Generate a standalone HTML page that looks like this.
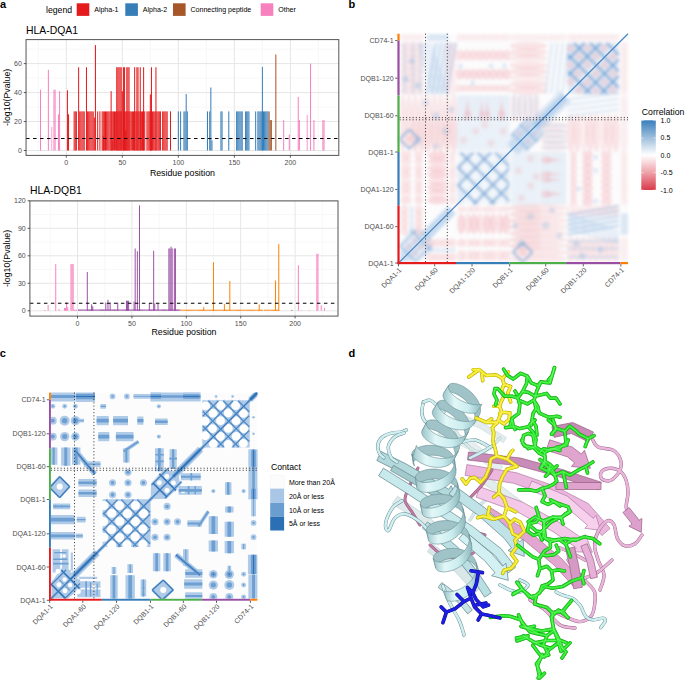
<!DOCTYPE html>
<html><head><meta charset="utf-8"><style>
html,body{margin:0;padding:0;background:#fff;width:685px;height:682px;overflow:hidden}
svg{display:block}
text{font-family:"Liberation Sans",sans-serif}
</style></head><body>
<svg width="685" height="682" viewBox="0 0 685 682">
<g>
<line x1="26.05" x2="338.8" y1="136.02" y2="136.02" stroke="#F2F2F2" stroke-width="0.6"/>
<line x1="26.05" x2="338.8" y1="107.06" y2="107.06" stroke="#F2F2F2" stroke-width="0.6"/>
<line x1="26.05" x2="338.8" y1="78.10" y2="78.10" stroke="#F2F2F2" stroke-width="0.6"/>
<line x1="26.05" x2="338.8" y1="49.14" y2="49.14" stroke="#F2F2F2" stroke-width="0.6"/>
<line y1="39.6" y2="155.4" x1="38.29" x2="38.29" stroke="#F2F2F2" stroke-width="0.6"/>
<line y1="39.6" y2="155.4" x1="94.31" x2="94.31" stroke="#F2F2F2" stroke-width="0.6"/>
<line y1="39.6" y2="155.4" x1="150.34" x2="150.34" stroke="#F2F2F2" stroke-width="0.6"/>
<line y1="39.6" y2="155.4" x1="206.36" x2="206.36" stroke="#F2F2F2" stroke-width="0.6"/>
<line y1="39.6" y2="155.4" x1="262.39" x2="262.39" stroke="#F2F2F2" stroke-width="0.6"/>
<line y1="39.6" y2="155.4" x1="318.41" x2="318.41" stroke="#F2F2F2" stroke-width="0.6"/>
<line x1="26.05" x2="338.8" y1="150.50" y2="150.50" stroke="#E6E6E6" stroke-width="1"/>
<line x1="26.05" x2="338.8" y1="121.54" y2="121.54" stroke="#E6E6E6" stroke-width="1"/>
<line x1="26.05" x2="338.8" y1="92.58" y2="92.58" stroke="#E6E6E6" stroke-width="1"/>
<line x1="26.05" x2="338.8" y1="63.62" y2="63.62" stroke="#E6E6E6" stroke-width="1"/>
<line y1="39.6" y2="155.4" x1="66.30" x2="66.30" stroke="#E6E6E6" stroke-width="1"/>
<line y1="39.6" y2="155.4" x1="122.33" x2="122.33" stroke="#E6E6E6" stroke-width="1"/>
<line y1="39.6" y2="155.4" x1="178.35" x2="178.35" stroke="#E6E6E6" stroke-width="1"/>
<line y1="39.6" y2="155.4" x1="234.38" x2="234.38" stroke="#E6E6E6" stroke-width="1"/>
<line y1="39.6" y2="155.4" x1="290.40" x2="290.40" stroke="#E6E6E6" stroke-width="1"/>
<rect x="94.93" y="45.09" width="1.01" height="105.41" fill="#E41A1C" opacity="1"/>
<rect x="275.33" y="54.50" width="1.01" height="96.00" fill="#A65628" opacity="1"/>
<rect x="310.06" y="63.62" width="1.01" height="86.88" fill="#F781BF" opacity="1"/>
<rect x="261.88" y="66.95" width="1.01" height="83.55" fill="#377EB8" opacity="1"/>
<rect x="78.12" y="67.24" width="1.01" height="83.26" fill="#E41A1C" opacity="1"/>
<rect x="85.96" y="67.24" width="1.01" height="83.26" fill="#E41A1C" opacity="1"/>
<rect x="116.22" y="67.24" width="1.01" height="83.26" fill="#E41A1C" opacity="1"/>
<rect x="117.34" y="67.24" width="1.01" height="83.26" fill="#E41A1C" opacity="1"/>
<rect x="118.46" y="67.24" width="1.01" height="83.26" fill="#E41A1C" opacity="1"/>
<rect x="119.58" y="67.24" width="1.01" height="83.26" fill="#E41A1C" opacity="1"/>
<rect x="120.70" y="67.24" width="1.01" height="83.26" fill="#E41A1C" opacity="1"/>
<rect x="122.94" y="67.24" width="1.01" height="83.26" fill="#E41A1C" opacity="1"/>
<rect x="124.06" y="67.24" width="1.01" height="83.26" fill="#E41A1C" opacity="1"/>
<rect x="126.30" y="67.24" width="1.01" height="83.26" fill="#E41A1C" opacity="1"/>
<rect x="127.42" y="67.24" width="1.01" height="83.26" fill="#E41A1C" opacity="1"/>
<rect x="128.54" y="67.24" width="1.01" height="83.26" fill="#E41A1C" opacity="1"/>
<rect x="134.15" y="67.24" width="1.01" height="83.26" fill="#E41A1C" opacity="1"/>
<rect x="136.39" y="67.24" width="1.01" height="83.26" fill="#E41A1C" opacity="1"/>
<rect x="137.51" y="67.24" width="1.01" height="83.26" fill="#E41A1C" opacity="1"/>
<rect x="139.75" y="67.24" width="1.01" height="83.26" fill="#E41A1C" opacity="1"/>
<rect x="143.11" y="67.24" width="1.01" height="83.26" fill="#E41A1C" opacity="1"/>
<rect x="150.95" y="67.24" width="1.01" height="83.26" fill="#E41A1C" opacity="1"/>
<rect x="155.44" y="67.24" width="1.01" height="83.26" fill="#E41A1C" opacity="1"/>
<rect x="47.87" y="69.85" width="1.01" height="80.65" fill="#F781BF" opacity="1"/>
<rect x="210.34" y="87.51" width="1.01" height="62.99" fill="#377EB8" opacity="1"/>
<rect x="40.02" y="89.68" width="1.01" height="60.82" fill="#F781BF" opacity="1"/>
<rect x="53.47" y="89.68" width="1.01" height="60.82" fill="#F781BF" opacity="1"/>
<rect x="54.59" y="89.68" width="1.01" height="60.82" fill="#F781BF" opacity="1"/>
<rect x="66.92" y="90.26" width="1.01" height="60.24" fill="#E41A1C" opacity="1"/>
<rect x="59.07" y="91.13" width="1.01" height="59.37" fill="#F781BF" opacity="1"/>
<rect x="110.62" y="91.13" width="1.01" height="59.37" fill="#E41A1C" opacity="1"/>
<rect x="121.82" y="91.13" width="1.01" height="59.37" fill="#E41A1C" opacity="1"/>
<rect x="185.69" y="94.03" width="1.01" height="56.47" fill="#377EB8" opacity="1"/>
<rect x="149.83" y="94.46" width="1.01" height="56.04" fill="#E41A1C" opacity="1"/>
<rect x="297.74" y="96.92" width="1.01" height="53.58" fill="#F781BF" opacity="1"/>
<rect x="73.64" y="111.40" width="1.01" height="39.10" fill="#E41A1C" opacity="1"/>
<rect x="74.76" y="111.40" width="1.01" height="39.10" fill="#E41A1C" opacity="1"/>
<rect x="75.88" y="111.40" width="1.01" height="39.10" fill="#E41A1C" opacity="1"/>
<rect x="79.24" y="111.40" width="1.01" height="39.10" fill="#E41A1C" opacity="1"/>
<rect x="80.36" y="111.40" width="1.01" height="39.10" fill="#E41A1C" opacity="1"/>
<rect x="81.48" y="111.40" width="1.01" height="39.10" fill="#E41A1C" opacity="1"/>
<rect x="82.60" y="111.40" width="1.01" height="39.10" fill="#E41A1C" opacity="1"/>
<rect x="83.72" y="111.40" width="1.01" height="39.10" fill="#E41A1C" opacity="1"/>
<rect x="87.09" y="111.40" width="1.01" height="39.10" fill="#E41A1C" opacity="1"/>
<rect x="88.21" y="111.40" width="1.01" height="39.10" fill="#E41A1C" opacity="1"/>
<rect x="89.33" y="111.40" width="1.01" height="39.10" fill="#E41A1C" opacity="1"/>
<rect x="90.45" y="111.40" width="1.01" height="39.10" fill="#E41A1C" opacity="1"/>
<rect x="91.57" y="111.40" width="1.01" height="39.10" fill="#E41A1C" opacity="1"/>
<rect x="92.69" y="111.40" width="1.01" height="39.10" fill="#E41A1C" opacity="1"/>
<rect x="97.17" y="111.40" width="1.01" height="39.10" fill="#E41A1C" opacity="1"/>
<rect x="99.41" y="111.40" width="1.01" height="39.10" fill="#E41A1C" opacity="1"/>
<rect x="101.65" y="111.40" width="1.01" height="39.10" fill="#E41A1C" opacity="1"/>
<rect x="102.77" y="111.40" width="1.01" height="39.10" fill="#E41A1C" opacity="1"/>
<rect x="103.89" y="111.40" width="1.01" height="39.10" fill="#E41A1C" opacity="1"/>
<rect x="105.01" y="111.40" width="1.01" height="39.10" fill="#E41A1C" opacity="1"/>
<rect x="106.13" y="111.40" width="1.01" height="39.10" fill="#E41A1C" opacity="1"/>
<rect x="107.25" y="111.40" width="1.01" height="39.10" fill="#E41A1C" opacity="1"/>
<rect x="108.37" y="111.40" width="1.01" height="39.10" fill="#E41A1C" opacity="1"/>
<rect x="109.50" y="111.40" width="1.01" height="39.10" fill="#E41A1C" opacity="1"/>
<rect x="110.62" y="111.40" width="1.01" height="39.10" fill="#E41A1C" opacity="1"/>
<rect x="111.74" y="111.40" width="1.01" height="39.10" fill="#E41A1C" opacity="1"/>
<rect x="112.86" y="111.40" width="1.01" height="39.10" fill="#E41A1C" opacity="1"/>
<rect x="113.98" y="111.40" width="1.01" height="39.10" fill="#E41A1C" opacity="1"/>
<rect x="115.10" y="111.40" width="1.01" height="39.10" fill="#E41A1C" opacity="1"/>
<rect x="116.22" y="111.40" width="1.01" height="39.10" fill="#E41A1C" opacity="1"/>
<rect x="117.34" y="111.40" width="1.01" height="39.10" fill="#E41A1C" opacity="1"/>
<rect x="118.46" y="111.40" width="1.01" height="39.10" fill="#E41A1C" opacity="1"/>
<rect x="119.58" y="111.40" width="1.01" height="39.10" fill="#E41A1C" opacity="1"/>
<rect x="120.70" y="111.40" width="1.01" height="39.10" fill="#E41A1C" opacity="1"/>
<rect x="122.94" y="111.40" width="1.01" height="39.10" fill="#E41A1C" opacity="1"/>
<rect x="124.06" y="111.40" width="1.01" height="39.10" fill="#E41A1C" opacity="1"/>
<rect x="125.18" y="111.40" width="1.01" height="39.10" fill="#E41A1C" opacity="1"/>
<rect x="126.30" y="111.40" width="1.01" height="39.10" fill="#E41A1C" opacity="1"/>
<rect x="127.42" y="111.40" width="1.01" height="39.10" fill="#E41A1C" opacity="1"/>
<rect x="128.54" y="111.40" width="1.01" height="39.10" fill="#E41A1C" opacity="1"/>
<rect x="129.66" y="111.40" width="1.01" height="39.10" fill="#E41A1C" opacity="1"/>
<rect x="130.78" y="111.40" width="1.01" height="39.10" fill="#E41A1C" opacity="1"/>
<rect x="131.91" y="111.40" width="1.01" height="39.10" fill="#E41A1C" opacity="1"/>
<rect x="133.03" y="111.40" width="1.01" height="39.10" fill="#E41A1C" opacity="1"/>
<rect x="134.15" y="111.40" width="1.01" height="39.10" fill="#E41A1C" opacity="1"/>
<rect x="135.27" y="111.40" width="1.01" height="39.10" fill="#E41A1C" opacity="1"/>
<rect x="136.39" y="111.40" width="1.01" height="39.10" fill="#E41A1C" opacity="1"/>
<rect x="137.51" y="111.40" width="1.01" height="39.10" fill="#E41A1C" opacity="1"/>
<rect x="138.63" y="111.40" width="1.01" height="39.10" fill="#E41A1C" opacity="1"/>
<rect x="139.75" y="111.40" width="1.01" height="39.10" fill="#E41A1C" opacity="1"/>
<rect x="140.87" y="111.40" width="1.01" height="39.10" fill="#E41A1C" opacity="1"/>
<rect x="141.99" y="111.40" width="1.01" height="39.10" fill="#E41A1C" opacity="1"/>
<rect x="143.11" y="111.40" width="1.01" height="39.10" fill="#E41A1C" opacity="1"/>
<rect x="144.23" y="111.40" width="1.01" height="39.10" fill="#E41A1C" opacity="1"/>
<rect x="146.47" y="111.40" width="1.01" height="39.10" fill="#E41A1C" opacity="1"/>
<rect x="147.59" y="111.40" width="1.01" height="39.10" fill="#E41A1C" opacity="1"/>
<rect x="148.71" y="111.40" width="1.01" height="39.10" fill="#E41A1C" opacity="1"/>
<rect x="149.83" y="111.40" width="1.01" height="39.10" fill="#E41A1C" opacity="1"/>
<rect x="150.95" y="111.40" width="1.01" height="39.10" fill="#E41A1C" opacity="1"/>
<rect x="152.07" y="111.40" width="1.01" height="39.10" fill="#E41A1C" opacity="1"/>
<rect x="153.19" y="111.40" width="1.01" height="39.10" fill="#E41A1C" opacity="1"/>
<rect x="154.32" y="111.40" width="1.01" height="39.10" fill="#E41A1C" opacity="1"/>
<rect x="155.44" y="111.40" width="1.01" height="39.10" fill="#E41A1C" opacity="1"/>
<rect x="156.56" y="111.40" width="1.01" height="39.10" fill="#E41A1C" opacity="1"/>
<rect x="157.68" y="111.40" width="1.01" height="39.10" fill="#E41A1C" opacity="1"/>
<rect x="158.80" y="111.40" width="1.01" height="39.10" fill="#E41A1C" opacity="1"/>
<rect x="159.92" y="111.40" width="1.01" height="39.10" fill="#E41A1C" opacity="1"/>
<rect x="162.16" y="111.40" width="1.01" height="39.10" fill="#E41A1C" opacity="1"/>
<rect x="163.28" y="111.40" width="1.01" height="39.10" fill="#E41A1C" opacity="1"/>
<rect x="164.40" y="111.40" width="1.01" height="39.10" fill="#E41A1C" opacity="1"/>
<rect x="165.52" y="111.40" width="1.01" height="39.10" fill="#E41A1C" opacity="1"/>
<rect x="166.64" y="111.40" width="1.01" height="39.10" fill="#E41A1C" opacity="1"/>
<rect x="170.00" y="111.40" width="1.01" height="39.10" fill="#E41A1C" opacity="1"/>
<rect x="177.85" y="111.40" width="1.01" height="39.10" fill="#377EB8" opacity="1"/>
<rect x="180.09" y="111.40" width="1.01" height="39.10" fill="#377EB8" opacity="1"/>
<rect x="183.45" y="111.40" width="1.01" height="39.10" fill="#377EB8" opacity="1"/>
<rect x="184.57" y="111.40" width="1.01" height="39.10" fill="#377EB8" opacity="1"/>
<rect x="186.81" y="111.40" width="1.01" height="39.10" fill="#377EB8" opacity="1"/>
<rect x="206.98" y="111.40" width="1.01" height="39.10" fill="#377EB8" opacity="1"/>
<rect x="209.22" y="111.40" width="1.01" height="39.10" fill="#377EB8" opacity="1"/>
<rect x="220.42" y="111.40" width="1.01" height="39.10" fill="#377EB8" opacity="1"/>
<rect x="221.55" y="111.40" width="1.01" height="39.10" fill="#377EB8" opacity="1"/>
<rect x="228.27" y="111.40" width="1.01" height="39.10" fill="#377EB8" opacity="1"/>
<rect x="236.11" y="111.40" width="1.01" height="39.10" fill="#377EB8" opacity="1"/>
<rect x="237.23" y="111.40" width="1.01" height="39.10" fill="#377EB8" opacity="1"/>
<rect x="238.35" y="111.40" width="1.01" height="39.10" fill="#377EB8" opacity="1"/>
<rect x="239.47" y="111.40" width="1.01" height="39.10" fill="#377EB8" opacity="1"/>
<rect x="240.59" y="111.40" width="1.01" height="39.10" fill="#377EB8" opacity="1"/>
<rect x="241.71" y="111.40" width="1.01" height="39.10" fill="#377EB8" opacity="1"/>
<rect x="245.08" y="111.40" width="1.01" height="39.10" fill="#377EB8" opacity="1"/>
<rect x="246.20" y="111.40" width="1.01" height="39.10" fill="#377EB8" opacity="1"/>
<rect x="247.32" y="111.40" width="1.01" height="39.10" fill="#377EB8" opacity="1"/>
<rect x="248.44" y="111.40" width="1.01" height="39.10" fill="#377EB8" opacity="1"/>
<rect x="255.16" y="111.40" width="1.01" height="39.10" fill="#377EB8" opacity="1"/>
<rect x="257.40" y="111.40" width="1.01" height="39.10" fill="#377EB8" opacity="1"/>
<rect x="258.52" y="111.40" width="1.01" height="39.10" fill="#377EB8" opacity="1"/>
<rect x="259.64" y="111.40" width="1.01" height="39.10" fill="#377EB8" opacity="1"/>
<rect x="260.76" y="111.40" width="1.01" height="39.10" fill="#377EB8" opacity="1"/>
<rect x="261.88" y="111.40" width="1.01" height="39.10" fill="#377EB8" opacity="1"/>
<rect x="263.00" y="111.40" width="1.01" height="39.10" fill="#377EB8" opacity="1"/>
<rect x="264.12" y="111.40" width="1.01" height="39.10" fill="#377EB8" opacity="1"/>
<rect x="265.24" y="111.40" width="1.01" height="39.10" fill="#377EB8" opacity="1"/>
<rect x="266.37" y="111.40" width="1.01" height="39.10" fill="#377EB8" opacity="1"/>
<rect x="267.49" y="111.40" width="1.01" height="39.10" fill="#377EB8" opacity="1"/>
<rect x="268.61" y="111.40" width="1.01" height="39.10" fill="#A65628" opacity="1"/>
<rect x="57.95" y="114.30" width="1.01" height="36.20" fill="#F781BF" opacity="1"/>
<rect x="68.04" y="114.30" width="1.01" height="36.20" fill="#E41A1C" opacity="1"/>
<rect x="306.70" y="114.88" width="1.01" height="35.62" fill="#F781BF" opacity="0.8"/>
<rect x="93.81" y="117.49" width="1.01" height="33.01" fill="#E41A1C" opacity="1"/>
<rect x="269.73" y="120.09" width="1.01" height="30.41" fill="#A65628" opacity="1"/>
<rect x="270.85" y="120.09" width="1.01" height="30.41" fill="#A65628" opacity="1"/>
<rect x="283.17" y="120.09" width="1.01" height="30.41" fill="#F781BF" opacity="1"/>
<rect x="298.86" y="120.09" width="1.01" height="30.41" fill="#F781BF" opacity="1"/>
<rect x="313.43" y="120.09" width="1.01" height="30.41" fill="#F781BF" opacity="1"/>
<rect x="322.39" y="120.09" width="1.01" height="30.41" fill="#F781BF" opacity="1"/>
<rect x="323.51" y="120.09" width="1.01" height="30.41" fill="#F781BF" opacity="1"/>
<rect x="51.23" y="126.75" width="1.01" height="23.75" fill="#F781BF" opacity="0.7"/>
<rect x="125.18" y="130.23" width="1.01" height="20.27" fill="#E41A1C" opacity="1"/>
<rect x="288.78" y="134.57" width="1.01" height="15.93" fill="#F781BF" opacity="1"/>
<rect x="102.77" y="136.02" width="1.01" height="14.48" fill="#E41A1C" opacity="1"/>
<rect x="111.74" y="140.36" width="1.01" height="10.14" fill="#E41A1C" opacity="1"/>
<rect x="211.46" y="140.36" width="1.01" height="10.14" fill="#377EB8" opacity="1"/>
<line x1="26.05" x2="338.8" y1="138.48" y2="138.48" stroke="#000" stroke-width="1.1" stroke-dasharray="3.5 3.5"/>
<rect x="26.05" y="39.6" width="312.75" height="115.80000000000001" fill="none" stroke="#555" stroke-width="1"/>
<line x1="23.75" x2="26.05" y1="150.50" y2="150.50" stroke="#333" stroke-width="0.8"/>
<text x="21.85" y="153.00" font-size="7" text-anchor="end" fill="#4D4D4D" >0</text>
<line x1="23.75" x2="26.05" y1="121.54" y2="121.54" stroke="#333" stroke-width="0.8"/>
<text x="21.85" y="124.04" font-size="7" text-anchor="end" fill="#4D4D4D" >20</text>
<line x1="23.75" x2="26.05" y1="92.58" y2="92.58" stroke="#333" stroke-width="0.8"/>
<text x="21.85" y="95.08" font-size="7" text-anchor="end" fill="#4D4D4D" >40</text>
<line x1="23.75" x2="26.05" y1="63.62" y2="63.62" stroke="#333" stroke-width="0.8"/>
<text x="21.85" y="66.12" font-size="7" text-anchor="end" fill="#4D4D4D" >60</text>
<line x1="66.30" x2="66.30" y1="155.4" y2="157.70000000000002" stroke="#333" stroke-width="0.8"/>
<text x="66.30" y="165.20" font-size="7" text-anchor="middle" fill="#4D4D4D" >0</text>
<line x1="122.33" x2="122.33" y1="155.4" y2="157.70000000000002" stroke="#333" stroke-width="0.8"/>
<text x="122.33" y="165.20" font-size="7" text-anchor="middle" fill="#4D4D4D" >50</text>
<line x1="178.35" x2="178.35" y1="155.4" y2="157.70000000000002" stroke="#333" stroke-width="0.8"/>
<text x="178.35" y="165.20" font-size="7" text-anchor="middle" fill="#4D4D4D" >100</text>
<line x1="234.38" x2="234.38" y1="155.4" y2="157.70000000000002" stroke="#333" stroke-width="0.8"/>
<text x="234.38" y="165.20" font-size="7" text-anchor="middle" fill="#4D4D4D" >150</text>
<line x1="290.40" x2="290.40" y1="155.4" y2="157.70000000000002" stroke="#333" stroke-width="0.8"/>
<text x="290.40" y="165.20" font-size="7" text-anchor="middle" fill="#4D4D4D" >200</text>
<text x="26.05" y="34.00" font-size="10.4" text-anchor="start" fill="#000" >HLA-DQA1</text>
</g>
<g>
<line x1="29.9" x2="338.0" y1="297.05" y2="297.05" stroke="#F2F2F2" stroke-width="0.6"/>
<line x1="29.9" x2="338.0" y1="269.55" y2="269.55" stroke="#F2F2F2" stroke-width="0.6"/>
<line x1="29.9" x2="338.0" y1="242.05" y2="242.05" stroke="#F2F2F2" stroke-width="0.6"/>
<line x1="29.9" x2="338.0" y1="214.55" y2="214.55" stroke="#F2F2F2" stroke-width="0.6"/>
<line y1="200.9" y2="316.1" x1="50.30" x2="50.30" stroke="#F2F2F2" stroke-width="0.6"/>
<line y1="200.9" y2="316.1" x1="104.70" x2="104.70" stroke="#F2F2F2" stroke-width="0.6"/>
<line y1="200.9" y2="316.1" x1="159.10" x2="159.10" stroke="#F2F2F2" stroke-width="0.6"/>
<line y1="200.9" y2="316.1" x1="213.50" x2="213.50" stroke="#F2F2F2" stroke-width="0.6"/>
<line y1="200.9" y2="316.1" x1="267.90" x2="267.90" stroke="#F2F2F2" stroke-width="0.6"/>
<line y1="200.9" y2="316.1" x1="322.30" x2="322.30" stroke="#F2F2F2" stroke-width="0.6"/>
<line x1="29.9" x2="338.0" y1="310.80" y2="310.80" stroke="#E6E6E6" stroke-width="1"/>
<line x1="29.9" x2="338.0" y1="283.30" y2="283.30" stroke="#E6E6E6" stroke-width="1"/>
<line x1="29.9" x2="338.0" y1="255.80" y2="255.80" stroke="#E6E6E6" stroke-width="1"/>
<line x1="29.9" x2="338.0" y1="228.30" y2="228.30" stroke="#E6E6E6" stroke-width="1"/>
<line x1="29.9" x2="338.0" y1="200.80" y2="200.80" stroke="#E6E6E6" stroke-width="1"/>
<line y1="200.9" y2="316.1" x1="77.50" x2="77.50" stroke="#E6E6E6" stroke-width="1"/>
<line y1="200.9" y2="316.1" x1="131.90" x2="131.90" stroke="#E6E6E6" stroke-width="1"/>
<line y1="200.9" y2="316.1" x1="186.30" x2="186.30" stroke="#E6E6E6" stroke-width="1"/>
<line y1="200.9" y2="316.1" x1="240.70" x2="240.70" stroke="#E6E6E6" stroke-width="1"/>
<line y1="200.9" y2="316.1" x1="295.10" x2="295.10" stroke="#E6E6E6" stroke-width="1"/>
<rect x="139.03" y="205.38" width="0.98" height="105.42" fill="#984EA3" opacity="1"/>
<rect x="278.29" y="244.06" width="0.98" height="66.74" fill="#FF7F00" opacity="1"/>
<rect x="170.58" y="246.63" width="0.98" height="64.17" fill="#984EA3" opacity="1"/>
<rect x="134.67" y="248.46" width="0.98" height="62.34" fill="#984EA3" opacity="1"/>
<rect x="168.40" y="248.46" width="0.98" height="62.34" fill="#984EA3" opacity="1"/>
<rect x="169.49" y="248.46" width="0.98" height="62.34" fill="#984EA3" opacity="1"/>
<rect x="171.67" y="248.46" width="0.98" height="62.34" fill="#984EA3" opacity="1"/>
<rect x="173.84" y="248.46" width="0.98" height="62.34" fill="#984EA3" opacity="1"/>
<rect x="174.93" y="248.46" width="0.98" height="62.34" fill="#984EA3" opacity="1"/>
<rect x="153.17" y="250.76" width="0.98" height="60.04" fill="#984EA3" opacity="1"/>
<rect x="136.85" y="251.21" width="0.98" height="59.59" fill="#984EA3" opacity="1"/>
<rect x="316.37" y="253.78" width="0.98" height="57.02" fill="#F781BF" opacity="1"/>
<rect x="317.46" y="253.78" width="0.98" height="57.02" fill="#F781BF" opacity="1"/>
<rect x="213.01" y="262.21" width="0.98" height="48.59" fill="#FF7F00" opacity="1"/>
<rect x="55.25" y="264.05" width="0.98" height="46.75" fill="#F781BF" opacity="1"/>
<rect x="70.48" y="264.05" width="0.98" height="46.75" fill="#F781BF" opacity="1"/>
<rect x="71.57" y="264.05" width="0.98" height="46.75" fill="#F781BF" opacity="1"/>
<rect x="72.66" y="264.05" width="0.98" height="46.75" fill="#F781BF" opacity="1"/>
<rect x="297.87" y="265.24" width="0.98" height="45.56" fill="#F781BF" opacity="1"/>
<rect x="86.80" y="272.02" width="0.98" height="38.78" fill="#984EA3" opacity="1"/>
<rect x="275.03" y="280.55" width="0.98" height="30.25" fill="#FF7F00" opacity="1"/>
<rect x="229.33" y="281.10" width="0.98" height="29.70" fill="#FF7F00" opacity="1"/>
<rect x="107.47" y="299.80" width="0.98" height="11.00" fill="#984EA3" opacity="1"/>
<rect x="125.97" y="300.72" width="0.98" height="10.08" fill="#984EA3" opacity="1"/>
<rect x="127.06" y="300.72" width="0.98" height="10.08" fill="#984EA3" opacity="1"/>
<rect x="128.15" y="300.72" width="0.98" height="10.08" fill="#984EA3" opacity="1"/>
<rect x="133.59" y="301.63" width="0.98" height="9.17" fill="#984EA3" opacity="1"/>
<rect x="66.13" y="302.00" width="0.98" height="8.80" fill="#F781BF" opacity="1"/>
<rect x="105.30" y="302.55" width="0.98" height="8.25" fill="#984EA3" opacity="1"/>
<rect x="109.65" y="302.55" width="0.98" height="8.25" fill="#984EA3" opacity="1"/>
<rect x="117.27" y="302.55" width="0.98" height="8.25" fill="#984EA3" opacity="1"/>
<rect x="148.82" y="303.47" width="0.98" height="7.33" fill="#984EA3" opacity="1"/>
<rect x="154.26" y="303.47" width="0.98" height="7.33" fill="#984EA3" opacity="1"/>
<rect x="157.52" y="303.47" width="0.98" height="7.33" fill="#984EA3" opacity="1"/>
<rect x="223.89" y="303.92" width="0.98" height="6.88" fill="#FF7F00" opacity="1"/>
<rect x="91.15" y="304.38" width="0.98" height="6.42" fill="#984EA3" opacity="1"/>
<rect x="258.71" y="304.38" width="0.98" height="6.42" fill="#FF7F00" opacity="1"/>
<rect x="47.63" y="305.02" width="0.98" height="5.78" fill="#F781BF" opacity="1"/>
<rect x="320.72" y="305.30" width="0.98" height="5.50" fill="#F781BF" opacity="1"/>
<rect x="92.24" y="306.22" width="0.98" height="4.58" fill="#984EA3" opacity="1"/>
<rect x="67.22" y="307.13" width="0.98" height="3.67" fill="#F781BF" opacity="1"/>
<rect x="203.22" y="307.13" width="0.98" height="3.67" fill="#FF7F00" opacity="1"/>
<rect x="63.95" y="308.05" width="0.98" height="2.75" fill="#F781BF" opacity="1"/>
<rect x="65.04" y="308.05" width="0.98" height="2.75" fill="#F781BF" opacity="1"/>
<rect x="323.99" y="308.05" width="0.98" height="2.75" fill="#F781BF" opacity="1"/>
<rect x="58.51" y="308.97" width="0.98" height="1.83" fill="#F781BF" opacity="1"/>
<rect x="78.10" y="309.42" width="0.98" height="1.38" fill="#984EA3" opacity="1"/>
<rect x="79.19" y="309.42" width="0.98" height="1.38" fill="#984EA3" opacity="1"/>
<rect x="80.27" y="309.42" width="0.98" height="1.38" fill="#984EA3" opacity="1"/>
<rect x="81.36" y="309.42" width="0.98" height="1.38" fill="#984EA3" opacity="1"/>
<rect x="82.45" y="309.42" width="0.98" height="1.38" fill="#984EA3" opacity="1"/>
<rect x="83.54" y="309.42" width="0.98" height="1.38" fill="#984EA3" opacity="1"/>
<rect x="84.63" y="309.42" width="0.98" height="1.38" fill="#984EA3" opacity="1"/>
<rect x="85.71" y="309.42" width="0.98" height="1.38" fill="#984EA3" opacity="1"/>
<rect x="86.80" y="309.42" width="0.98" height="1.38" fill="#984EA3" opacity="1"/>
<rect x="87.89" y="309.42" width="0.98" height="1.38" fill="#984EA3" opacity="1"/>
<rect x="88.98" y="309.42" width="0.98" height="1.38" fill="#984EA3" opacity="1"/>
<rect x="90.07" y="309.42" width="0.98" height="1.38" fill="#984EA3" opacity="1"/>
<rect x="91.15" y="309.42" width="0.98" height="1.38" fill="#984EA3" opacity="1"/>
<rect x="92.24" y="309.42" width="0.98" height="1.38" fill="#984EA3" opacity="1"/>
<rect x="93.33" y="309.42" width="0.98" height="1.38" fill="#984EA3" opacity="1"/>
<rect x="94.42" y="309.42" width="0.98" height="1.38" fill="#984EA3" opacity="1"/>
<rect x="95.51" y="309.42" width="0.98" height="1.38" fill="#984EA3" opacity="1"/>
<rect x="96.59" y="309.42" width="0.98" height="1.38" fill="#984EA3" opacity="1"/>
<rect x="97.68" y="309.42" width="0.98" height="1.38" fill="#984EA3" opacity="1"/>
<rect x="98.77" y="309.42" width="0.98" height="1.38" fill="#984EA3" opacity="1"/>
<rect x="99.86" y="309.42" width="0.98" height="1.38" fill="#984EA3" opacity="1"/>
<rect x="100.95" y="309.42" width="0.98" height="1.38" fill="#984EA3" opacity="1"/>
<rect x="102.03" y="309.42" width="0.98" height="1.38" fill="#984EA3" opacity="1"/>
<rect x="103.12" y="309.42" width="0.98" height="1.38" fill="#984EA3" opacity="1"/>
<rect x="104.21" y="309.42" width="0.98" height="1.38" fill="#984EA3" opacity="1"/>
<rect x="105.30" y="309.42" width="0.98" height="1.38" fill="#984EA3" opacity="1"/>
<rect x="106.39" y="309.42" width="0.98" height="1.38" fill="#984EA3" opacity="1"/>
<rect x="107.47" y="309.42" width="0.98" height="1.38" fill="#984EA3" opacity="1"/>
<rect x="108.56" y="309.42" width="0.98" height="1.38" fill="#984EA3" opacity="1"/>
<rect x="109.65" y="309.42" width="0.98" height="1.38" fill="#984EA3" opacity="1"/>
<rect x="110.74" y="309.42" width="0.98" height="1.38" fill="#984EA3" opacity="1"/>
<rect x="111.83" y="309.42" width="0.98" height="1.38" fill="#984EA3" opacity="1"/>
<rect x="112.91" y="309.42" width="0.98" height="1.38" fill="#984EA3" opacity="1"/>
<rect x="114.00" y="309.42" width="0.98" height="1.38" fill="#984EA3" opacity="1"/>
<rect x="115.09" y="309.42" width="0.98" height="1.38" fill="#984EA3" opacity="1"/>
<rect x="116.18" y="309.42" width="0.98" height="1.38" fill="#984EA3" opacity="1"/>
<rect x="117.27" y="309.42" width="0.98" height="1.38" fill="#984EA3" opacity="1"/>
<rect x="118.35" y="309.42" width="0.98" height="1.38" fill="#984EA3" opacity="1"/>
<rect x="119.44" y="309.42" width="0.98" height="1.38" fill="#984EA3" opacity="1"/>
<rect x="120.53" y="309.42" width="0.98" height="1.38" fill="#984EA3" opacity="1"/>
<rect x="121.62" y="309.42" width="0.98" height="1.38" fill="#984EA3" opacity="1"/>
<rect x="122.71" y="309.42" width="0.98" height="1.38" fill="#984EA3" opacity="1"/>
<rect x="123.79" y="309.42" width="0.98" height="1.38" fill="#984EA3" opacity="1"/>
<rect x="124.88" y="309.42" width="0.98" height="1.38" fill="#984EA3" opacity="1"/>
<rect x="125.97" y="309.42" width="0.98" height="1.38" fill="#984EA3" opacity="1"/>
<rect x="127.06" y="309.42" width="0.98" height="1.38" fill="#984EA3" opacity="1"/>
<rect x="128.15" y="309.42" width="0.98" height="1.38" fill="#984EA3" opacity="1"/>
<rect x="129.23" y="309.42" width="0.98" height="1.38" fill="#984EA3" opacity="1"/>
<rect x="130.32" y="309.42" width="0.98" height="1.38" fill="#984EA3" opacity="1"/>
<rect x="131.41" y="309.42" width="0.98" height="1.38" fill="#984EA3" opacity="1"/>
<rect x="132.50" y="309.42" width="0.98" height="1.38" fill="#984EA3" opacity="1"/>
<rect x="133.59" y="309.42" width="0.98" height="1.38" fill="#984EA3" opacity="1"/>
<rect x="134.67" y="309.42" width="0.98" height="1.38" fill="#984EA3" opacity="1"/>
<rect x="135.76" y="309.42" width="0.98" height="1.38" fill="#984EA3" opacity="1"/>
<rect x="136.85" y="309.42" width="0.98" height="1.38" fill="#984EA3" opacity="1"/>
<rect x="137.94" y="309.42" width="0.98" height="1.38" fill="#984EA3" opacity="1"/>
<rect x="139.03" y="309.42" width="0.98" height="1.38" fill="#984EA3" opacity="1"/>
<rect x="140.11" y="309.42" width="0.98" height="1.38" fill="#984EA3" opacity="1"/>
<rect x="141.20" y="309.42" width="0.98" height="1.38" fill="#984EA3" opacity="1"/>
<rect x="142.29" y="309.42" width="0.98" height="1.38" fill="#984EA3" opacity="1"/>
<rect x="143.38" y="309.42" width="0.98" height="1.38" fill="#984EA3" opacity="1"/>
<rect x="144.47" y="309.42" width="0.98" height="1.38" fill="#984EA3" opacity="1"/>
<rect x="145.55" y="309.42" width="0.98" height="1.38" fill="#984EA3" opacity="1"/>
<rect x="146.64" y="309.42" width="0.98" height="1.38" fill="#984EA3" opacity="1"/>
<rect x="147.73" y="309.42" width="0.98" height="1.38" fill="#984EA3" opacity="1"/>
<rect x="148.82" y="309.42" width="0.98" height="1.38" fill="#984EA3" opacity="1"/>
<rect x="149.91" y="309.42" width="0.98" height="1.38" fill="#984EA3" opacity="1"/>
<rect x="150.99" y="309.42" width="0.98" height="1.38" fill="#984EA3" opacity="1"/>
<rect x="152.08" y="309.42" width="0.98" height="1.38" fill="#984EA3" opacity="1"/>
<rect x="153.17" y="309.42" width="0.98" height="1.38" fill="#984EA3" opacity="1"/>
<rect x="154.26" y="309.42" width="0.98" height="1.38" fill="#984EA3" opacity="1"/>
<rect x="155.35" y="309.42" width="0.98" height="1.38" fill="#984EA3" opacity="1"/>
<rect x="156.43" y="309.42" width="0.98" height="1.38" fill="#984EA3" opacity="1"/>
<rect x="157.52" y="309.42" width="0.98" height="1.38" fill="#984EA3" opacity="1"/>
<rect x="158.61" y="309.42" width="0.98" height="1.38" fill="#984EA3" opacity="1"/>
<rect x="159.70" y="309.42" width="0.98" height="1.38" fill="#984EA3" opacity="1"/>
<rect x="160.79" y="309.42" width="0.98" height="1.38" fill="#984EA3" opacity="1"/>
<rect x="161.87" y="309.42" width="0.98" height="1.38" fill="#984EA3" opacity="1"/>
<rect x="162.96" y="309.42" width="0.98" height="1.38" fill="#984EA3" opacity="1"/>
<rect x="164.05" y="309.42" width="0.98" height="1.38" fill="#984EA3" opacity="1"/>
<rect x="165.14" y="309.42" width="0.98" height="1.38" fill="#984EA3" opacity="1"/>
<rect x="166.23" y="309.42" width="0.98" height="1.38" fill="#984EA3" opacity="1"/>
<rect x="167.31" y="309.42" width="0.98" height="1.38" fill="#984EA3" opacity="1"/>
<rect x="168.40" y="309.42" width="0.98" height="1.38" fill="#984EA3" opacity="1"/>
<rect x="169.49" y="309.42" width="0.98" height="1.38" fill="#984EA3" opacity="1"/>
<rect x="170.58" y="309.42" width="0.98" height="1.38" fill="#984EA3" opacity="1"/>
<rect x="171.67" y="309.42" width="0.98" height="1.38" fill="#984EA3" opacity="1"/>
<rect x="172.75" y="309.42" width="0.98" height="1.38" fill="#984EA3" opacity="1"/>
<rect x="173.84" y="309.42" width="0.98" height="1.38" fill="#984EA3" opacity="1"/>
<rect x="174.93" y="309.42" width="0.98" height="1.38" fill="#984EA3" opacity="1"/>
<rect x="176.02" y="309.42" width="0.98" height="1.38" fill="#984EA3" opacity="1"/>
<rect x="177.11" y="309.42" width="0.98" height="1.38" fill="#984EA3" opacity="1"/>
<rect x="178.19" y="309.42" width="0.98" height="1.38" fill="#984EA3" opacity="1"/>
<rect x="179.28" y="309.42" width="0.98" height="1.38" fill="#984EA3" opacity="1"/>
<rect x="73.75" y="309.70" width="0.98" height="1.10" fill="#F781BF" opacity="1"/>
<rect x="74.83" y="309.70" width="0.98" height="1.10" fill="#F781BF" opacity="1"/>
<rect x="75.92" y="309.70" width="0.98" height="1.10" fill="#F781BF" opacity="1"/>
<rect x="180.37" y="309.70" width="0.98" height="1.10" fill="#FF7F00" opacity="1"/>
<rect x="181.46" y="309.70" width="0.98" height="1.10" fill="#FF7F00" opacity="1"/>
<rect x="182.55" y="309.70" width="0.98" height="1.10" fill="#FF7F00" opacity="1"/>
<rect x="183.63" y="309.70" width="0.98" height="1.10" fill="#FF7F00" opacity="1"/>
<rect x="184.72" y="309.70" width="0.98" height="1.10" fill="#FF7F00" opacity="1"/>
<rect x="185.81" y="309.70" width="0.98" height="1.10" fill="#FF7F00" opacity="1"/>
<rect x="186.90" y="309.70" width="0.98" height="1.10" fill="#FF7F00" opacity="1"/>
<rect x="187.99" y="309.70" width="0.98" height="1.10" fill="#FF7F00" opacity="1"/>
<rect x="189.07" y="309.70" width="0.98" height="1.10" fill="#FF7F00" opacity="1"/>
<rect x="190.16" y="309.70" width="0.98" height="1.10" fill="#FF7F00" opacity="1"/>
<rect x="191.25" y="309.70" width="0.98" height="1.10" fill="#FF7F00" opacity="1"/>
<rect x="192.34" y="309.70" width="0.98" height="1.10" fill="#FF7F00" opacity="1"/>
<rect x="193.43" y="309.70" width="0.98" height="1.10" fill="#FF7F00" opacity="1"/>
<rect x="194.51" y="309.70" width="0.98" height="1.10" fill="#FF7F00" opacity="1"/>
<rect x="195.60" y="309.70" width="0.98" height="1.10" fill="#FF7F00" opacity="1"/>
<rect x="196.69" y="309.70" width="0.98" height="1.10" fill="#FF7F00" opacity="1"/>
<rect x="197.78" y="309.70" width="0.98" height="1.10" fill="#FF7F00" opacity="1"/>
<rect x="198.87" y="309.70" width="0.98" height="1.10" fill="#FF7F00" opacity="1"/>
<rect x="199.95" y="309.70" width="0.98" height="1.10" fill="#FF7F00" opacity="1"/>
<rect x="201.04" y="309.70" width="0.98" height="1.10" fill="#FF7F00" opacity="1"/>
<rect x="202.13" y="309.70" width="0.98" height="1.10" fill="#FF7F00" opacity="1"/>
<rect x="203.22" y="309.70" width="0.98" height="1.10" fill="#FF7F00" opacity="1"/>
<rect x="204.31" y="309.70" width="0.98" height="1.10" fill="#FF7F00" opacity="1"/>
<rect x="205.39" y="309.70" width="0.98" height="1.10" fill="#FF7F00" opacity="1"/>
<rect x="206.48" y="309.70" width="0.98" height="1.10" fill="#FF7F00" opacity="1"/>
<rect x="207.57" y="309.70" width="0.98" height="1.10" fill="#FF7F00" opacity="1"/>
<rect x="208.66" y="309.70" width="0.98" height="1.10" fill="#FF7F00" opacity="1"/>
<rect x="209.75" y="309.70" width="0.98" height="1.10" fill="#FF7F00" opacity="1"/>
<rect x="210.83" y="309.70" width="0.98" height="1.10" fill="#FF7F00" opacity="1"/>
<rect x="211.92" y="309.70" width="0.98" height="1.10" fill="#FF7F00" opacity="1"/>
<rect x="213.01" y="309.70" width="0.98" height="1.10" fill="#FF7F00" opacity="1"/>
<rect x="214.10" y="309.70" width="0.98" height="1.10" fill="#FF7F00" opacity="1"/>
<rect x="215.19" y="309.70" width="0.98" height="1.10" fill="#FF7F00" opacity="1"/>
<rect x="216.27" y="309.70" width="0.98" height="1.10" fill="#FF7F00" opacity="1"/>
<rect x="217.36" y="309.70" width="0.98" height="1.10" fill="#FF7F00" opacity="1"/>
<rect x="218.45" y="309.70" width="0.98" height="1.10" fill="#FF7F00" opacity="1"/>
<rect x="219.54" y="309.70" width="0.98" height="1.10" fill="#FF7F00" opacity="1"/>
<rect x="220.63" y="309.70" width="0.98" height="1.10" fill="#FF7F00" opacity="1"/>
<rect x="221.71" y="309.70" width="0.98" height="1.10" fill="#FF7F00" opacity="1"/>
<rect x="222.80" y="309.70" width="0.98" height="1.10" fill="#FF7F00" opacity="1"/>
<rect x="223.89" y="309.70" width="0.98" height="1.10" fill="#FF7F00" opacity="1"/>
<rect x="224.98" y="309.70" width="0.98" height="1.10" fill="#FF7F00" opacity="1"/>
<rect x="226.07" y="309.70" width="0.98" height="1.10" fill="#FF7F00" opacity="1"/>
<rect x="227.15" y="309.70" width="0.98" height="1.10" fill="#FF7F00" opacity="1"/>
<rect x="228.24" y="309.70" width="0.98" height="1.10" fill="#FF7F00" opacity="1"/>
<rect x="229.33" y="309.70" width="0.98" height="1.10" fill="#FF7F00" opacity="1"/>
<rect x="230.42" y="309.70" width="0.98" height="1.10" fill="#FF7F00" opacity="1"/>
<rect x="231.51" y="309.70" width="0.98" height="1.10" fill="#FF7F00" opacity="1"/>
<rect x="232.59" y="309.70" width="0.98" height="1.10" fill="#FF7F00" opacity="1"/>
<rect x="233.68" y="309.70" width="0.98" height="1.10" fill="#FF7F00" opacity="1"/>
<rect x="234.77" y="309.70" width="0.98" height="1.10" fill="#FF7F00" opacity="1"/>
<rect x="235.86" y="309.70" width="0.98" height="1.10" fill="#FF7F00" opacity="1"/>
<rect x="236.95" y="309.70" width="0.98" height="1.10" fill="#FF7F00" opacity="1"/>
<rect x="238.03" y="309.70" width="0.98" height="1.10" fill="#FF7F00" opacity="1"/>
<rect x="239.12" y="309.70" width="0.98" height="1.10" fill="#FF7F00" opacity="1"/>
<rect x="240.21" y="309.70" width="0.98" height="1.10" fill="#FF7F00" opacity="1"/>
<rect x="241.30" y="309.70" width="0.98" height="1.10" fill="#FF7F00" opacity="1"/>
<rect x="242.39" y="309.70" width="0.98" height="1.10" fill="#FF7F00" opacity="1"/>
<rect x="243.47" y="309.70" width="0.98" height="1.10" fill="#FF7F00" opacity="1"/>
<rect x="244.56" y="309.70" width="0.98" height="1.10" fill="#FF7F00" opacity="1"/>
<rect x="245.65" y="309.70" width="0.98" height="1.10" fill="#FF7F00" opacity="1"/>
<rect x="246.74" y="309.70" width="0.98" height="1.10" fill="#FF7F00" opacity="1"/>
<rect x="247.83" y="309.70" width="0.98" height="1.10" fill="#FF7F00" opacity="1"/>
<rect x="248.91" y="309.70" width="0.98" height="1.10" fill="#FF7F00" opacity="1"/>
<rect x="250.00" y="309.70" width="0.98" height="1.10" fill="#FF7F00" opacity="1"/>
<rect x="251.09" y="309.70" width="0.98" height="1.10" fill="#FF7F00" opacity="1"/>
<rect x="252.18" y="309.70" width="0.98" height="1.10" fill="#FF7F00" opacity="1"/>
<rect x="253.27" y="309.70" width="0.98" height="1.10" fill="#FF7F00" opacity="1"/>
<rect x="254.35" y="309.70" width="0.98" height="1.10" fill="#FF7F00" opacity="1"/>
<rect x="255.44" y="309.70" width="0.98" height="1.10" fill="#FF7F00" opacity="1"/>
<rect x="256.53" y="309.70" width="0.98" height="1.10" fill="#FF7F00" opacity="1"/>
<rect x="257.62" y="309.70" width="0.98" height="1.10" fill="#FF7F00" opacity="1"/>
<rect x="258.71" y="309.70" width="0.98" height="1.10" fill="#FF7F00" opacity="1"/>
<rect x="259.79" y="309.70" width="0.98" height="1.10" fill="#FF7F00" opacity="1"/>
<rect x="260.88" y="309.70" width="0.98" height="1.10" fill="#FF7F00" opacity="1"/>
<rect x="261.97" y="309.70" width="0.98" height="1.10" fill="#FF7F00" opacity="1"/>
<rect x="264.15" y="309.70" width="0.98" height="1.10" fill="#FF7F00" opacity="1"/>
<rect x="265.23" y="309.70" width="0.98" height="1.10" fill="#FF7F00" opacity="1"/>
<rect x="266.32" y="309.70" width="0.98" height="1.10" fill="#FF7F00" opacity="1"/>
<rect x="267.41" y="309.70" width="0.98" height="1.10" fill="#FF7F00" opacity="1"/>
<rect x="268.50" y="309.70" width="0.98" height="1.10" fill="#FF7F00" opacity="1"/>
<rect x="269.59" y="309.70" width="0.98" height="1.10" fill="#FF7F00" opacity="1"/>
<rect x="270.67" y="309.70" width="0.98" height="1.10" fill="#FF7F00" opacity="1"/>
<rect x="271.76" y="309.70" width="0.98" height="1.10" fill="#FF7F00" opacity="1"/>
<rect x="272.85" y="309.70" width="0.98" height="1.10" fill="#FF7F00" opacity="1"/>
<rect x="273.94" y="309.70" width="0.98" height="1.10" fill="#FF7F00" opacity="1"/>
<rect x="275.03" y="309.70" width="0.98" height="1.10" fill="#FF7F00" opacity="1"/>
<rect x="276.11" y="309.70" width="0.98" height="1.10" fill="#FF7F00" opacity="1"/>
<rect x="277.20" y="309.70" width="0.98" height="1.10" fill="#FF7F00" opacity="1"/>
<rect x="278.29" y="309.70" width="0.98" height="1.10" fill="#FF7F00" opacity="1"/>
<rect x="44.37" y="309.88" width="0.98" height="0.92" fill="#F781BF" opacity="1"/>
<rect x="291.35" y="309.88" width="0.98" height="0.92" fill="#A65628" opacity="1"/>
<rect x="301.14" y="310.25" width="0.98" height="0.55" fill="#F781BF" opacity="1"/>
<rect x="308.75" y="310.25" width="0.98" height="0.55" fill="#F781BF" opacity="1"/>
<line x1="29.9" x2="338.0" y1="303.28" y2="303.28" stroke="#000" stroke-width="1.1" stroke-dasharray="3.5 3.5"/>
<rect x="29.9" y="200.9" width="308.1" height="115.20000000000002" fill="none" stroke="#555" stroke-width="1"/>
<line x1="27.599999999999998" x2="29.9" y1="310.80" y2="310.80" stroke="#333" stroke-width="0.8"/>
<text x="25.70" y="313.30" font-size="7" text-anchor="end" fill="#4D4D4D" >0</text>
<line x1="27.599999999999998" x2="29.9" y1="283.30" y2="283.30" stroke="#333" stroke-width="0.8"/>
<text x="25.70" y="285.80" font-size="7" text-anchor="end" fill="#4D4D4D" >30</text>
<line x1="27.599999999999998" x2="29.9" y1="255.80" y2="255.80" stroke="#333" stroke-width="0.8"/>
<text x="25.70" y="258.30" font-size="7" text-anchor="end" fill="#4D4D4D" >60</text>
<line x1="27.599999999999998" x2="29.9" y1="228.30" y2="228.30" stroke="#333" stroke-width="0.8"/>
<text x="25.70" y="230.80" font-size="7" text-anchor="end" fill="#4D4D4D" >90</text>
<line x1="27.599999999999998" x2="29.9" y1="200.80" y2="200.80" stroke="#333" stroke-width="0.8"/>
<text x="25.70" y="203.30" font-size="7" text-anchor="end" fill="#4D4D4D" >120</text>
<line x1="77.50" x2="77.50" y1="316.1" y2="318.40000000000003" stroke="#333" stroke-width="0.8"/>
<text x="77.50" y="325.90" font-size="7" text-anchor="middle" fill="#4D4D4D" >0</text>
<line x1="131.90" x2="131.90" y1="316.1" y2="318.40000000000003" stroke="#333" stroke-width="0.8"/>
<text x="131.90" y="325.90" font-size="7" text-anchor="middle" fill="#4D4D4D" >50</text>
<line x1="186.30" x2="186.30" y1="316.1" y2="318.40000000000003" stroke="#333" stroke-width="0.8"/>
<text x="186.30" y="325.90" font-size="7" text-anchor="middle" fill="#4D4D4D" >100</text>
<line x1="240.70" x2="240.70" y1="316.1" y2="318.40000000000003" stroke="#333" stroke-width="0.8"/>
<text x="240.70" y="325.90" font-size="7" text-anchor="middle" fill="#4D4D4D" >150</text>
<line x1="295.10" x2="295.10" y1="316.1" y2="318.40000000000003" stroke="#333" stroke-width="0.8"/>
<text x="295.10" y="325.90" font-size="7" text-anchor="middle" fill="#4D4D4D" >200</text>
<text x="29.90" y="193.80" font-size="10.4" text-anchor="start" fill="#000" >HLA-DQB1</text>
</g>
<text x="182.40" y="175.60" font-size="8.8" text-anchor="middle" fill="#000" >Residue position</text>
<text x="184.00" y="335.00" font-size="8.8" text-anchor="middle" fill="#000" >Residue position</text>
<text transform="translate(10.3,97.3) rotate(-90)" font-size="8.8" text-anchor="middle">-log10(Pvalue)</text>
<text transform="translate(10.3,258.5) rotate(-90)" font-size="8.8" text-anchor="middle">-log10(Pvalue)</text>
<text x="46.00" y="13.30" font-size="8.7" text-anchor="start" fill="#000" >legend</text>
<rect x="76.7" y="3.3" width="12.6" height="12.6" fill="#E41A1C"/>
<text x="94.20" y="12.20" font-size="7.05" text-anchor="start" fill="#000" >Alpha-1</text>
<rect x="125.3" y="3.3" width="12.6" height="12.6" fill="#377EB8"/>
<text x="142.80" y="12.20" font-size="7.05" text-anchor="start" fill="#000" >Alpha-2</text>
<rect x="173" y="3.3" width="12.6" height="12.6" fill="#A65628"/>
<text x="190.50" y="12.20" font-size="7.05" text-anchor="start" fill="#000" >Connecting peptide</text>
<rect x="260.7" y="3.3" width="12.6" height="12.6" fill="#F781BF"/>
<text x="278.20" y="12.20" font-size="7.05" text-anchor="start" fill="#000" >Other</text>
<text x="0" y="8.4" font-size="11" font-weight="bold">a</text>
<text x="348.6" y="8.4" font-size="11" font-weight="bold">b</text>
<text x="-0.3" y="356.6" font-size="11" font-weight="bold">c</text>
<text x="348.6" y="356.6" font-size="11" font-weight="bold">d</text>
<defs><filter id="hb" x="-5%" y="-5%" width="110%" height="110%"><feGaussianBlur stdDeviation="0.45"/></filter></defs>
<defs><clipPath id="clc"><rect x="0" y="0" width="375" height="375"/></clipPath><clipPath id="clb"><rect x="0" y="0" width="375" height="375"/></clipPath></defs>
<g filter="url(#hb)"><g transform="translate(50.9,598.8) scale(0.55067,-0.54987)" clip-path="url(#clc)">
<rect x="0" y="0" width="375" height="375" fill="#FCFCFD"/>
<g fill="#AFCBE8" stroke="none"><path d="M36 48H40V84H36ZM48 36H84V40H48ZM1 1L1 31L21 57L48 48L57 21L31 1ZM94 94L181 94L181 181L94 181ZM181 181L182 210L205 235L231 231L235 205L210 182ZM275 275L361 275L361 361L275 361ZM16 184L0 200L0 208L16 224L33 207L33 201ZM184 16L200 0L208 0L224 16L207 33L201 33Z"/><ellipse cx="3.5" cy="350" rx="4.5" ry="4.5"/><ellipse cx="350" cy="3.5" rx="4.5" ry="4.5"/><ellipse cx="25" cy="350" rx="4.5" ry="4.5"/><ellipse cx="350" cy="25" rx="4.5" ry="4.5"/><ellipse cx="44.5" cy="350" rx="4.5" ry="4.5"/><ellipse cx="350" cy="44.5" rx="4.5" ry="4.5"/><ellipse cx="3.5" cy="324" rx="7.2" ry="7.2"/><ellipse cx="324" cy="3.5" rx="7.2" ry="7.2"/><ellipse cx="25" cy="324" rx="9.1" ry="9.1"/><ellipse cx="324" cy="25" rx="9.1" ry="9.1"/><ellipse cx="44.5" cy="324" rx="8.5" ry="8.5"/><ellipse cx="324" cy="44.5" rx="8.5" ry="8.5"/><ellipse cx="3.5" cy="295" rx="7.2" ry="7.2"/><ellipse cx="295" cy="3.5" rx="7.2" ry="7.2"/><ellipse cx="25" cy="295" rx="8.5" ry="8.5"/><ellipse cx="295" cy="25" rx="8.5" ry="8.5"/><ellipse cx="44.5" cy="295" rx="7.8" ry="7.8"/><ellipse cx="295" cy="44.5" rx="7.8" ry="7.8"/><ellipse cx="8" cy="168" rx="3.9" ry="3.9"/><ellipse cx="168" cy="8" rx="3.9" ry="3.9"/><ellipse cx="20" cy="168" rx="3.9" ry="3.9"/><ellipse cx="168" cy="20" rx="3.9" ry="3.9"/><ellipse cx="112" cy="368" rx="5.2" ry="5.2"/><ellipse cx="368" cy="112" rx="5.2" ry="5.2"/><ellipse cx="138" cy="368" rx="5.2" ry="5.2"/><ellipse cx="368" cy="138" rx="5.2" ry="5.2"/><ellipse cx="112" cy="211" rx="6.5" ry="6.5"/><ellipse cx="211" cy="112" rx="6.5" ry="6.5"/><ellipse cx="140" cy="211" rx="6.5" ry="6.5"/><ellipse cx="211" cy="140" rx="6.5" ry="6.5"/><ellipse cx="168" cy="211" rx="6.5" ry="6.5"/><ellipse cx="211" cy="168" rx="6.5" ry="6.5"/><ellipse cx="112" cy="189" rx="6.5" ry="6.5"/><ellipse cx="189" cy="112" rx="6.5" ry="6.5"/><ellipse cx="140" cy="189" rx="6.5" ry="6.5"/><ellipse cx="189" cy="140" rx="6.5" ry="6.5"/><ellipse cx="140" cy="230" rx="6.5" ry="6.5"/><ellipse cx="230" cy="140" rx="6.5" ry="6.5"/><ellipse cx="196" cy="350" rx="3.9" ry="3.9"/><ellipse cx="350" cy="196" rx="3.9" ry="3.9"/><ellipse cx="196" cy="295" rx="3.9" ry="3.9"/><ellipse cx="295" cy="196" rx="3.9" ry="3.9"/><ellipse cx="300" cy="368" rx="2.6" ry="2.6"/><ellipse cx="368" cy="300" rx="2.6" ry="2.6"/><ellipse cx="330" cy="368" rx="2.6" ry="2.6"/><ellipse cx="368" cy="330" rx="2.6" ry="2.6"/></g><path d="M0 0L375 375M95 154L121 180M95 125L150 180M121.5 95L180 153.5M149 95L180 126M95 127L127 95M95 156L156 95M100 180L180 100M128 180L180 128M157 180L180 157M276 332L304 360M276 305.5L330.5 360M303 276L360 333M330 276L360 306M276 314L314 276M276 341L341 276M286 360L360 286M313 360L360 313M340 360L360 340" stroke="#AFCBE8" stroke-width="6.5" fill="none"/><path d="M0 27L26 1M19 52L52 19M185 211L211 185M197 227L227 197" stroke="#AFCBE8" stroke-width="6" fill="none"/><path d="M15 35L35 15" stroke="#AFCBE8" stroke-width="3" fill="none"/><path d="M26 1L52.5 27.5M1 26L27.5 52.5M207 183L237 213M183 207L213 237" stroke="#AFCBE8" stroke-width="5" fill="none"/><path d="M42 42L84 84M222 222L272 272M222 236L222 272M236 222L272 222" stroke="#AFCBE8" stroke-width="13" fill="none"/><path d="M36 36L42 42" stroke="#AFCBE8" stroke-width="8" fill="none"/><path d="M10 48L10 90M48 10L90 10" stroke="#AFCBE8" stroke-width="14" fill="none"/><path d="M26 48L26 90M48 26L90 26" stroke="#AFCBE8" stroke-width="12" fill="none"/><path d="M197 232L197 274M232 197L274 197" stroke="#AFCBE8" stroke-width="16" fill="none"/><path d="M362 362L375 375M43 271L80 227M271 43L227 80" stroke="#AFCBE8" stroke-width="10" fill="none"/><path d="M0 368L44 368M368 0L368 44M181 368L272 368M368 181L368 272" stroke="#AFCBE8" stroke-width="18.7" fill="none"/><path d="M45 368L80 368M368 45L368 80" stroke="#AFCBE8" stroke-width="20.4" fill="none"/><path d="M44 324L60 324M324 44L324 60" stroke="#AFCBE8" stroke-width="6.8" fill="none"/><path d="M5 244L5 275M244 5L275 5M50 211L83 211M211 50L211 83M50 192L83 192M192 50L192 83M0 114.5L43 114.5M114.5 0L114.5 43" stroke="#AFCBE8" stroke-width="13.6" fill="none"/><path d="M27 242L27 275M242 27L275 27M0 144L43 144M144 0L144 43M83 324L105 324M324 83L324 105M113 324L140 324M324 113L324 140M86 295L106 295M295 86L295 106M118 295L150 295M295 118L295 150M181 368L200 368M368 181L368 200M240 368L270 368M368 240L368 270" stroke="#AFCBE8" stroke-width="17" fill="none"/><path d="M46 244L46 275M244 46L275 46M157 324L168 324M324 157L324 168" stroke="#AFCBE8" stroke-width="15.3" fill="none"/><path d="M60 245L90 245M245 60L245 90M4 168L35 168M168 4L168 35M47 144L63 144M144 47L144 63" stroke="#AFCBE8" stroke-width="10.2" fill="none"/><path d="M45 114.5L58 114.5M114.5 45L114.5 58M150 368L180 368M368 150L368 180M90 350L100 350M350 90L350 100" stroke="#AFCBE8" stroke-width="8.5" fill="none"/><path d="M132 268L159 286M268 132L286 159" stroke="#AFCBE8" stroke-width="7" fill="none"/><path d="M137 248L137 274M248 137L274 137M189 322L212 322M322 189L322 212" stroke="#AFCBE8" stroke-width="11.9" fill="none"/><g fill="#fff"><circle cx="14.5" cy="25.5" r="4.5"/><circle cx="25.5" cy="14.5" r="4.5"/><circle cx="25" cy="35" r="4"/><circle cx="35" cy="25" r="4"/><circle cx="13" cy="50" r="4.5"/><circle cx="50" cy="13" r="4.5"/><circle cx="24" cy="78" r="3"/><circle cx="78" cy="24" r="3"/><circle cx="96.5" cy="169.5" r="8.3"/><circle cx="95.5" cy="140.5" r="8.3"/><circle cx="110.5" cy="155.5" r="8.3"/><circle cx="124.5" cy="169.5" r="8.3"/><circle cx="96" cy="112" r="8.3"/><circle cx="110" cy="126" r="8.3"/><circle cx="125" cy="141" r="8.3"/><circle cx="139" cy="155" r="8.3"/><circle cx="153.5" cy="169.5" r="8.3"/><circle cx="110.5" cy="97.5" r="8.3"/><circle cx="124.5" cy="111.5" r="8.3"/><circle cx="139.5" cy="126.5" r="8.3"/><circle cx="153.5" cy="140.5" r="8.3"/><circle cx="168" cy="155" r="8.3"/><circle cx="138" cy="98" r="8.3"/><circle cx="153" cy="113" r="8.3"/><circle cx="167" cy="127" r="8.3"/><circle cx="167" cy="99" r="8.3"/><circle cx="197" cy="211" r="4.5"/><circle cx="211" cy="197" r="4.5"/><circle cx="210.5" cy="222.5" r="4.5"/><circle cx="222.5" cy="210.5" r="4.5"/><circle cx="196" cy="240" r="4"/><circle cx="240" cy="196" r="4"/><circle cx="281" cy="351" r="8"/><circle cx="280" cy="323" r="8"/><circle cx="294.5" cy="337.5" r="8"/><circle cx="308.5" cy="351.5" r="8"/><circle cx="280.5" cy="296.5" r="8"/><circle cx="293.5" cy="309.5" r="8"/><circle cx="308" cy="324" r="8"/><circle cx="322" cy="338" r="8"/><circle cx="335.5" cy="351.5" r="8"/><circle cx="294.8" cy="282.2" r="8"/><circle cx="307.8" cy="295.2" r="8"/><circle cx="322.2" cy="309.8" r="8"/><circle cx="336.2" cy="323.8" r="8"/><circle cx="349.8" cy="337.2" r="8"/><circle cx="322" cy="281" r="8"/><circle cx="336.5" cy="295.5" r="8"/><circle cx="350.5" cy="309.5" r="8"/><circle cx="349.5" cy="282.5" r="8"/><circle cx="16" cy="204" r="5.5"/><circle cx="204" cy="16" r="5.5"/></g><g fill="#6E9FD2" stroke="none"><ellipse cx="3.5" cy="350" rx="1.8" ry="1.8"/><ellipse cx="350" cy="3.5" rx="1.8" ry="1.8"/><ellipse cx="25" cy="350" rx="1.8" ry="1.8"/><ellipse cx="350" cy="25" rx="1.8" ry="1.8"/><ellipse cx="44.5" cy="350" rx="1.8" ry="1.8"/><ellipse cx="350" cy="44.5" rx="1.8" ry="1.8"/><ellipse cx="3.5" cy="324" rx="3.6" ry="3.6"/><ellipse cx="324" cy="3.5" rx="3.6" ry="3.6"/><ellipse cx="25" cy="324" rx="5" ry="5"/><ellipse cx="324" cy="25" rx="5" ry="5"/><ellipse cx="44.5" cy="324" rx="5.1" ry="5.1"/><ellipse cx="324" cy="44.5" rx="5.1" ry="5.1"/><ellipse cx="3.5" cy="295" rx="3.6" ry="3.6"/><ellipse cx="295" cy="3.5" rx="3.6" ry="3.6"/><ellipse cx="25" cy="295" rx="4.6" ry="4.6"/><ellipse cx="295" cy="25" rx="4.6" ry="4.6"/><ellipse cx="44.5" cy="295" rx="4.7" ry="4.7"/><ellipse cx="295" cy="44.5" rx="4.7" ry="4.7"/><ellipse cx="8" cy="168" rx="2" ry="2"/><ellipse cx="168" cy="8" rx="2" ry="2"/><ellipse cx="20" cy="168" rx="2" ry="2"/><ellipse cx="168" cy="20" rx="2" ry="2"/><ellipse cx="112" cy="368" rx="2.1" ry="2.1"/><ellipse cx="368" cy="112" rx="2.1" ry="2.1"/><ellipse cx="138" cy="368" rx="2.1" ry="2.1"/><ellipse cx="368" cy="138" rx="2.1" ry="2.1"/><ellipse cx="112" cy="211" rx="3.2" ry="3.2"/><ellipse cx="211" cy="112" rx="3.2" ry="3.2"/><ellipse cx="140" cy="211" rx="3.2" ry="3.2"/><ellipse cx="211" cy="140" rx="3.2" ry="3.2"/><ellipse cx="168" cy="211" rx="3.2" ry="3.2"/><ellipse cx="211" cy="168" rx="3.2" ry="3.2"/><ellipse cx="112" cy="189" rx="3.2" ry="3.2"/><ellipse cx="189" cy="112" rx="3.2" ry="3.2"/><ellipse cx="140" cy="189" rx="3.2" ry="3.2"/><ellipse cx="189" cy="140" rx="3.2" ry="3.2"/><ellipse cx="140" cy="230" rx="3.2" ry="3.2"/><ellipse cx="230" cy="140" rx="3.2" ry="3.2"/><ellipse cx="196" cy="350" rx="1.6" ry="1.6"/><ellipse cx="350" cy="196" rx="1.6" ry="1.6"/><ellipse cx="196" cy="295" rx="1.6" ry="1.6"/><ellipse cx="295" cy="196" rx="1.6" ry="1.6"/><ellipse cx="300" cy="368" rx="0.8" ry="0.8"/><ellipse cx="368" cy="300" rx="0.8" ry="0.8"/><ellipse cx="330" cy="368" rx="0.8" ry="0.8"/><ellipse cx="368" cy="330" rx="0.8" ry="0.8"/></g><path d="M0 0L375 375" stroke="#6E9FD2" stroke-width="3.6" fill="none"/><path d="M0 27L26 1M19 52L52 19M185 211L211 185M197 227L227 197M16 184L-2 202M184 16L202 -2M-2 202L16 222M202 -2L222 16M16 222L34 204M222 16L204 34M34 204L16 184M204 34L184 16M132 268L159 286M268 132L286 159" stroke="#6E9FD2" stroke-width="3.5" fill="none"/><path d="M15 35L35 15M6 84L28 84M84 6L84 28" stroke="#6E9FD2" stroke-width="2" fill="none"/><path d="M26 1L52.5 27.5M1 26L27.5 52.5M4 64L32 64M64 4L64 32M207 183L237 213M183 207L213 237M190 250L205 250M250 190L250 205M215 255L229 255M255 215L255 229" stroke="#6E9FD2" stroke-width="3" fill="none"/><path d="M42 42L84 84M222 222L272 272M362 362L375 375" stroke="#6E9FD2" stroke-width="7" fill="none"/><path d="M36 36L42 42M222 236L222 272M236 222L272 222" stroke="#6E9FD2" stroke-width="4" fill="none"/><path d="M4 72L30 72M72 4L72 30M190 262L205 262M262 190L262 205" stroke="#6E9FD2" stroke-width="2.5" fill="none"/><path d="M95 154L121 180M95 125L150 180M121.5 95L180 153.5M149 95L180 126M95 127L127 95M95 156L156 95M100 180L180 100M128 180L180 128M157 180L180 157M276 332L304 360M276 305.5L330.5 360M303 276L360 333M330 276L360 306M276 314L314 276M276 341L341 276M286 360L360 286M313 360L360 313M340 360L360 340" stroke="#6E9FD2" stroke-width="2.8" fill="none"/><path d="M197 232L197 274M232 197L274 197M43 271L80 227M271 43L227 80" stroke="#6E9FD2" stroke-width="5" fill="none"/><path d="M0 368L44 368M368 0L368 44" stroke="#6E9FD2" stroke-width="5.2" fill="none"/><path d="M45 368L80 368M368 45L368 80" stroke="#6E9FD2" stroke-width="9.8" fill="none"/><path d="M44 324L60 324M324 44L324 60" stroke="#6E9FD2" stroke-width="1.6" fill="none"/><path d="M5 244L5 275M244 5L275 5" stroke="#6E9FD2" stroke-width="3.8" fill="none"/><path d="M27 242L27 275M242 27L275 27" stroke="#6E9FD2" stroke-width="5.4" fill="none"/><path d="M46 244L46 275M244 46L275 46" stroke="#6E9FD2" stroke-width="5.5" fill="none"/><path d="M50 211L83 211M211 50L211 83M50 192L83 192M192 50L192 83M0 114.5L43 114.5M114.5 0L114.5 43" stroke="#6E9FD2" stroke-width="4.9" fill="none"/><path d="M60 245L90 245M245 60L245 90M45 114.5L58 114.5M114.5 45L114.5 58M90 350L100 350M350 90L350 100" stroke="#6E9FD2" stroke-width="2" fill="none"/><path d="M4 168L35 168M168 4L168 35" stroke="#6E9FD2" stroke-width="2.9" fill="none"/><path d="M0 144L43 144M144 0L144 43M83 324L105 324M324 83L324 105M113 324L140 324M324 113L324 140M86 295L106 295M295 86L295 106M118 295L150 295M295 118L295 150" stroke="#6E9FD2" stroke-width="6.8" fill="none"/><path d="M47 144L63 144M144 47L144 63" stroke="#6E9FD2" stroke-width="2.4" fill="none"/><path d="M150 368L180 368M368 150L368 180" stroke="#6E9FD2" stroke-width="1.4" fill="none"/><path d="M157 324L168 324M324 157L324 168" stroke="#6E9FD2" stroke-width="6.1" fill="none"/><path d="M137 248L137 274M248 137L274 137" stroke="#6E9FD2" stroke-width="3.8" fill="none"/><path d="M181 368L272 368M368 181L368 272" stroke="#6E9FD2" stroke-width="4.5" fill="none"/><path d="M181 368L200 368M368 181L368 200M240 368L270 368M368 240L368 270" stroke="#6E9FD2" stroke-width="8.2" fill="none"/><path d="M189 322L212 322M322 189L322 212" stroke="#6E9FD2" stroke-width="4.3" fill="none"/><g fill="#2D6FB5" stroke="none"><ellipse cx="44.5" cy="324" rx="1.5" ry="1.5"/><ellipse cx="324" cy="44.5" rx="1.5" ry="1.5"/><ellipse cx="44.5" cy="295" rx="1.4" ry="1.4"/><ellipse cx="295" cy="44.5" rx="1.4" ry="1.4"/></g><path d="M0 0L375 375M16 184L-2 202M184 16L202 -2M-2 202L16 222M202 -2L222 16M16 222L34 204M222 16L204 34M34 204L16 184M204 34L184 16" stroke="#2D6FB5" stroke-width="1.6" fill="none"/><path d="M0 27L26 1M19 52L52 19M36 36L42 42M185 211L211 185M197 227L227 197" stroke="#2D6FB5" stroke-width="2" fill="none"/><path d="M26 1L52.5 27.5M1 26L27.5 52.5M207 183L237 213M183 207L213 237" stroke="#2D6FB5" stroke-width="1.2" fill="none"/><path d="M42 42L84 84M222 222L272 272" stroke="#2D6FB5" stroke-width="3" fill="none"/><path d="M95 154L121 180M95 125L150 180M121.5 95L180 153.5M149 95L180 126M95 127L127 95M95 156L156 95M100 180L180 100M128 180L180 128M157 180L180 157M276 332L304 360M276 305.5L330.5 360M303 276L360 333M330 276L360 306M276 314L314 276M276 341L341 276M286 360L360 286M313 360L360 313M340 360L360 340" stroke="#2D6FB5" stroke-width="1" fill="none"/><path d="M362 362L375 375" stroke="#2D6FB5" stroke-width="4" fill="none"/><path d="M45 368L80 368M368 45L368 80" stroke="#2D6FB5" stroke-width="2" fill="none"/><path d="M43 271L80 227M271 43L227 80" stroke="#2D6FB5" stroke-width="1.8" fill="none"/><path d="M181 368L200 368M368 181L368 200M240 368L270 368M368 240L368 270" stroke="#2D6FB5" stroke-width="1.7" fill="none"/>
</g></g>
<line x1="74.5" x2="74.5" y1="392.6" y2="598.8" stroke="#1a1a1a" stroke-width="0.9" stroke-dasharray="1 2.25"/><line x1="93.9" x2="93.9" y1="392.6" y2="598.8" stroke="#1a1a1a" stroke-width="0.9" stroke-dasharray="1 2.25"/><line x1="50.9" x2="257.4" y1="468.2" y2="468.2" stroke="#1a1a1a" stroke-width="0.9" stroke-dasharray="1 2.25"/><line x1="50.9" x2="257.4" y1="470.3" y2="470.3" stroke="#1a1a1a" stroke-width="0.9" stroke-dasharray="1 2.25"/><rect x="49.00" y="392.60" width="1.9" height="7.20" fill="#FF7F00"/><rect x="49.00" y="399.80" width="1.9" height="48.80" fill="#984EA3"/><rect x="49.00" y="448.60" width="1.9" height="51.20" fill="#4DAF4A"/><rect x="49.00" y="499.80" width="1.9" height="47.90" fill="#377EB8"/><rect x="49.00" y="547.70" width="1.9" height="53.00" fill="#E41A1C"/><rect x="49.00" y="598.80" width="52.80" height="1.9" fill="#E41A1C"/><rect x="101.80" y="598.80" width="48.70" height="1.9" fill="#377EB8"/><rect x="150.50" y="598.80" width="51.30" height="1.9" fill="#4DAF4A"/><rect x="201.80" y="598.80" width="48.60" height="1.9" fill="#984EA3"/><rect x="250.40" y="598.80" width="7.00" height="1.9" fill="#FF7F00"/><line x1="46.80" x2="49.00" y1="600.3" y2="600.3" stroke="#333" stroke-width="0.8"/><text x="45.6" y="602.80" font-size="7" text-anchor="end" fill="#4D4D4D">DQA1-1</text><line x1="46.80" x2="49.00" y1="567" y2="567" stroke="#333" stroke-width="0.8"/><text x="45.6" y="569.50" font-size="7" text-anchor="end" fill="#4D4D4D">DQA1-60</text><line x1="46.80" x2="49.00" y1="533.8" y2="533.8" stroke="#333" stroke-width="0.8"/><text x="45.6" y="536.30" font-size="7" text-anchor="end" fill="#4D4D4D">DQA1-120</text><line x1="46.80" x2="49.00" y1="499.5" y2="499.5" stroke="#333" stroke-width="0.8"/><text x="45.6" y="502.00" font-size="7" text-anchor="end" fill="#4D4D4D">DQB1-1</text><line x1="46.80" x2="49.00" y1="466.7" y2="466.7" stroke="#333" stroke-width="0.8"/><text x="45.6" y="469.20" font-size="7" text-anchor="end" fill="#4D4D4D">DQB1-60</text><line x1="46.80" x2="49.00" y1="433.8" y2="433.8" stroke="#333" stroke-width="0.8"/><text x="45.6" y="436.30" font-size="7" text-anchor="end" fill="#4D4D4D">DQB1-120</text><line x1="46.80" x2="49.00" y1="399.8" y2="399.8" stroke="#333" stroke-width="0.8"/><text x="45.6" y="402.30" font-size="7" text-anchor="end" fill="#4D4D4D">CD74-1</text><line x1="49.7" x2="49.7" y1="600.70" y2="602.90" stroke="#333" stroke-width="0.8"/><text transform="translate(53.30,607.10) rotate(-45)" font-size="7" text-anchor="end" fill="#4D4D4D">DQA1-1</text><line x1="82.8" x2="82.8" y1="600.70" y2="602.90" stroke="#333" stroke-width="0.8"/><text transform="translate(86.40,607.10) rotate(-45)" font-size="7" text-anchor="end" fill="#4D4D4D">DQA1-60</text><line x1="116.5" x2="116.5" y1="600.70" y2="602.90" stroke="#333" stroke-width="0.8"/><text transform="translate(120.10,607.10) rotate(-45)" font-size="7" text-anchor="end" fill="#4D4D4D">DQA1-120</text><line x1="150.5" x2="150.5" y1="600.70" y2="602.90" stroke="#333" stroke-width="0.8"/><text transform="translate(154.10,607.10) rotate(-45)" font-size="7" text-anchor="end" fill="#4D4D4D">DQB1-1</text><line x1="183.3" x2="183.3" y1="600.70" y2="602.90" stroke="#333" stroke-width="0.8"/><text transform="translate(186.90,607.10) rotate(-45)" font-size="7" text-anchor="end" fill="#4D4D4D">DQB1-60</text><line x1="216.5" x2="216.5" y1="600.70" y2="602.90" stroke="#333" stroke-width="0.8"/><text transform="translate(220.10,607.10) rotate(-45)" font-size="7" text-anchor="end" fill="#4D4D4D">DQB1-120</text><line x1="250.4" x2="250.4" y1="600.70" y2="602.90" stroke="#333" stroke-width="0.8"/><text transform="translate(254.00,607.10) rotate(-45)" font-size="7" text-anchor="end" fill="#4D4D4D">CD74-1</text>
<defs><filter id="hbb" x="-5%" y="-5%" width="110%" height="110%"><feGaussianBlur stdDeviation="1.6"/></filter></defs>
<g filter="url(#hbb)"><g transform="translate(399.6,262.0) scale(0.60907,-0.60880)" clip-path="url(#clb)">
<rect x="0" y="0" width="375" height="375" fill="#FCFCFD"/>
<ellipse cx="10.5" cy="101.2" rx="9.350000000000001" ry="6.51" fill="#F2A7AF" fill-opacity="0.297"/><ellipse cx="101.2" cy="10.5" rx="6.51" ry="9.350000000000001" fill="#F2A7AF" fill-opacity="0.297"/><ellipse cx="10.5" cy="111.8" rx="9.350000000000001" ry="6.51" fill="#F2A7AF" fill-opacity="0.297"/><ellipse cx="111.8" cy="10.5" rx="6.51" ry="9.350000000000001" fill="#F2A7AF" fill-opacity="0.297"/><ellipse cx="10.5" cy="122.2" rx="9.350000000000001" ry="6.51" fill="#F2A7AF" fill-opacity="0.297"/><ellipse cx="122.2" cy="10.5" rx="6.51" ry="9.350000000000001" fill="#F2A7AF" fill-opacity="0.297"/><ellipse cx="10.5" cy="132.8" rx="9.350000000000001" ry="6.51" fill="#F2A7AF" fill-opacity="0.297"/><ellipse cx="132.8" cy="10.5" rx="6.51" ry="9.350000000000001" fill="#F2A7AF" fill-opacity="0.297"/><ellipse cx="10.5" cy="143.2" rx="9.350000000000001" ry="6.51" fill="#F2A7AF" fill-opacity="0.297"/><ellipse cx="143.2" cy="10.5" rx="6.51" ry="9.350000000000001" fill="#F2A7AF" fill-opacity="0.297"/><ellipse cx="10.5" cy="153.8" rx="9.350000000000001" ry="6.51" fill="#F2A7AF" fill-opacity="0.297"/><ellipse cx="153.8" cy="10.5" rx="6.51" ry="9.350000000000001" fill="#F2A7AF" fill-opacity="0.297"/><ellipse cx="10.5" cy="164.2" rx="9.350000000000001" ry="6.51" fill="#F2A7AF" fill-opacity="0.297"/><ellipse cx="164.2" cy="10.5" rx="6.51" ry="9.350000000000001" fill="#F2A7AF" fill-opacity="0.297"/><ellipse cx="10.5" cy="174.8" rx="9.350000000000001" ry="6.51" fill="#F2A7AF" fill-opacity="0.297"/><ellipse cx="174.8" cy="10.5" rx="6.51" ry="9.350000000000001" fill="#F2A7AF" fill-opacity="0.297"/><ellipse cx="31.5" cy="101.2" rx="7.15" ry="6.51" fill="#F2A7AF" fill-opacity="0.297"/><ellipse cx="101.2" cy="31.5" rx="6.51" ry="7.15" fill="#F2A7AF" fill-opacity="0.297"/><ellipse cx="31.5" cy="111.8" rx="7.15" ry="6.51" fill="#F2A7AF" fill-opacity="0.297"/><ellipse cx="111.8" cy="31.5" rx="6.51" ry="7.15" fill="#F2A7AF" fill-opacity="0.297"/><ellipse cx="31.5" cy="122.2" rx="7.15" ry="6.51" fill="#F2A7AF" fill-opacity="0.297"/><ellipse cx="122.2" cy="31.5" rx="6.51" ry="7.15" fill="#F2A7AF" fill-opacity="0.297"/><ellipse cx="31.5" cy="132.8" rx="7.15" ry="6.51" fill="#F2A7AF" fill-opacity="0.297"/><ellipse cx="132.8" cy="31.5" rx="6.51" ry="7.15" fill="#F2A7AF" fill-opacity="0.297"/><ellipse cx="31.5" cy="143.2" rx="7.15" ry="6.51" fill="#F2A7AF" fill-opacity="0.297"/><ellipse cx="143.2" cy="31.5" rx="6.51" ry="7.15" fill="#F2A7AF" fill-opacity="0.297"/><ellipse cx="31.5" cy="153.8" rx="7.15" ry="6.51" fill="#F2A7AF" fill-opacity="0.297"/><ellipse cx="153.8" cy="31.5" rx="6.51" ry="7.15" fill="#F2A7AF" fill-opacity="0.297"/><ellipse cx="31.5" cy="164.2" rx="7.15" ry="6.51" fill="#F2A7AF" fill-opacity="0.297"/><ellipse cx="164.2" cy="31.5" rx="6.51" ry="7.15" fill="#F2A7AF" fill-opacity="0.297"/><ellipse cx="31.5" cy="174.8" rx="7.15" ry="6.51" fill="#F2A7AF" fill-opacity="0.297"/><ellipse cx="174.8" cy="31.5" rx="6.51" ry="7.15" fill="#F2A7AF" fill-opacity="0.297"/><ellipse cx="62.5" cy="101.2" rx="17.05" ry="6.51" fill="#F2A7AF" fill-opacity="0.396"/><ellipse cx="101.2" cy="62.5" rx="6.51" ry="17.05" fill="#F2A7AF" fill-opacity="0.396"/><ellipse cx="62.5" cy="111.8" rx="17.05" ry="6.51" fill="#F2A7AF" fill-opacity="0.396"/><ellipse cx="111.8" cy="62.5" rx="6.51" ry="17.05" fill="#F2A7AF" fill-opacity="0.396"/><ellipse cx="62.5" cy="122.2" rx="17.05" ry="6.51" fill="#F2A7AF" fill-opacity="0.396"/><ellipse cx="122.2" cy="62.5" rx="6.51" ry="17.05" fill="#F2A7AF" fill-opacity="0.396"/><ellipse cx="62.5" cy="132.8" rx="17.05" ry="6.51" fill="#F2A7AF" fill-opacity="0.396"/><ellipse cx="132.8" cy="62.5" rx="6.51" ry="17.05" fill="#F2A7AF" fill-opacity="0.396"/><ellipse cx="62.5" cy="143.2" rx="17.05" ry="6.51" fill="#F2A7AF" fill-opacity="0.396"/><ellipse cx="143.2" cy="62.5" rx="6.51" ry="17.05" fill="#F2A7AF" fill-opacity="0.396"/><ellipse cx="62.5" cy="153.8" rx="17.05" ry="6.51" fill="#F2A7AF" fill-opacity="0.396"/><ellipse cx="153.8" cy="62.5" rx="6.51" ry="17.05" fill="#F2A7AF" fill-opacity="0.396"/><ellipse cx="62.5" cy="164.2" rx="17.05" ry="6.51" fill="#F2A7AF" fill-opacity="0.396"/><ellipse cx="164.2" cy="62.5" rx="6.51" ry="17.05" fill="#F2A7AF" fill-opacity="0.396"/><ellipse cx="62.5" cy="174.8" rx="17.05" ry="6.51" fill="#F2A7AF" fill-opacity="0.396"/><ellipse cx="174.8" cy="62.5" rx="6.51" ry="17.05" fill="#F2A7AF" fill-opacity="0.396"/><ellipse cx="87.0" cy="101.2" rx="5.5" ry="6.51" fill="#F2A7AF" fill-opacity="0.231"/><ellipse cx="101.2" cy="87.0" rx="6.51" ry="5.5" fill="#F2A7AF" fill-opacity="0.231"/><ellipse cx="87.0" cy="111.8" rx="5.5" ry="6.51" fill="#F2A7AF" fill-opacity="0.231"/><ellipse cx="111.8" cy="87.0" rx="6.51" ry="5.5" fill="#F2A7AF" fill-opacity="0.231"/><ellipse cx="87.0" cy="122.2" rx="5.5" ry="6.51" fill="#F2A7AF" fill-opacity="0.231"/><ellipse cx="122.2" cy="87.0" rx="6.51" ry="5.5" fill="#F2A7AF" fill-opacity="0.231"/><ellipse cx="87.0" cy="132.8" rx="5.5" ry="6.51" fill="#F2A7AF" fill-opacity="0.231"/><ellipse cx="132.8" cy="87.0" rx="6.51" ry="5.5" fill="#F2A7AF" fill-opacity="0.231"/><ellipse cx="87.0" cy="143.2" rx="5.5" ry="6.51" fill="#F2A7AF" fill-opacity="0.231"/><ellipse cx="143.2" cy="87.0" rx="6.51" ry="5.5" fill="#F2A7AF" fill-opacity="0.231"/><ellipse cx="87.0" cy="153.8" rx="5.5" ry="6.51" fill="#F2A7AF" fill-opacity="0.231"/><ellipse cx="153.8" cy="87.0" rx="6.51" ry="5.5" fill="#F2A7AF" fill-opacity="0.231"/><ellipse cx="87.0" cy="164.2" rx="5.5" ry="6.51" fill="#F2A7AF" fill-opacity="0.231"/><ellipse cx="164.2" cy="87.0" rx="6.51" ry="5.5" fill="#F2A7AF" fill-opacity="0.231"/><ellipse cx="87.0" cy="174.8" rx="5.5" ry="6.51" fill="#F2A7AF" fill-opacity="0.231"/><ellipse cx="174.8" cy="87.0" rx="6.51" ry="5.5" fill="#F2A7AF" fill-opacity="0.231"/><rect x="0" y="107" width="94" height="6" fill="#ffffff" fill-opacity="0.35"/><rect x="107" y="0" width="6" height="94" fill="#ffffff" fill-opacity="0.35"/><rect x="0" y="132" width="94" height="6" fill="#ffffff" fill-opacity="0.35"/><rect x="132" y="0" width="6" height="94" fill="#ffffff" fill-opacity="0.35"/><rect x="0" y="157" width="94" height="6" fill="#ffffff" fill-opacity="0.35"/><rect x="157" y="0" width="6" height="94" fill="#ffffff" fill-opacity="0.35"/><ellipse cx="5.2" cy="227.5" rx="6.475555555555555" ry="48.95" fill="#F2A7AF" fill-opacity="0.231"/><ellipse cx="227.5" cy="5.2" rx="48.95" ry="6.475555555555555" fill="#F2A7AF" fill-opacity="0.231"/><ellipse cx="15.7" cy="227.5" rx="6.475555555555555" ry="48.95" fill="#F2A7AF" fill-opacity="0.231"/><ellipse cx="227.5" cy="15.7" rx="48.95" ry="6.475555555555555" fill="#F2A7AF" fill-opacity="0.231"/><ellipse cx="26.1" cy="227.5" rx="6.475555555555555" ry="48.95" fill="#F2A7AF" fill-opacity="0.231"/><ellipse cx="227.5" cy="26.1" rx="48.95" ry="6.475555555555555" fill="#F2A7AF" fill-opacity="0.231"/><ellipse cx="36.6" cy="227.5" rx="6.475555555555555" ry="48.95" fill="#F2A7AF" fill-opacity="0.231"/><ellipse cx="227.5" cy="36.6" rx="48.95" ry="6.475555555555555" fill="#F2A7AF" fill-opacity="0.231"/><ellipse cx="47.0" cy="227.5" rx="6.475555555555555" ry="48.95" fill="#F2A7AF" fill-opacity="0.231"/><ellipse cx="227.5" cy="47.0" rx="48.95" ry="6.475555555555555" fill="#F2A7AF" fill-opacity="0.231"/><ellipse cx="57.4" cy="227.5" rx="6.475555555555555" ry="48.95" fill="#F2A7AF" fill-opacity="0.231"/><ellipse cx="227.5" cy="57.4" rx="48.95" ry="6.475555555555555" fill="#F2A7AF" fill-opacity="0.231"/><ellipse cx="67.9" cy="227.5" rx="6.475555555555555" ry="48.95" fill="#F2A7AF" fill-opacity="0.231"/><ellipse cx="227.5" cy="67.9" rx="48.95" ry="6.475555555555555" fill="#F2A7AF" fill-opacity="0.231"/><ellipse cx="78.3" cy="227.5" rx="6.475555555555555" ry="48.95" fill="#F2A7AF" fill-opacity="0.231"/><ellipse cx="227.5" cy="78.3" rx="48.95" ry="6.475555555555555" fill="#F2A7AF" fill-opacity="0.231"/><ellipse cx="88.8" cy="227.5" rx="6.475555555555555" ry="48.95" fill="#F2A7AF" fill-opacity="0.231"/><ellipse cx="227.5" cy="88.8" rx="48.95" ry="6.475555555555555" fill="#F2A7AF" fill-opacity="0.231"/><ellipse cx="25.3" cy="206.5" rx="6.554285714285714" ry="25.85" fill="#F2A7AF" fill-opacity="0.132"/><ellipse cx="206.5" cy="25.3" rx="25.85" ry="6.554285714285714" fill="#F2A7AF" fill-opacity="0.132"/><ellipse cx="35.9" cy="206.5" rx="6.554285714285714" ry="25.85" fill="#F2A7AF" fill-opacity="0.132"/><ellipse cx="206.5" cy="35.9" rx="25.85" ry="6.554285714285714" fill="#F2A7AF" fill-opacity="0.132"/><ellipse cx="46.4" cy="206.5" rx="6.554285714285714" ry="25.85" fill="#F2A7AF" fill-opacity="0.132"/><ellipse cx="206.5" cy="46.4" rx="25.85" ry="6.554285714285714" fill="#F2A7AF" fill-opacity="0.132"/><ellipse cx="57.0" cy="206.5" rx="6.554285714285714" ry="25.85" fill="#F2A7AF" fill-opacity="0.132"/><ellipse cx="206.5" cy="57.0" rx="25.85" ry="6.554285714285714" fill="#F2A7AF" fill-opacity="0.132"/><ellipse cx="67.6" cy="206.5" rx="6.554285714285714" ry="25.85" fill="#F2A7AF" fill-opacity="0.132"/><ellipse cx="206.5" cy="67.6" rx="25.85" ry="6.554285714285714" fill="#F2A7AF" fill-opacity="0.132"/><ellipse cx="78.1" cy="206.5" rx="6.554285714285714" ry="25.85" fill="#F2A7AF" fill-opacity="0.132"/><ellipse cx="206.5" cy="78.1" rx="25.85" ry="6.554285714285714" fill="#F2A7AF" fill-opacity="0.132"/><ellipse cx="88.7" cy="206.5" rx="6.554285714285714" ry="25.85" fill="#F2A7AF" fill-opacity="0.132"/><ellipse cx="206.5" cy="88.7" rx="25.85" ry="6.554285714285714" fill="#F2A7AF" fill-opacity="0.132"/><ellipse cx="30.0" cy="200.0" rx="7" ry="7" fill="#9DC0E3" fill-opacity="0.35"/><ellipse cx="200.0" cy="30.0" rx="7" ry="7" fill="#9DC0E3" fill-opacity="0.35"/><ellipse cx="43.0" cy="262.0" rx="5" ry="5" fill="#9DC0E3" fill-opacity="0.35"/><ellipse cx="262.0" cy="43.0" rx="5" ry="5" fill="#9DC0E3" fill-opacity="0.35"/><ellipse cx="60.0" cy="240.0" rx="6" ry="6" fill="#9DC0E3" fill-opacity="0.35"/><ellipse cx="240.0" cy="60.0" rx="6" ry="6" fill="#9DC0E3" fill-opacity="0.35"/><ellipse cx="75.0" cy="215.0" rx="6" ry="6" fill="#9DC0E3" fill-opacity="0.35"/><ellipse cx="215.0" cy="75.0" rx="6" ry="6" fill="#9DC0E3" fill-opacity="0.35"/><ellipse cx="60.0" cy="190.0" rx="5" ry="5" fill="#9DC0E3" fill-opacity="0.35"/><ellipse cx="190.0" cy="60.0" rx="5" ry="5" fill="#9DC0E3" fill-opacity="0.35"/><ellipse cx="85.0" cy="250.0" rx="5" ry="5" fill="#9DC0E3" fill-opacity="0.35"/><ellipse cx="250.0" cy="85.0" rx="5" ry="5" fill="#9DC0E3" fill-opacity="0.35"/><path d="M16.0 186.0L0.0 202.0" stroke="#6FA1D4" stroke-opacity="0.6" stroke-width="4"/><path d="M186.0 16.0L202.0 0.0" stroke="#6FA1D4" stroke-opacity="0.6" stroke-width="4"/><path d="M0.0 202.0L16.0 218.0" stroke="#6FA1D4" stroke-opacity="0.6" stroke-width="4"/><path d="M202.0 0.0L218.0 16.0" stroke="#6FA1D4" stroke-opacity="0.6" stroke-width="4"/><path d="M16.0 218.0L32.0 202.0" stroke="#6FA1D4" stroke-opacity="0.6" stroke-width="4"/><path d="M218.0 16.0L202.0 32.0" stroke="#6FA1D4" stroke-opacity="0.6" stroke-width="4"/><path d="M32.0 202.0L16.0 186.0" stroke="#6FA1D4" stroke-opacity="0.6" stroke-width="4"/><path d="M202.0 32.0L186.0 16.0" stroke="#6FA1D4" stroke-opacity="0.6" stroke-width="4"/><ellipse cx="16.0" cy="202.0" rx="6" ry="6" fill="#F2A7AF" fill-opacity="0.27"/><ellipse cx="202.0" cy="16.0" rx="6" ry="6" fill="#F2A7AF" fill-opacity="0.27"/><ellipse cx="20.0" cy="281.2" rx="22.0" ry="6.51" fill="#F2A7AF" fill-opacity="0.231"/><ellipse cx="281.2" cy="20.0" rx="6.51" ry="22.0" fill="#F2A7AF" fill-opacity="0.231"/><ellipse cx="20.0" cy="291.8" rx="22.0" ry="6.51" fill="#F2A7AF" fill-opacity="0.231"/><ellipse cx="291.8" cy="20.0" rx="6.51" ry="22.0" fill="#F2A7AF" fill-opacity="0.231"/><ellipse cx="20.0" cy="302.2" rx="22.0" ry="6.51" fill="#F2A7AF" fill-opacity="0.231"/><ellipse cx="302.2" cy="20.0" rx="6.51" ry="22.0" fill="#F2A7AF" fill-opacity="0.231"/><ellipse cx="20.0" cy="312.8" rx="22.0" ry="6.51" fill="#F2A7AF" fill-opacity="0.231"/><ellipse cx="312.8" cy="20.0" rx="6.51" ry="22.0" fill="#F2A7AF" fill-opacity="0.231"/><ellipse cx="20.0" cy="323.2" rx="22.0" ry="6.51" fill="#F2A7AF" fill-opacity="0.231"/><ellipse cx="323.2" cy="20.0" rx="6.51" ry="22.0" fill="#F2A7AF" fill-opacity="0.231"/><ellipse cx="20.0" cy="333.8" rx="22.0" ry="6.51" fill="#F2A7AF" fill-opacity="0.231"/><ellipse cx="333.8" cy="20.0" rx="6.51" ry="22.0" fill="#F2A7AF" fill-opacity="0.231"/><ellipse cx="20.0" cy="344.2" rx="22.0" ry="6.51" fill="#F2A7AF" fill-opacity="0.231"/><ellipse cx="344.2" cy="20.0" rx="6.51" ry="22.0" fill="#F2A7AF" fill-opacity="0.231"/><ellipse cx="20.0" cy="354.8" rx="22.0" ry="6.51" fill="#F2A7AF" fill-opacity="0.231"/><ellipse cx="354.8" cy="20.0" rx="6.51" ry="22.0" fill="#F2A7AF" fill-opacity="0.231"/><rect x="5" y="276" width="6" height="84" fill="#9DC0E3" fill-opacity="0.25"/><rect x="276" y="5" width="84" height="6" fill="#9DC0E3" fill-opacity="0.25"/><rect x="19" y="276" width="6" height="84" fill="#9DC0E3" fill-opacity="0.25"/><rect x="276" y="19" width="84" height="6" fill="#9DC0E3" fill-opacity="0.25"/><rect x="31" y="276" width="6" height="84" fill="#9DC0E3" fill-opacity="0.25"/><rect x="276" y="31" width="84" height="6" fill="#9DC0E3" fill-opacity="0.25"/><path d="M45.0 276.0L60.0 360.0" stroke="#9DC0E3" stroke-opacity="0.5" stroke-width="5"/><path d="M276.0 45.0L360.0 60.0" stroke="#9DC0E3" stroke-opacity="0.5" stroke-width="5"/><path d="M53.0 276.0L68.0 360.0" stroke="#9DC0E3" stroke-opacity="0.5" stroke-width="5"/><path d="M276.0 53.0L360.0 68.0" stroke="#9DC0E3" stroke-opacity="0.5" stroke-width="5"/><path d="M61.0 276.0L76.0 360.0" stroke="#9DC0E3" stroke-opacity="0.5" stroke-width="5"/><path d="M276.0 61.0L360.0 76.0" stroke="#9DC0E3" stroke-opacity="0.5" stroke-width="5"/><path d="M69.0 276.0L84.0 360.0" stroke="#9DC0E3" stroke-opacity="0.5" stroke-width="5"/><path d="M276.0 69.0L360.0 84.0" stroke="#9DC0E3" stroke-opacity="0.5" stroke-width="5"/><path d="M77.0 276.0L92.0 360.0" stroke="#9DC0E3" stroke-opacity="0.5" stroke-width="5"/><path d="M276.0 77.0L360.0 92.0" stroke="#9DC0E3" stroke-opacity="0.5" stroke-width="5"/><path d="M78.0 276.0L50.0 360.0" stroke="#9DC0E3" stroke-opacity="0.3" stroke-width="4"/><path d="M276.0 78.0L360.0 50.0" stroke="#9DC0E3" stroke-opacity="0.3" stroke-width="4"/><path d="M70.0 276.0L44.0 360.0" stroke="#9DC0E3" stroke-opacity="0.3" stroke-width="4"/><path d="M276.0 70.0L360.0 44.0" stroke="#9DC0E3" stroke-opacity="0.3" stroke-width="4"/><path d="M62.0 276.0L38.0 360.0" stroke="#9DC0E3" stroke-opacity="0.3" stroke-width="4"/><path d="M276.0 62.0L360.0 38.0" stroke="#9DC0E3" stroke-opacity="0.3" stroke-width="4"/><path d="M54.0 276.0L32.0 360.0" stroke="#9DC0E3" stroke-opacity="0.3" stroke-width="4"/><path d="M276.0 54.0L360.0 32.0" stroke="#9DC0E3" stroke-opacity="0.3" stroke-width="4"/><ellipse cx="20.0" cy="330.0" rx="5" ry="5" fill="#9DC0E3" fill-opacity="0.45"/><ellipse cx="330.0" cy="20.0" rx="5" ry="5" fill="#9DC0E3" fill-opacity="0.45"/><ellipse cx="10.0" cy="300.0" rx="5" ry="5" fill="#9DC0E3" fill-opacity="0.45"/><ellipse cx="300.0" cy="10.0" rx="5" ry="5" fill="#9DC0E3" fill-opacity="0.45"/><ellipse cx="30.0" cy="290.0" rx="5" ry="5" fill="#9DC0E3" fill-opacity="0.45"/><ellipse cx="290.0" cy="30.0" rx="5" ry="5" fill="#9DC0E3" fill-opacity="0.45"/><ellipse cx="84.5" cy="281.2" rx="10.450000000000001" ry="6.51" fill="#F2A7AF" fill-opacity="0.165"/><ellipse cx="281.2" cy="84.5" rx="6.51" ry="10.450000000000001" fill="#F2A7AF" fill-opacity="0.165"/><ellipse cx="84.5" cy="291.8" rx="10.450000000000001" ry="6.51" fill="#F2A7AF" fill-opacity="0.165"/><ellipse cx="291.8" cy="84.5" rx="6.51" ry="10.450000000000001" fill="#F2A7AF" fill-opacity="0.165"/><ellipse cx="84.5" cy="302.2" rx="10.450000000000001" ry="6.51" fill="#F2A7AF" fill-opacity="0.165"/><ellipse cx="302.2" cy="84.5" rx="6.51" ry="10.450000000000001" fill="#F2A7AF" fill-opacity="0.165"/><ellipse cx="84.5" cy="312.8" rx="10.450000000000001" ry="6.51" fill="#F2A7AF" fill-opacity="0.165"/><ellipse cx="312.8" cy="84.5" rx="6.51" ry="10.450000000000001" fill="#F2A7AF" fill-opacity="0.165"/><ellipse cx="84.5" cy="323.2" rx="10.450000000000001" ry="6.51" fill="#F2A7AF" fill-opacity="0.165"/><ellipse cx="323.2" cy="84.5" rx="6.51" ry="10.450000000000001" fill="#F2A7AF" fill-opacity="0.165"/><ellipse cx="84.5" cy="333.8" rx="10.450000000000001" ry="6.51" fill="#F2A7AF" fill-opacity="0.165"/><ellipse cx="333.8" cy="84.5" rx="6.51" ry="10.450000000000001" fill="#F2A7AF" fill-opacity="0.165"/><ellipse cx="84.5" cy="344.2" rx="10.450000000000001" ry="6.51" fill="#F2A7AF" fill-opacity="0.165"/><ellipse cx="344.2" cy="84.5" rx="6.51" ry="10.450000000000001" fill="#F2A7AF" fill-opacity="0.165"/><ellipse cx="84.5" cy="354.8" rx="10.450000000000001" ry="6.51" fill="#F2A7AF" fill-opacity="0.165"/><ellipse cx="354.8" cy="84.5" rx="6.51" ry="10.450000000000001" fill="#F2A7AF" fill-opacity="0.165"/><ellipse cx="5.0" cy="369.0" rx="6.2" ry="6.6000000000000005" fill="#F2A7AF" fill-opacity="0.132"/><ellipse cx="369.0" cy="5.0" rx="6.6000000000000005" ry="6.2" fill="#F2A7AF" fill-opacity="0.132"/><ellipse cx="15.0" cy="369.0" rx="6.2" ry="6.6000000000000005" fill="#F2A7AF" fill-opacity="0.132"/><ellipse cx="369.0" cy="15.0" rx="6.6000000000000005" ry="6.2" fill="#F2A7AF" fill-opacity="0.132"/><ellipse cx="25.0" cy="369.0" rx="6.2" ry="6.6000000000000005" fill="#F2A7AF" fill-opacity="0.132"/><ellipse cx="369.0" cy="25.0" rx="6.6000000000000005" ry="6.2" fill="#F2A7AF" fill-opacity="0.132"/><ellipse cx="35.0" cy="369.0" rx="6.2" ry="6.6000000000000005" fill="#F2A7AF" fill-opacity="0.132"/><ellipse cx="369.0" cy="35.0" rx="6.6000000000000005" ry="6.2" fill="#F2A7AF" fill-opacity="0.132"/><rect x="45" y="363" width="35" height="12" fill="#9DC0E3" fill-opacity="0.35"/><rect x="363" y="45" width="12" height="35" fill="#9DC0E3" fill-opacity="0.35"/><rect x="94" y="230" width="87" height="44" fill="#9DC0E3" fill-opacity="0.2"/><rect x="230" y="94" width="44" height="87" fill="#9DC0E3" fill-opacity="0.2"/><path d="M106.0 242.0L117.0 242.0L111.5 268.0Z" fill="#F2A7AF" fill-opacity="0.33"/><path d="M242.0 106.0L242.0 117.0L268.0 111.5Z" fill="#F2A7AF" fill-opacity="0.33"/><ellipse cx="111.5" cy="240.0" rx="6.0" ry="8" fill="#F2A7AF" fill-opacity="0.33"/><ellipse cx="240.0" cy="111.5" rx="8" ry="6.0" fill="#F2A7AF" fill-opacity="0.33"/><path d="M131.0 242.0L139.0 242.0L135.0 268.0Z" fill="#F2A7AF" fill-opacity="0.33"/><path d="M242.0 131.0L242.0 139.0L268.0 135.0Z" fill="#F2A7AF" fill-opacity="0.33"/><ellipse cx="135.0" cy="240.0" rx="4.5" ry="8" fill="#F2A7AF" fill-opacity="0.33"/><ellipse cx="240.0" cy="135.0" rx="8" ry="4.5" fill="#F2A7AF" fill-opacity="0.33"/><path d="M140.0 242.0L148.0 242.0L144.0 268.0Z" fill="#F2A7AF" fill-opacity="0.33"/><path d="M242.0 140.0L242.0 148.0L268.0 144.0Z" fill="#F2A7AF" fill-opacity="0.33"/><ellipse cx="144.0" cy="240.0" rx="4.5" ry="8" fill="#F2A7AF" fill-opacity="0.33"/><ellipse cx="240.0" cy="144.0" rx="8" ry="4.5" fill="#F2A7AF" fill-opacity="0.33"/><path d="M162.0 242.0L173.0 242.0L167.5 268.0Z" fill="#F2A7AF" fill-opacity="0.33"/><path d="M242.0 162.0L242.0 173.0L268.0 167.5Z" fill="#F2A7AF" fill-opacity="0.33"/><ellipse cx="167.5" cy="240.0" rx="6.0" ry="8" fill="#F2A7AF" fill-opacity="0.33"/><ellipse cx="240.0" cy="167.5" rx="8" ry="6.0" fill="#F2A7AF" fill-opacity="0.33"/><rect x="94" y="183" width="87" height="46" fill="#9DC0E3" fill-opacity="0.18"/><rect x="183" y="94" width="46" height="87" fill="#9DC0E3" fill-opacity="0.18"/><ellipse cx="105.0" cy="200.0" rx="6" ry="6" fill="#F2A7AF" fill-opacity="0.24"/><ellipse cx="200.0" cy="105.0" rx="6" ry="6" fill="#F2A7AF" fill-opacity="0.24"/><ellipse cx="125.0" cy="215.0" rx="6" ry="6" fill="#F2A7AF" fill-opacity="0.24"/><ellipse cx="215.0" cy="125.0" rx="6" ry="6" fill="#F2A7AF" fill-opacity="0.24"/><ellipse cx="150.0" cy="195.0" rx="6" ry="6" fill="#F2A7AF" fill-opacity="0.24"/><ellipse cx="195.0" cy="150.0" rx="6" ry="6" fill="#F2A7AF" fill-opacity="0.24"/><ellipse cx="170.0" cy="215.0" rx="6" ry="6" fill="#F2A7AF" fill-opacity="0.24"/><ellipse cx="215.0" cy="170.0" rx="6" ry="6" fill="#F2A7AF" fill-opacity="0.24"/><ellipse cx="140.0" cy="225.0" rx="6" ry="6" fill="#F2A7AF" fill-opacity="0.24"/><ellipse cx="225.0" cy="140.0" rx="6" ry="6" fill="#F2A7AF" fill-opacity="0.24"/><ellipse cx="99.4" cy="339.5" rx="6.7425" ry="9.350000000000001" fill="#F2A7AF" fill-opacity="0.33"/><ellipse cx="339.5" cy="99.4" rx="9.350000000000001" ry="6.7425" fill="#F2A7AF" fill-opacity="0.33"/><ellipse cx="110.3" cy="339.5" rx="6.7425" ry="9.350000000000001" fill="#F2A7AF" fill-opacity="0.33"/><ellipse cx="339.5" cy="110.3" rx="9.350000000000001" ry="6.7425" fill="#F2A7AF" fill-opacity="0.33"/><ellipse cx="121.2" cy="339.5" rx="6.7425" ry="9.350000000000001" fill="#F2A7AF" fill-opacity="0.33"/><ellipse cx="339.5" cy="121.2" rx="9.350000000000001" ry="6.7425" fill="#F2A7AF" fill-opacity="0.33"/><ellipse cx="132.1" cy="339.5" rx="6.7425" ry="9.350000000000001" fill="#F2A7AF" fill-opacity="0.33"/><ellipse cx="339.5" cy="132.1" rx="9.350000000000001" ry="6.7425" fill="#F2A7AF" fill-opacity="0.33"/><ellipse cx="142.9" cy="339.5" rx="6.7425" ry="9.350000000000001" fill="#F2A7AF" fill-opacity="0.33"/><ellipse cx="339.5" cy="142.9" rx="9.350000000000001" ry="6.7425" fill="#F2A7AF" fill-opacity="0.33"/><ellipse cx="153.8" cy="339.5" rx="6.7425" ry="9.350000000000001" fill="#F2A7AF" fill-opacity="0.33"/><ellipse cx="339.5" cy="153.8" rx="9.350000000000001" ry="6.7425" fill="#F2A7AF" fill-opacity="0.33"/><ellipse cx="164.7" cy="339.5" rx="6.7425" ry="9.350000000000001" fill="#F2A7AF" fill-opacity="0.33"/><ellipse cx="339.5" cy="164.7" rx="9.350000000000001" ry="6.7425" fill="#F2A7AF" fill-opacity="0.33"/><ellipse cx="175.6" cy="339.5" rx="6.7425" ry="9.350000000000001" fill="#F2A7AF" fill-opacity="0.33"/><ellipse cx="339.5" cy="175.6" rx="9.350000000000001" ry="6.7425" fill="#F2A7AF" fill-opacity="0.33"/><ellipse cx="99.4" cy="308.5" rx="6.7425" ry="9.350000000000001" fill="#F2A7AF" fill-opacity="0.363"/><ellipse cx="308.5" cy="99.4" rx="9.350000000000001" ry="6.7425" fill="#F2A7AF" fill-opacity="0.363"/><ellipse cx="110.3" cy="308.5" rx="6.7425" ry="9.350000000000001" fill="#F2A7AF" fill-opacity="0.363"/><ellipse cx="308.5" cy="110.3" rx="9.350000000000001" ry="6.7425" fill="#F2A7AF" fill-opacity="0.363"/><ellipse cx="121.2" cy="308.5" rx="6.7425" ry="9.350000000000001" fill="#F2A7AF" fill-opacity="0.363"/><ellipse cx="308.5" cy="121.2" rx="9.350000000000001" ry="6.7425" fill="#F2A7AF" fill-opacity="0.363"/><ellipse cx="132.1" cy="308.5" rx="6.7425" ry="9.350000000000001" fill="#F2A7AF" fill-opacity="0.363"/><ellipse cx="308.5" cy="132.1" rx="9.350000000000001" ry="6.7425" fill="#F2A7AF" fill-opacity="0.363"/><ellipse cx="142.9" cy="308.5" rx="6.7425" ry="9.350000000000001" fill="#F2A7AF" fill-opacity="0.363"/><ellipse cx="308.5" cy="142.9" rx="9.350000000000001" ry="6.7425" fill="#F2A7AF" fill-opacity="0.363"/><ellipse cx="153.8" cy="308.5" rx="6.7425" ry="9.350000000000001" fill="#F2A7AF" fill-opacity="0.363"/><ellipse cx="308.5" cy="153.8" rx="9.350000000000001" ry="6.7425" fill="#F2A7AF" fill-opacity="0.363"/><ellipse cx="164.7" cy="308.5" rx="6.7425" ry="9.350000000000001" fill="#F2A7AF" fill-opacity="0.363"/><ellipse cx="308.5" cy="164.7" rx="9.350000000000001" ry="6.7425" fill="#F2A7AF" fill-opacity="0.363"/><ellipse cx="175.6" cy="308.5" rx="6.7425" ry="9.350000000000001" fill="#F2A7AF" fill-opacity="0.363"/><ellipse cx="308.5" cy="175.6" rx="9.350000000000001" ry="6.7425" fill="#F2A7AF" fill-opacity="0.363"/><ellipse cx="99.4" cy="285.5" rx="6.7425" ry="6.050000000000001" fill="#F2A7AF" fill-opacity="0.297"/><ellipse cx="285.5" cy="99.4" rx="6.050000000000001" ry="6.7425" fill="#F2A7AF" fill-opacity="0.297"/><ellipse cx="110.3" cy="285.5" rx="6.7425" ry="6.050000000000001" fill="#F2A7AF" fill-opacity="0.297"/><ellipse cx="285.5" cy="110.3" rx="6.050000000000001" ry="6.7425" fill="#F2A7AF" fill-opacity="0.297"/><ellipse cx="121.2" cy="285.5" rx="6.7425" ry="6.050000000000001" fill="#F2A7AF" fill-opacity="0.297"/><ellipse cx="285.5" cy="121.2" rx="6.050000000000001" ry="6.7425" fill="#F2A7AF" fill-opacity="0.297"/><ellipse cx="132.1" cy="285.5" rx="6.7425" ry="6.050000000000001" fill="#F2A7AF" fill-opacity="0.297"/><ellipse cx="285.5" cy="132.1" rx="6.050000000000001" ry="6.7425" fill="#F2A7AF" fill-opacity="0.297"/><ellipse cx="142.9" cy="285.5" rx="6.7425" ry="6.050000000000001" fill="#F2A7AF" fill-opacity="0.297"/><ellipse cx="285.5" cy="142.9" rx="6.050000000000001" ry="6.7425" fill="#F2A7AF" fill-opacity="0.297"/><ellipse cx="153.8" cy="285.5" rx="6.7425" ry="6.050000000000001" fill="#F2A7AF" fill-opacity="0.297"/><ellipse cx="285.5" cy="153.8" rx="6.050000000000001" ry="6.7425" fill="#F2A7AF" fill-opacity="0.297"/><ellipse cx="164.7" cy="285.5" rx="6.7425" ry="6.050000000000001" fill="#F2A7AF" fill-opacity="0.297"/><ellipse cx="285.5" cy="164.7" rx="6.050000000000001" ry="6.7425" fill="#F2A7AF" fill-opacity="0.297"/><ellipse cx="175.6" cy="285.5" rx="6.7425" ry="6.050000000000001" fill="#F2A7AF" fill-opacity="0.297"/><ellipse cx="285.5" cy="175.6" rx="6.050000000000001" ry="6.7425" fill="#F2A7AF" fill-opacity="0.297"/><ellipse cx="100.0" cy="322.0" rx="4" ry="4" fill="#9DC0E3" fill-opacity="0.35"/><ellipse cx="322.0" cy="100.0" rx="4" ry="4" fill="#9DC0E3" fill-opacity="0.35"/><ellipse cx="150.0" cy="322.0" rx="4" ry="4" fill="#9DC0E3" fill-opacity="0.35"/><ellipse cx="322.0" cy="150.0" rx="4" ry="4" fill="#9DC0E3" fill-opacity="0.35"/><ellipse cx="172.0" cy="322.0" rx="4" ry="4" fill="#9DC0E3" fill-opacity="0.35"/><ellipse cx="322.0" cy="172.0" rx="4" ry="4" fill="#9DC0E3" fill-opacity="0.35"/><ellipse cx="120.0" cy="294.0" rx="4" ry="4" fill="#9DC0E3" fill-opacity="0.35"/><ellipse cx="294.0" cy="120.0" rx="4" ry="4" fill="#9DC0E3" fill-opacity="0.35"/><ellipse cx="99.4" cy="369.0" rx="6.7425" ry="6.6000000000000005" fill="#F2A7AF" fill-opacity="0.165"/><ellipse cx="369.0" cy="99.4" rx="6.6000000000000005" ry="6.7425" fill="#F2A7AF" fill-opacity="0.165"/><ellipse cx="110.3" cy="369.0" rx="6.7425" ry="6.6000000000000005" fill="#F2A7AF" fill-opacity="0.165"/><ellipse cx="369.0" cy="110.3" rx="6.6000000000000005" ry="6.7425" fill="#F2A7AF" fill-opacity="0.165"/><ellipse cx="121.2" cy="369.0" rx="6.7425" ry="6.6000000000000005" fill="#F2A7AF" fill-opacity="0.165"/><ellipse cx="369.0" cy="121.2" rx="6.6000000000000005" ry="6.7425" fill="#F2A7AF" fill-opacity="0.165"/><ellipse cx="132.1" cy="369.0" rx="6.7425" ry="6.6000000000000005" fill="#F2A7AF" fill-opacity="0.165"/><ellipse cx="369.0" cy="132.1" rx="6.6000000000000005" ry="6.7425" fill="#F2A7AF" fill-opacity="0.165"/><ellipse cx="142.9" cy="369.0" rx="6.7425" ry="6.6000000000000005" fill="#F2A7AF" fill-opacity="0.165"/><ellipse cx="369.0" cy="142.9" rx="6.6000000000000005" ry="6.7425" fill="#F2A7AF" fill-opacity="0.165"/><ellipse cx="153.8" cy="369.0" rx="6.7425" ry="6.6000000000000005" fill="#F2A7AF" fill-opacity="0.165"/><ellipse cx="369.0" cy="153.8" rx="6.6000000000000005" ry="6.7425" fill="#F2A7AF" fill-opacity="0.165"/><ellipse cx="164.7" cy="369.0" rx="6.7425" ry="6.6000000000000005" fill="#F2A7AF" fill-opacity="0.165"/><ellipse cx="369.0" cy="164.7" rx="6.6000000000000005" ry="6.7425" fill="#F2A7AF" fill-opacity="0.165"/><ellipse cx="175.6" cy="369.0" rx="6.7425" ry="6.6000000000000005" fill="#F2A7AF" fill-opacity="0.165"/><ellipse cx="369.0" cy="175.6" rx="6.6000000000000005" ry="6.7425" fill="#F2A7AF" fill-opacity="0.165"/><ellipse cx="211.5" cy="281.2" rx="31.35" ry="6.51" fill="#F2A7AF" fill-opacity="0.297"/><ellipse cx="281.2" cy="211.5" rx="6.51" ry="31.35" fill="#F2A7AF" fill-opacity="0.297"/><ellipse cx="211.5" cy="291.8" rx="31.35" ry="6.51" fill="#F2A7AF" fill-opacity="0.297"/><ellipse cx="291.8" cy="211.5" rx="6.51" ry="31.35" fill="#F2A7AF" fill-opacity="0.297"/><ellipse cx="211.5" cy="302.2" rx="31.35" ry="6.51" fill="#F2A7AF" fill-opacity="0.297"/><ellipse cx="302.2" cy="211.5" rx="6.51" ry="31.35" fill="#F2A7AF" fill-opacity="0.297"/><ellipse cx="211.5" cy="312.8" rx="31.35" ry="6.51" fill="#F2A7AF" fill-opacity="0.297"/><ellipse cx="312.8" cy="211.5" rx="6.51" ry="31.35" fill="#F2A7AF" fill-opacity="0.297"/><ellipse cx="211.5" cy="323.2" rx="31.35" ry="6.51" fill="#F2A7AF" fill-opacity="0.297"/><ellipse cx="323.2" cy="211.5" rx="6.51" ry="31.35" fill="#F2A7AF" fill-opacity="0.297"/><ellipse cx="211.5" cy="333.8" rx="31.35" ry="6.51" fill="#F2A7AF" fill-opacity="0.297"/><ellipse cx="333.8" cy="211.5" rx="6.51" ry="31.35" fill="#F2A7AF" fill-opacity="0.297"/><ellipse cx="211.5" cy="344.2" rx="31.35" ry="6.51" fill="#F2A7AF" fill-opacity="0.297"/><ellipse cx="344.2" cy="211.5" rx="6.51" ry="31.35" fill="#F2A7AF" fill-opacity="0.297"/><ellipse cx="211.5" cy="354.8" rx="31.35" ry="6.51" fill="#F2A7AF" fill-opacity="0.297"/><ellipse cx="354.8" cy="211.5" rx="6.51" ry="31.35" fill="#F2A7AF" fill-opacity="0.297"/><rect x="183" y="296" width="57" height="8" fill="#ffffff" fill-opacity="0.4"/><rect x="296" y="183" width="8" height="57" fill="#ffffff" fill-opacity="0.4"/><rect x="183" y="326" width="57" height="8" fill="#ffffff" fill-opacity="0.4"/><rect x="326" y="183" width="8" height="57" fill="#ffffff" fill-opacity="0.4"/><path d="M240.0 276.0L250.0 360.0" stroke="#9DC0E3" stroke-opacity="0.3" stroke-width="4"/><path d="M276.0 240.0L360.0 250.0" stroke="#9DC0E3" stroke-opacity="0.3" stroke-width="4"/><path d="M249.0 276.0L259.0 360.0" stroke="#9DC0E3" stroke-opacity="0.3" stroke-width="4"/><path d="M276.0 249.0L360.0 259.0" stroke="#9DC0E3" stroke-opacity="0.3" stroke-width="4"/><path d="M258.0 276.0L268.0 360.0" stroke="#9DC0E3" stroke-opacity="0.3" stroke-width="4"/><path d="M276.0 258.0L360.0 268.0" stroke="#9DC0E3" stroke-opacity="0.3" stroke-width="4"/><path d="M267.0 276.0L277.0 360.0" stroke="#9DC0E3" stroke-opacity="0.3" stroke-width="4"/><path d="M276.0 267.0L360.0 277.0" stroke="#9DC0E3" stroke-opacity="0.3" stroke-width="4"/><ellipse cx="188.6" cy="369.0" rx="6.8975" ry="6.6000000000000005" fill="#F2A7AF" fill-opacity="0.132"/><ellipse cx="369.0" cy="188.6" rx="6.6000000000000005" ry="6.8975" fill="#F2A7AF" fill-opacity="0.132"/><ellipse cx="199.7" cy="369.0" rx="6.8975" ry="6.6000000000000005" fill="#F2A7AF" fill-opacity="0.132"/><ellipse cx="369.0" cy="199.7" rx="6.6000000000000005" ry="6.8975" fill="#F2A7AF" fill-opacity="0.132"/><ellipse cx="210.8" cy="369.0" rx="6.8975" ry="6.6000000000000005" fill="#F2A7AF" fill-opacity="0.132"/><ellipse cx="369.0" cy="210.8" rx="6.6000000000000005" ry="6.8975" fill="#F2A7AF" fill-opacity="0.132"/><ellipse cx="221.9" cy="369.0" rx="6.8975" ry="6.6000000000000005" fill="#F2A7AF" fill-opacity="0.132"/><ellipse cx="369.0" cy="221.9" rx="6.6000000000000005" ry="6.8975" fill="#F2A7AF" fill-opacity="0.132"/><ellipse cx="233.1" cy="369.0" rx="6.8975" ry="6.6000000000000005" fill="#F2A7AF" fill-opacity="0.132"/><ellipse cx="369.0" cy="233.1" rx="6.6000000000000005" ry="6.8975" fill="#F2A7AF" fill-opacity="0.132"/><ellipse cx="244.2" cy="369.0" rx="6.8975" ry="6.6000000000000005" fill="#F2A7AF" fill-opacity="0.132"/><ellipse cx="369.0" cy="244.2" rx="6.6000000000000005" ry="6.8975" fill="#F2A7AF" fill-opacity="0.132"/><ellipse cx="255.3" cy="369.0" rx="6.8975" ry="6.6000000000000005" fill="#F2A7AF" fill-opacity="0.132"/><ellipse cx="369.0" cy="255.3" rx="6.6000000000000005" ry="6.8975" fill="#F2A7AF" fill-opacity="0.132"/><ellipse cx="266.4" cy="369.0" rx="6.8975" ry="6.6000000000000005" fill="#F2A7AF" fill-opacity="0.132"/><ellipse cx="369.0" cy="266.4" rx="6.6000000000000005" ry="6.8975" fill="#F2A7AF" fill-opacity="0.132"/><ellipse cx="281.2" cy="369.0" rx="6.51" ry="6.6000000000000005" fill="#F2A7AF" fill-opacity="0.165"/><ellipse cx="369.0" cy="281.2" rx="6.6000000000000005" ry="6.51" fill="#F2A7AF" fill-opacity="0.165"/><ellipse cx="291.8" cy="369.0" rx="6.51" ry="6.6000000000000005" fill="#F2A7AF" fill-opacity="0.165"/><ellipse cx="369.0" cy="291.8" rx="6.6000000000000005" ry="6.51" fill="#F2A7AF" fill-opacity="0.165"/><ellipse cx="302.2" cy="369.0" rx="6.51" ry="6.6000000000000005" fill="#F2A7AF" fill-opacity="0.165"/><ellipse cx="369.0" cy="302.2" rx="6.6000000000000005" ry="6.51" fill="#F2A7AF" fill-opacity="0.165"/><ellipse cx="312.8" cy="369.0" rx="6.51" ry="6.6000000000000005" fill="#F2A7AF" fill-opacity="0.165"/><ellipse cx="369.0" cy="312.8" rx="6.6000000000000005" ry="6.51" fill="#F2A7AF" fill-opacity="0.165"/><ellipse cx="323.2" cy="369.0" rx="6.51" ry="6.6000000000000005" fill="#F2A7AF" fill-opacity="0.165"/><ellipse cx="369.0" cy="323.2" rx="6.6000000000000005" ry="6.51" fill="#F2A7AF" fill-opacity="0.165"/><ellipse cx="333.8" cy="369.0" rx="6.51" ry="6.6000000000000005" fill="#F2A7AF" fill-opacity="0.165"/><ellipse cx="369.0" cy="333.8" rx="6.6000000000000005" ry="6.51" fill="#F2A7AF" fill-opacity="0.165"/><ellipse cx="344.2" cy="369.0" rx="6.51" ry="6.6000000000000005" fill="#F2A7AF" fill-opacity="0.165"/><ellipse cx="369.0" cy="344.2" rx="6.6000000000000005" ry="6.51" fill="#F2A7AF" fill-opacity="0.165"/><ellipse cx="354.8" cy="369.0" rx="6.51" ry="6.6000000000000005" fill="#F2A7AF" fill-opacity="0.165"/><ellipse cx="369.0" cy="354.8" rx="6.6000000000000005" ry="6.51" fill="#F2A7AF" fill-opacity="0.165"/><path d="M1.0 1.0L1.0 31.0L21.0 57.0L48.0 48.0L57.0 21.0L31.0 1.0Z" fill="#9DC0E3" fill-opacity="0.25"/><ellipse cx="14.5" cy="25.5" rx="5" ry="5" fill="#F2A7AF" fill-opacity="0.3"/><ellipse cx="25.5" cy="14.5" rx="5" ry="5" fill="#F2A7AF" fill-opacity="0.3"/><ellipse cx="25.0" cy="35.0" rx="5" ry="5" fill="#F2A7AF" fill-opacity="0.3"/><ellipse cx="35.0" cy="25.0" rx="5" ry="5" fill="#F2A7AF" fill-opacity="0.3"/><path d="M0.0 27.0L26.0 1.0" stroke="#6FA1D4" stroke-opacity="0.6" stroke-width="3"/><path d="M19.0 52.0L52.0 19.0" stroke="#6FA1D4" stroke-opacity="0.6" stroke-width="3"/><path d="M26.0 1.0L52.5 27.5" stroke="#6FA1D4" stroke-opacity="0.5" stroke-width="3"/><path d="M1.0 26.0L27.5 52.5" stroke="#6FA1D4" stroke-opacity="0.5" stroke-width="3"/><path d="M40.0 40.0L86.0 86.0" stroke="#9DC0E3" stroke-opacity="0.55" stroke-width="18"/><path d="M0.0 0.0L40.0 40.0" stroke="#9DC0E3" stroke-opacity="0.25" stroke-width="20"/><ellipse cx="8.0" cy="50.9" rx="6.6000000000000005" ry="7.285" fill="#F2A7AF" fill-opacity="0.297"/><ellipse cx="50.9" cy="8.0" rx="7.285" ry="6.6000000000000005" fill="#F2A7AF" fill-opacity="0.297"/><ellipse cx="8.0" cy="62.6" rx="6.6000000000000005" ry="7.285" fill="#F2A7AF" fill-opacity="0.297"/><ellipse cx="62.6" cy="8.0" rx="7.285" ry="6.6000000000000005" fill="#F2A7AF" fill-opacity="0.297"/><ellipse cx="8.0" cy="74.4" rx="6.6000000000000005" ry="7.285" fill="#F2A7AF" fill-opacity="0.297"/><ellipse cx="74.4" cy="8.0" rx="7.285" ry="6.6000000000000005" fill="#F2A7AF" fill-opacity="0.297"/><ellipse cx="8.0" cy="86.1" rx="6.6000000000000005" ry="7.285" fill="#F2A7AF" fill-opacity="0.297"/><ellipse cx="86.1" cy="8.0" rx="7.285" ry="6.6000000000000005" fill="#F2A7AF" fill-opacity="0.297"/><ellipse cx="31.5" cy="50.9" rx="7.15" ry="7.285" fill="#F2A7AF" fill-opacity="0.297"/><ellipse cx="50.9" cy="31.5" rx="7.285" ry="7.15" fill="#F2A7AF" fill-opacity="0.297"/><ellipse cx="31.5" cy="62.6" rx="7.15" ry="7.285" fill="#F2A7AF" fill-opacity="0.297"/><ellipse cx="62.6" cy="31.5" rx="7.285" ry="7.15" fill="#F2A7AF" fill-opacity="0.297"/><ellipse cx="31.5" cy="74.4" rx="7.15" ry="7.285" fill="#F2A7AF" fill-opacity="0.297"/><ellipse cx="74.4" cy="31.5" rx="7.285" ry="7.15" fill="#F2A7AF" fill-opacity="0.297"/><ellipse cx="31.5" cy="86.1" rx="7.15" ry="7.285" fill="#F2A7AF" fill-opacity="0.297"/><ellipse cx="86.1" cy="31.5" rx="7.285" ry="7.15" fill="#F2A7AF" fill-opacity="0.297"/><rect x="17" y="45" width="5" height="47" fill="#9DC0E3" fill-opacity="0.3"/><rect x="45" y="17" width="47" height="5" fill="#9DC0E3" fill-opacity="0.3"/><rect x="95" y="95" width="85" height="85" fill="#9DC0E3" fill-opacity="0.28"/><ellipse cx="96.5" cy="169.5" rx="7.0" ry="7.0" fill="#ffffff" fill-opacity="0.6"/><ellipse cx="110.5" cy="155.5" rx="7.0" ry="7.0" fill="#ffffff" fill-opacity="0.6"/><ellipse cx="124.5" cy="169.5" rx="7.0" ry="7.0" fill="#ffffff" fill-opacity="0.6"/><ellipse cx="110.0" cy="126.0" rx="7.0" ry="7.0" fill="#ffffff" fill-opacity="0.6"/><ellipse cx="125.0" cy="141.0" rx="7.0" ry="7.0" fill="#ffffff" fill-opacity="0.6"/><ellipse cx="139.0" cy="155.0" rx="7.0" ry="7.0" fill="#ffffff" fill-opacity="0.6"/><ellipse cx="153.5" cy="169.5" rx="7.0" ry="7.0" fill="#ffffff" fill-opacity="0.6"/><ellipse cx="110.5" cy="97.5" rx="7.0" ry="7.0" fill="#ffffff" fill-opacity="0.6"/><ellipse cx="124.5" cy="111.5" rx="7.0" ry="7.0" fill="#ffffff" fill-opacity="0.6"/><ellipse cx="139.5" cy="126.5" rx="7.0" ry="7.0" fill="#ffffff" fill-opacity="0.6"/><ellipse cx="153.5" cy="140.5" rx="7.0" ry="7.0" fill="#ffffff" fill-opacity="0.6"/><ellipse cx="168.0" cy="155.0" rx="7.0" ry="7.0" fill="#ffffff" fill-opacity="0.6"/><ellipse cx="138.0" cy="98.0" rx="7.0" ry="7.0" fill="#ffffff" fill-opacity="0.6"/><ellipse cx="153.0" cy="113.0" rx="7.0" ry="7.0" fill="#ffffff" fill-opacity="0.6"/><ellipse cx="167.0" cy="127.0" rx="7.0" ry="7.0" fill="#ffffff" fill-opacity="0.6"/><ellipse cx="167.0" cy="99.0" rx="7.0" ry="7.0" fill="#ffffff" fill-opacity="0.6"/><path d="M95.0 154.0L121.0 180.0" stroke="#6FA1D4" stroke-opacity="0.7" stroke-width="3.4"/><path d="M95.0 125.0L150.0 180.0" stroke="#6FA1D4" stroke-opacity="0.7" stroke-width="3.4"/><path d="M121.5 95.0L180.0 153.5" stroke="#6FA1D4" stroke-opacity="0.7" stroke-width="3.4"/><path d="M149.0 95.0L180.0 126.0" stroke="#6FA1D4" stroke-opacity="0.7" stroke-width="3.4"/><path d="M95.0 127.0L127.0 95.0" stroke="#6FA1D4" stroke-opacity="0.7" stroke-width="3.4"/><path d="M95.0 156.0L156.0 95.0" stroke="#6FA1D4" stroke-opacity="0.7" stroke-width="3.4"/><path d="M100.0 180.0L180.0 100.0" stroke="#6FA1D4" stroke-opacity="0.7" stroke-width="3.4"/><path d="M128.0 180.0L180.0 128.0" stroke="#6FA1D4" stroke-opacity="0.7" stroke-width="3.4"/><path d="M157.0 180.0L180.0 157.0" stroke="#6FA1D4" stroke-opacity="0.7" stroke-width="3.4"/><path d="M181.0 181.0L182.0 210.0L205.0 235.0L231.0 231.0L235.0 205.0L210.0 182.0Z" fill="#9DC0E3" fill-opacity="0.25"/><ellipse cx="197.0" cy="211.0" rx="4.5" ry="4.5" fill="#F2A7AF" fill-opacity="0.3"/><ellipse cx="211.0" cy="197.0" rx="4.5" ry="4.5" fill="#F2A7AF" fill-opacity="0.3"/><ellipse cx="210.5" cy="222.5" rx="4.5" ry="4.5" fill="#F2A7AF" fill-opacity="0.3"/><ellipse cx="222.5" cy="210.5" rx="4.5" ry="4.5" fill="#F2A7AF" fill-opacity="0.3"/><path d="M185.0 211.0L211.0 185.0" stroke="#6FA1D4" stroke-opacity="0.6" stroke-width="3"/><path d="M197.0 227.0L227.0 197.0" stroke="#6FA1D4" stroke-opacity="0.6" stroke-width="3"/><path d="M207.0 183.0L237.0 213.0" stroke="#6FA1D4" stroke-opacity="0.5" stroke-width="3"/><path d="M183.0 207.0L213.0 237.0" stroke="#6FA1D4" stroke-opacity="0.5" stroke-width="3"/><path d="M185.0 185.0L272.0 272.0" stroke="#9DC0E3" stroke-opacity="0.35" stroke-width="26"/><path d="M222.0 222.0L272.0 272.0" stroke="#9DC0E3" stroke-opacity="0.5" stroke-width="14"/><ellipse cx="188.9" cy="253.0" rx="7.285" ry="23.1" fill="#F2A7AF" fill-opacity="0.165"/><ellipse cx="253.0" cy="188.9" rx="23.1" ry="7.285" fill="#F2A7AF" fill-opacity="0.165"/><ellipse cx="200.6" cy="253.0" rx="7.285" ry="23.1" fill="#F2A7AF" fill-opacity="0.165"/><ellipse cx="253.0" cy="200.6" rx="23.1" ry="7.285" fill="#F2A7AF" fill-opacity="0.165"/><ellipse cx="212.4" cy="253.0" rx="7.285" ry="23.1" fill="#F2A7AF" fill-opacity="0.165"/><ellipse cx="253.0" cy="212.4" rx="23.1" ry="7.285" fill="#F2A7AF" fill-opacity="0.165"/><ellipse cx="224.1" cy="253.0" rx="7.285" ry="23.1" fill="#F2A7AF" fill-opacity="0.165"/><ellipse cx="253.0" cy="224.1" rx="23.1" ry="7.285" fill="#F2A7AF" fill-opacity="0.165"/><rect x="186" y="236" width="4" height="38" fill="#9DC0E3" fill-opacity="0.35"/><rect x="236" y="186" width="38" height="4" fill="#9DC0E3" fill-opacity="0.35"/><rect x="195" y="236" width="4" height="38" fill="#9DC0E3" fill-opacity="0.35"/><rect x="236" y="195" width="38" height="4" fill="#9DC0E3" fill-opacity="0.35"/><rect x="204" y="236" width="4" height="38" fill="#9DC0E3" fill-opacity="0.35"/><rect x="236" y="204" width="38" height="4" fill="#9DC0E3" fill-opacity="0.35"/><rect x="213" y="236" width="4" height="38" fill="#9DC0E3" fill-opacity="0.35"/><rect x="236" y="213" width="38" height="4" fill="#9DC0E3" fill-opacity="0.35"/><rect x="222" y="236" width="4" height="38" fill="#9DC0E3" fill-opacity="0.35"/><rect x="236" y="222" width="38" height="4" fill="#9DC0E3" fill-opacity="0.35"/><rect x="276" y="276" width="84" height="84" fill="#9DC0E3" fill-opacity="0.3"/><ellipse cx="281.0" cy="351.0" rx="6.5" ry="6.5" fill="#F2A7AF" fill-opacity="0.3"/><ellipse cx="280.0" cy="323.0" rx="6.5" ry="6.5" fill="#F2A7AF" fill-opacity="0.3"/><ellipse cx="294.5" cy="337.5" rx="6.5" ry="6.5" fill="#F2A7AF" fill-opacity="0.3"/><ellipse cx="308.5" cy="351.5" rx="6.5" ry="6.5" fill="#F2A7AF" fill-opacity="0.3"/><ellipse cx="280.5" cy="296.5" rx="6.5" ry="6.5" fill="#F2A7AF" fill-opacity="0.3"/><ellipse cx="293.5" cy="309.5" rx="6.5" ry="6.5" fill="#F2A7AF" fill-opacity="0.3"/><ellipse cx="308.0" cy="324.0" rx="6.5" ry="6.5" fill="#F2A7AF" fill-opacity="0.3"/><ellipse cx="322.0" cy="338.0" rx="6.5" ry="6.5" fill="#F2A7AF" fill-opacity="0.3"/><ellipse cx="335.5" cy="351.5" rx="6.5" ry="6.5" fill="#F2A7AF" fill-opacity="0.3"/><ellipse cx="294.8" cy="282.2" rx="6.5" ry="6.5" fill="#F2A7AF" fill-opacity="0.3"/><ellipse cx="307.8" cy="295.2" rx="6.5" ry="6.5" fill="#F2A7AF" fill-opacity="0.3"/><ellipse cx="322.2" cy="309.8" rx="6.5" ry="6.5" fill="#F2A7AF" fill-opacity="0.3"/><ellipse cx="336.2" cy="323.8" rx="6.5" ry="6.5" fill="#F2A7AF" fill-opacity="0.3"/><ellipse cx="349.8" cy="337.2" rx="6.5" ry="6.5" fill="#F2A7AF" fill-opacity="0.3"/><ellipse cx="322.0" cy="281.0" rx="6.5" ry="6.5" fill="#F2A7AF" fill-opacity="0.3"/><ellipse cx="336.5" cy="295.5" rx="6.5" ry="6.5" fill="#F2A7AF" fill-opacity="0.3"/><ellipse cx="350.5" cy="309.5" rx="6.5" ry="6.5" fill="#F2A7AF" fill-opacity="0.3"/><ellipse cx="349.5" cy="282.5" rx="6.5" ry="6.5" fill="#F2A7AF" fill-opacity="0.3"/><path d="M276.0 332.0L304.0 360.0" stroke="#6FA1D4" stroke-opacity="0.8" stroke-width="3.8"/><path d="M276.0 305.5L330.5 360.0" stroke="#6FA1D4" stroke-opacity="0.8" stroke-width="3.8"/><path d="M303.0 276.0L360.0 333.0" stroke="#6FA1D4" stroke-opacity="0.8" stroke-width="3.8"/><path d="M330.0 276.0L360.0 306.0" stroke="#6FA1D4" stroke-opacity="0.8" stroke-width="3.8"/><path d="M276.0 314.0L314.0 276.0" stroke="#6FA1D4" stroke-opacity="0.8" stroke-width="3.8"/><path d="M276.0 341.0L341.0 276.0" stroke="#6FA1D4" stroke-opacity="0.8" stroke-width="3.8"/><path d="M286.0 360.0L360.0 286.0" stroke="#6FA1D4" stroke-opacity="0.8" stroke-width="3.8"/><path d="M313.0 360.0L360.0 313.0" stroke="#6FA1D4" stroke-opacity="0.8" stroke-width="3.8"/><path d="M340.0 360.0L360.0 340.0" stroke="#6FA1D4" stroke-opacity="0.8" stroke-width="3.8"/>
</g></g>
<g transform="translate(399.6,262.0) scale(0.60907,-0.60880)"><path d="M0 0L375 375" stroke="#4A88C5" stroke-width="2.0"/></g>
<line x1="425.5" x2="425.5" y1="33.7" y2="262" stroke="#1a1a1a" stroke-width="0.9" stroke-dasharray="1 2.25"/><line x1="447.3" x2="447.3" y1="33.7" y2="262" stroke="#1a1a1a" stroke-width="0.9" stroke-dasharray="1 2.25"/><line x1="399.6" x2="628" y1="117.6" y2="117.6" stroke="#1a1a1a" stroke-width="0.9" stroke-dasharray="1 2.25"/><line x1="399.6" x2="628" y1="119.8" y2="119.8" stroke="#1a1a1a" stroke-width="0.9" stroke-dasharray="1 2.25"/><rect x="397.40" y="33.70" width="2.2" height="6.90" fill="#FF7F00"/><rect x="397.40" y="40.60" width="2.2" height="54.80" fill="#984EA3"/><rect x="397.40" y="95.40" width="2.2" height="56.60" fill="#4DAF4A"/><rect x="397.40" y="152.00" width="2.2" height="53.40" fill="#377EB8"/><rect x="397.40" y="205.40" width="2.2" height="58.80" fill="#E41A1C"/><rect x="397.40" y="262.00" width="58.60" height="2.2" fill="#E41A1C"/><rect x="456.00" y="262.00" width="53.50" height="2.2" fill="#377EB8"/><rect x="509.50" y="262.00" width="56.60" height="2.2" fill="#4DAF4A"/><rect x="566.10" y="262.00" width="54.30" height="2.2" fill="#984EA3"/><rect x="620.40" y="262.00" width="7.60" height="2.2" fill="#FF7F00"/><line x1="395.20" x2="397.40" y1="263" y2="263" stroke="#333" stroke-width="0.8"/><text x="393.6" y="265.50" font-size="7" text-anchor="end" fill="#4D4D4D">DQA1-1</text><line x1="395.20" x2="397.40" y1="226.7" y2="226.7" stroke="#333" stroke-width="0.8"/><text x="393.6" y="229.20" font-size="7" text-anchor="end" fill="#4D4D4D">DQA1-60</text><line x1="395.20" x2="397.40" y1="189.4" y2="189.4" stroke="#333" stroke-width="0.8"/><text x="393.6" y="191.90" font-size="7" text-anchor="end" fill="#4D4D4D">DQA1-120</text><line x1="395.20" x2="397.40" y1="152" y2="152" stroke="#333" stroke-width="0.8"/><text x="393.6" y="154.50" font-size="7" text-anchor="end" fill="#4D4D4D">DQB1-1</text><line x1="395.20" x2="397.40" y1="115.8" y2="115.8" stroke="#333" stroke-width="0.8"/><text x="393.6" y="118.30" font-size="7" text-anchor="end" fill="#4D4D4D">DQB1-60</text><line x1="395.20" x2="397.40" y1="78.2" y2="78.2" stroke="#333" stroke-width="0.8"/><text x="393.6" y="80.70" font-size="7" text-anchor="end" fill="#4D4D4D">DQB1-120</text><line x1="395.20" x2="397.40" y1="40.6" y2="40.6" stroke="#333" stroke-width="0.8"/><text x="393.6" y="43.10" font-size="7" text-anchor="end" fill="#4D4D4D">CD74-1</text><line x1="398.5" x2="398.5" y1="264.20" y2="266.40" stroke="#333" stroke-width="0.8"/><text transform="translate(402.10,270.60) rotate(-45)" font-size="7" text-anchor="end" fill="#4D4D4D">DQA1-1</text><line x1="434.7" x2="434.7" y1="264.20" y2="266.40" stroke="#333" stroke-width="0.8"/><text transform="translate(438.30,270.60) rotate(-45)" font-size="7" text-anchor="end" fill="#4D4D4D">DQA1-60</text><line x1="472" x2="472" y1="264.20" y2="266.40" stroke="#333" stroke-width="0.8"/><text transform="translate(475.60,270.60) rotate(-45)" font-size="7" text-anchor="end" fill="#4D4D4D">DQA1-120</text><line x1="509.7" x2="509.7" y1="264.20" y2="266.40" stroke="#333" stroke-width="0.8"/><text transform="translate(513.30,270.60) rotate(-45)" font-size="7" text-anchor="end" fill="#4D4D4D">DQB1-1</text><line x1="545.7" x2="545.7" y1="264.20" y2="266.40" stroke="#333" stroke-width="0.8"/><text transform="translate(549.30,270.60) rotate(-45)" font-size="7" text-anchor="end" fill="#4D4D4D">DQB1-60</text><line x1="583.3" x2="583.3" y1="264.20" y2="266.40" stroke="#333" stroke-width="0.8"/><text transform="translate(586.90,270.60) rotate(-45)" font-size="7" text-anchor="end" fill="#4D4D4D">DQB1-120</text><line x1="620.9" x2="620.9" y1="264.20" y2="266.40" stroke="#333" stroke-width="0.8"/><text transform="translate(624.50,270.60) rotate(-45)" font-size="7" text-anchor="end" fill="#4D4D4D">CD74-1</text>
<text x="270.90" y="469.80" font-size="8.7" text-anchor="start" fill="#000" >Contact</text>
<rect x="270.2" y="475.4" width="13.9" height="13.3" fill="#FCFCFC" stroke="#F2F2F2" stroke-width="0.5"/>
<rect x="270.2" y="488.7" width="13.9" height="13.9" fill="#A9C6E6"/>
<rect x="270.2" y="502.7" width="13.9" height="13.9" fill="#6A9DD0"/>
<rect x="270.2" y="516.6" width="13.9" height="13.9" fill="#2B6FB5"/>
<text x="288.90" y="485.20" font-size="7.0" text-anchor="start" fill="#000" >More than 20Å</text>
<text x="288.90" y="498.90" font-size="7.0" text-anchor="start" fill="#000" >20Å or less</text>
<text x="288.90" y="512.70" font-size="7.0" text-anchor="start" fill="#000" >10Å or less</text>
<text x="288.90" y="526.40" font-size="7.0" text-anchor="start" fill="#000" >5Å or less</text>
<text x="641.80" y="115.00" font-size="8.7" text-anchor="start" fill="#000" >Correlation</text>
<defs><linearGradient id="cg" x1="0" y1="0" x2="0" y2="1"><stop offset="0" stop-color="#3A7EBB"/><stop offset="0.25" stop-color="#9EBFDD"/><stop offset="0.5" stop-color="#FFFFFF"/><stop offset="0.75" stop-color="#EEA1A9"/><stop offset="1" stop-color="#D93A4A"/></linearGradient></defs>
<rect x="641.3" y="120.3" width="14.5" height="69.7" fill="url(#cg)"/>
<line x1="641.3" x2="643.8" y1="120.6" y2="120.6" stroke="#fff" stroke-width="0.5"/><line x1="653.3" x2="655.8" y1="120.6" y2="120.6" stroke="#fff" stroke-width="0.5"/>
<text x="660.60" y="123.10" font-size="7.0" text-anchor="start" fill="#000" >1.0</text>
<line x1="641.3" x2="643.8" y1="137.9" y2="137.9" stroke="#fff" stroke-width="0.5"/><line x1="653.3" x2="655.8" y1="137.9" y2="137.9" stroke="#fff" stroke-width="0.5"/>
<text x="660.60" y="140.40" font-size="7.0" text-anchor="start" fill="#000" >0.5</text>
<line x1="641.3" x2="643.8" y1="155.3" y2="155.3" stroke="#fff" stroke-width="0.5"/><line x1="653.3" x2="655.8" y1="155.3" y2="155.3" stroke="#fff" stroke-width="0.5"/>
<text x="660.60" y="157.80" font-size="7.0" text-anchor="start" fill="#000" >0.0</text>
<line x1="641.3" x2="643.8" y1="172.6" y2="172.6" stroke="#fff" stroke-width="0.5"/><line x1="653.3" x2="655.8" y1="172.6" y2="172.6" stroke="#fff" stroke-width="0.5"/>
<text x="660.60" y="175.10" font-size="7.0" text-anchor="start" fill="#000" >-0.5</text>
<line x1="641.3" x2="643.8" y1="190" y2="190" stroke="#fff" stroke-width="0.5"/><line x1="653.3" x2="655.8" y1="190" y2="190" stroke="#fff" stroke-width="0.5"/>
<text x="660.60" y="192.50" font-size="7.0" text-anchor="start" fill="#000" >-1.0</text>
<path d="M438 434L467.5 448.7L497.1 473.5L502.9 466.5L472.5 441.3L442 426Z" fill="#e6eeef" stroke="#d0dcdd" stroke-width="0.7" stroke-linejoin="round"/><path d="M453.9 417.8L478.7 427.7L503.5 442.6L506.5 437.4L481.3 422.3L456.1 412.2Z" fill="#e3ecec" stroke="#cfdcdd" stroke-width="0.7" stroke-linejoin="round"/><path d="M450 420C452 423.3 457.3 434.7 462 440C466.7 445.3 473.3 450.7 478 452C482.7 453.3 486.3 450.3 490 448C493.7 445.7 498.3 439.7 500 438" fill="none" stroke="#a9c2c5" stroke-width="3.1" stroke-linecap="round" stroke-linejoin="round"/><path d="M450 420C452 423.3 457.3 434.7 462 440C466.7 445.3 473.3 450.7 478 452C482.7 453.3 486.3 450.3 490 448C493.7 445.7 498.3 439.7 500 438" fill="none" stroke="#d9e9ea" stroke-width="2.4" stroke-linecap="round" stroke-linejoin="round"/><path d="M470 520C471.7 517.5 476.3 508.7 480 505C483.7 501.3 487.8 498 492 498C496.2 498 502.8 503.8 505 505" fill="none" stroke="#a9c2c5" stroke-width="3.1" stroke-linecap="round" stroke-linejoin="round"/><path d="M470 520C471.7 517.5 476.3 508.7 480 505C483.7 501.3 487.8 498 492 498C496.2 498 502.8 503.8 505 505" fill="none" stroke="#d9e9ea" stroke-width="2.4" stroke-linecap="round" stroke-linejoin="round"/><path d="M392.5 503.7L422.4 523.6L447.2 543.5L452.8 536.5L427.6 516.4L397.5 496.3Z" fill="#dfeaeb" stroke="#c3d3d5" stroke-width="0.7" stroke-linejoin="round"/><path d="M427.4 551.7L455 571.4L474.7 593L481.3 587L461 564.6L432.6 544.3Z" fill="#d9e7e8" stroke="#bccfd2" stroke-width="0.7" stroke-linejoin="round"/><path d="M467.8 473.3L497.7 493.3L517.6 508.2L522.4 501.8L502.3 486.7L472.2 466.7Z" fill="#e2ecec" stroke="#c5d6d8" stroke-width="0.7" stroke-linejoin="round"/><path d="M465.1 475.4L513.7 483.3L549.8 496.1L581.7 512.4L601.9 535.6L610.1 528.4L588.3 503.6L554.2 485.9L516.3 472.7L466.9 464.6Z" fill="#ebb7de" stroke="#b07aa0" stroke-width="0.7" stroke-linejoin="round"/><path d="M476.2 497.2L517.7 512L553.1 531.7L576.2 547.7L573.4 551.8L592.4 552.3L585.3 534.6L582.5 538.7L558.9 522.3L522.3 502L479.8 486.8Z" fill="#f3c8e9" stroke="#b07aa0" stroke-width="0.7" stroke-linejoin="round"/><path d="M485.4 516.2L525.1 541.1L554.6 565.6L574.3 587.4L581.7 580.6L561.4 558.4L530.9 532.9L490.6 507.8Z" fill="#e2a6d1" stroke="#a36c92" stroke-width="0.7" stroke-linejoin="round"/><path d="M467.5 460L519.3 465.9L558.9 476.8L598.8 489.8L601.2 482.2L561.1 469.2L520.7 458.1L468.5 452Z" fill="#c98bb7" stroke="#9a5d84" stroke-width="0.7" stroke-linejoin="round"/><path d="M528.2 489.1L562.6 503.8L587.5 525.2L584.9 528.3L600.4 530.3L596 515.3L593.4 518.4L567.4 496.2L531.8 480.9Z" fill="#f6d0ec" stroke="#b07aa0" stroke-width="0.7" stroke-linejoin="round"/><path d="M546.3 450.2L567.4 456.8L574.5 462.7L571.4 466.5L590.4 468.3L584.5 450.2L581.4 454.1L572.6 447.2L549.7 439.8Z" fill="#e0a5cf" stroke="#9a5d84" stroke-width="0.7" stroke-linejoin="round"/><path d="M554.1 437.4L571.3 433.5L588.6 442L593.4 432L572.7 422.5L551.9 426.6Z" fill="#c78bb6" stroke="#9a5d84" stroke-width="0.7" stroke-linejoin="round"/><path d="M556 489.5L580 489.5L601 489.5L601 482.5L580 482.5L556 482.5Z" fill="#dfa3cd" stroke="#9a5d84" stroke-width="0.7" stroke-linejoin="round"/><path d="M592.8 440C593.7 441.2 594.6 445.2 598.1 447C601.6 448.8 610.1 448.2 613.9 450.6C617.7 453 620 457.6 620.9 461.1C621.8 464.6 621 468.5 619.2 471.7C617.5 474.9 613.3 479.3 610.4 480.5C607.5 481.7 603.1 480.2 601.6 478.7C600.1 477.2 600.1 473.4 601.6 471.7C603.1 469.9 607.2 468.2 610.4 468.2C613.6 468.2 618.3 469.6 620.9 471.7C623.5 473.8 625 477 626.2 480.5C627.4 484 628 488.4 628 492.8C628 497.2 626 503.4 626.2 506.9C626.4 510.4 628.5 512.8 629 514" fill="none" stroke="#9a5d84" stroke-width="3.4" stroke-linecap="round" stroke-linejoin="round"/><path d="M592.8 440C593.7 441.2 594.6 445.2 598.1 447C601.6 448.8 610.1 448.2 613.9 450.6C617.7 453 620 457.6 620.9 461.1C621.8 464.6 621 468.5 619.2 471.7C617.5 474.9 613.3 479.3 610.4 480.5C607.5 481.7 603.1 480.2 601.6 478.7C600.1 477.2 600.1 473.4 601.6 471.7C603.1 469.9 607.2 468.2 610.4 468.2C613.6 468.2 618.3 469.6 620.9 471.7C623.5 473.8 625 477 626.2 480.5C627.4 484 628 488.4 628 492.8C628 497.2 626 503.4 626.2 506.9C626.4 510.4 628.5 512.8 629 514" fill="none" stroke="#e8b6da" stroke-width="2.6" stroke-linecap="round" stroke-linejoin="round"/><path d="M642 535C640.8 536.5 637.9 542 635 543.8C632.1 545.6 627.4 546.5 624.5 545.6C621.6 544.7 619.2 542 617.4 538.5C615.6 535 615.6 527.4 613.9 524.5C612.1 521.6 609.5 519.8 606.9 521C604.3 522.2 600.1 527.4 598.1 531.5C596.1 535.6 594.6 540.9 594.6 545.6C594.6 550.4 596.5 555.1 598.1 560C599.7 564.9 603.7 570 604 575C604.3 580 600.7 587.5 600 590" fill="none" stroke="#9a5d84" stroke-width="3.4" stroke-linecap="round" stroke-linejoin="round"/><path d="M642 535C640.8 536.5 637.9 542 635 543.8C632.1 545.6 627.4 546.5 624.5 545.6C621.6 544.7 619.2 542 617.4 538.5C615.6 535 615.6 527.4 613.9 524.5C612.1 521.6 609.5 519.8 606.9 521C604.3 522.2 600.1 527.4 598.1 531.5C596.1 535.6 594.6 540.9 594.6 545.6C594.6 550.4 596.5 555.1 598.1 560C599.7 564.9 603.7 570 604 575C604.3 580 600.7 587.5 600 590" fill="none" stroke="#e8b6da" stroke-width="2.6" stroke-linecap="round" stroke-linejoin="round"/><path d="M568 560C569.5 562 574 568.5 577 572C580 575.5 582.8 577.7 585.7 581C588.6 584.3 593 587.6 594.5 591.7C596 595.8 595.1 601.7 594.5 605.8C593.9 609.9 593.4 613.7 591 616.3C588.6 618.9 584.2 621.3 580.4 621.6C576.6 621.9 572.2 619.5 568 617.9C563.8 616.3 557.2 613 555 612" fill="none" stroke="#9a5d84" stroke-width="3.4" stroke-linecap="round" stroke-linejoin="round"/><path d="M568 560C569.5 562 574 568.5 577 572C580 575.5 582.8 577.7 585.7 581C588.6 584.3 593 587.6 594.5 591.7C596 595.8 595.1 601.7 594.5 605.8C593.9 609.9 593.4 613.7 591 616.3C588.6 618.9 584.2 621.3 580.4 621.6C576.6 621.9 572.2 619.5 568 617.9C563.8 616.3 557.2 613 555 612" fill="none" stroke="#e8b6da" stroke-width="2.6" stroke-linecap="round" stroke-linejoin="round"/><path d="M612 560C609.7 562 602.5 569 598 572C593.5 575 587.2 577 585 578" fill="none" stroke="#9a5d84" stroke-width="3.4" stroke-linecap="round" stroke-linejoin="round"/><path d="M612 560C609.7 562 602.5 569 598 572C593.5 575 587.2 577 585 578" fill="none" stroke="#e8b6da" stroke-width="2.6" stroke-linecap="round" stroke-linejoin="round"/><path d="M585 560C582.5 558.7 574.2 554 570 552C565.8 550 561.7 548.7 560 548" fill="none" stroke="#9a5d84" stroke-width="3.4" stroke-linecap="round" stroke-linejoin="round"/><path d="M585 560C582.5 558.7 574.2 554 570 552C565.8 550 561.7 548.7 560 548" fill="none" stroke="#e8b6da" stroke-width="2.6" stroke-linecap="round" stroke-linejoin="round"/><path d="M530 600C532.5 601.7 540 605.8 545 610C550 614.2 555 622 560 625C565 628 572.5 627.5 575 628" fill="none" stroke="#9a5d84" stroke-width="3.4" stroke-linecap="round" stroke-linejoin="round"/><path d="M530 600C532.5 601.7 540 605.8 545 610C550 614.2 555 622 560 625C565 628 572.5 627.5 575 628" fill="none" stroke="#e8b6da" stroke-width="2.6" stroke-linecap="round" stroke-linejoin="round"/><path d="M622.9 512.5L630.7 522.3L631.9 524.3L628.8 526.2L641.3 532.4L641.9 518.5L638.8 520.3L637.3 517.7L629.1 507.5Z" fill="#dba0cb" stroke="#9a5d84" stroke-width="0.7" stroke-linejoin="round"/><path d="M565.6 549L569.6 565.9L573.6 588.8L582.4 587.2L578.4 564.1L574.4 547Z" fill="#d59ac4" stroke="#9a5d84" stroke-width="0.7" stroke-linejoin="round"/><path d="M580.8 546.3L586.7 561L590.6 578.8L597.4 577.2L593.3 559L587.2 543.7Z" fill="#e6b0d8" stroke="#9a5d84" stroke-width="0.7" stroke-linejoin="round"/><path d="M418 468C416.7 470.8 412.2 479.7 410 485C407.8 490.3 404.7 495.5 405 500C405.3 504.5 409.5 507.8 412 512C414.5 516.2 418.7 522.8 420 525" fill="none" stroke="#8c4a72" stroke-width="2.9" stroke-linecap="round" stroke-linejoin="round"/><path d="M418 468C416.7 470.8 412.2 479.7 410 485C407.8 490.3 404.7 495.5 405 500C405.3 504.5 409.5 507.8 412 512C414.5 516.2 418.7 522.8 420 525" fill="none" stroke="#c07aa3" stroke-width="2.2" stroke-linecap="round" stroke-linejoin="round"/><path d="M492 470C490.3 472.5 486 480 482 485C478 490 470.3 497.5 468 500" fill="none" stroke="#8c4a72" stroke-width="2.9" stroke-linecap="round" stroke-linejoin="round"/><path d="M492 470C490.3 472.5 486 480 482 485C478 490 470.3 497.5 468 500" fill="none" stroke="#c07aa3" stroke-width="2.2" stroke-linecap="round" stroke-linejoin="round"/><path d="M455 520C457.5 521.7 465 527.5 470 530C475 532.5 482.5 534.2 485 535" fill="none" stroke="#8c4a72" stroke-width="2.9" stroke-linecap="round" stroke-linejoin="round"/><path d="M455 520C457.5 521.7 465 527.5 470 530C475 532.5 482.5 534.2 485 535" fill="none" stroke="#c07aa3" stroke-width="2.2" stroke-linecap="round" stroke-linejoin="round"/><path d="M430 545C432.5 546.8 438.7 554.2 445 556C451.3 557.8 462.2 557.7 468 556C473.8 554.3 478 547.7 480 546" fill="none" stroke="#8c4a72" stroke-width="2.9" stroke-linecap="round" stroke-linejoin="round"/><path d="M430 545C432.5 546.8 438.7 554.2 445 556C451.3 557.8 462.2 557.7 468 556C473.8 554.3 478 547.7 480 546" fill="none" stroke="#c07aa3" stroke-width="2.2" stroke-linecap="round" stroke-linejoin="round"/><path d="M376.8 460.5L402.6 473.4L429.4 489.3L443.5 497.9L441.1 501.8L458.4 501.3L451.1 485.6L448.7 489.4L434.6 480.7L407.4 464.6L381.2 451.5Z" fill="#b4d9dc" stroke="#5d8389" stroke-width="0.7" stroke-linejoin="round"/><path d="M378.6 475.8L407.6 493.8L437.5 513.7L467.4 533.6L494.9 555.3L508.4 572.8L515.6 567.2L501.1 548.7L472.6 526.4L442.5 506.3L412.4 486.2L383.4 468.2Z" fill="#c9eaec" stroke="#5d8389" stroke-width="0.7" stroke-linejoin="round"/><path d="M390.5 470.6L418.5 486.6L448.4 505.5L451.6 500.5L421.5 481.4L393.5 465.4Z" fill="#a3c9cd" stroke="#5d8389" stroke-width="0.7" stroke-linejoin="round"/><path d="M449 494L478.9 515.9L504.4 538.5L511.5 547.9L508 550.6L524.3 556.4L523.1 539.1L519.5 541.8L511.6 531.5L485.1 508.1L455 486Z" fill="#bfe3e6" stroke="#5d8389" stroke-width="0.7" stroke-linejoin="round"/><path d="M458.8 538.8L484.5 560.6L495 572.7L491.6 575.7L508.3 580.4L506 563.2L502.6 566.2L491.5 553.4L465.2 531.2Z" fill="#d3f0f2" stroke="#5d8389" stroke-width="0.7" stroke-linejoin="round"/><path d="M422.4 528.1L452.2 552.8L471.8 577.4L484.6 597.2L491.4 592.8L478.2 572.6L457.8 547.2L427.6 521.9Z" fill="#b9dfe2" stroke="#5d8389" stroke-width="0.7" stroke-linejoin="round"/><path d="M438.2 587.4L458 602.2L467.7 613.9L472.3 610.1L462 597.8L441.8 582.6Z" fill="#c6e4e6" stroke="#5d8389" stroke-width="0.7" stroke-linejoin="round"/><path d="M406.5 429.9C405.6 430.3 403.7 431.6 401.4 432.1C399.1 432.6 395.8 432 392.6 432.8C389.4 433.6 384.8 435.2 382.3 437.2C379.9 439.1 378.4 441.8 377.9 444.5C377.4 447.2 378.4 451.1 379.4 453.3C380.4 455.5 383.1 457 383.8 457.7" fill="none" stroke="#5d8389" stroke-width="3.4" stroke-linecap="round" stroke-linejoin="round"/><path d="M406.5 429.9C405.6 430.3 403.7 431.6 401.4 432.1C399.1 432.6 395.8 432 392.6 432.8C389.4 433.6 384.8 435.2 382.3 437.2C379.9 439.1 378.4 441.8 377.9 444.5C377.4 447.2 378.4 451.1 379.4 453.3C380.4 455.5 383.1 457 383.8 457.7" fill="none" stroke="#cfeef0" stroke-width="2.6" stroke-linecap="round" stroke-linejoin="round"/><path d="M404 433C402.7 433.5 398.1 434.7 396 436C393.9 437.3 392.4 438.8 391.1 440.7C389.8 442.6 388.2 444.6 388.2 447.4C388.2 450.2 389.6 455.2 391.1 457.7C392.6 460.1 396 461.4 397 462.1" fill="none" stroke="#5d8389" stroke-width="3.4" stroke-linecap="round" stroke-linejoin="round"/><path d="M404 433C402.7 433.5 398.1 434.7 396 436C393.9 437.3 392.4 438.8 391.1 440.7C389.8 442.6 388.2 444.6 388.2 447.4C388.2 450.2 389.6 455.2 391.1 457.7C392.6 460.1 396 461.4 397 462.1" fill="none" stroke="#cfeef0" stroke-width="2.6" stroke-linecap="round" stroke-linejoin="round"/><path d="M423.4 402C423.1 403.7 421.6 409.1 421.9 412.3C422.1 415.5 423.2 419.2 424.9 421.1C426.6 423.1 431 423.5 432.2 424" fill="none" stroke="#5d8389" stroke-width="3.4" stroke-linecap="round" stroke-linejoin="round"/><path d="M423.4 402C423.1 403.7 421.6 409.1 421.9 412.3C422.1 415.5 423.2 419.2 424.9 421.1C426.6 423.1 431 423.5 432.2 424" fill="none" stroke="#cfeef0" stroke-width="2.6" stroke-linecap="round" stroke-linejoin="round"/><path d="M423.4 402C424.6 401.8 428 399.5 430.7 400.5C433.4 401.5 437.3 405.9 439.5 407.9C441.7 409.9 443.2 411.6 443.9 412.3" fill="none" stroke="#5d8389" stroke-width="3.4" stroke-linecap="round" stroke-linejoin="round"/><path d="M423.4 402C424.6 401.8 428 399.5 430.7 400.5C433.4 401.5 437.3 405.9 439.5 407.9C441.7 409.9 443.2 411.6 443.9 412.3" fill="none" stroke="#cfeef0" stroke-width="2.6" stroke-linecap="round" stroke-linejoin="round"/><path d="M402 500.8C400.7 501.7 396.2 503.8 394 506C391.8 508.2 390.2 511.3 388.8 514C387.4 516.7 386.4 519.5 385.9 522C385.4 524.5 385.5 527.4 386 528.7C386.5 530 387.6 531.7 389 530C390.4 528.3 392 521.1 394.7 518.4C397.4 515.7 400.8 513.4 405 514C409.2 514.6 415.5 518.5 420 522C424.5 525.5 430 532.8 432 535" fill="none" stroke="#5d8389" stroke-width="3.4" stroke-linecap="round" stroke-linejoin="round"/><path d="M402 500.8C400.7 501.7 396.2 503.8 394 506C391.8 508.2 390.2 511.3 388.8 514C387.4 516.7 386.4 519.5 385.9 522C385.4 524.5 385.5 527.4 386 528.7C386.5 530 387.6 531.7 389 530C390.4 528.3 392 521.1 394.7 518.4C397.4 515.7 400.8 513.4 405 514C409.2 514.6 415.5 518.5 420 522C424.5 525.5 430 532.8 432 535" fill="none" stroke="#cfeef0" stroke-width="2.6" stroke-linecap="round" stroke-linejoin="round"/><path d="M442.9 585.8C443.6 587.7 445.5 593.5 447 597C448.5 600.5 449.8 603.2 451.7 606.9C453.6 610.6 457 615.7 458.7 619.2C460.4 622.7 461.1 625.4 462 628C462.9 630.6 463.7 633.8 464 635" fill="none" stroke="#5d8389" stroke-width="3.4" stroke-linecap="round" stroke-linejoin="round"/><path d="M442.9 585.8C443.6 587.7 445.5 593.5 447 597C448.5 600.5 449.8 603.2 451.7 606.9C453.6 610.6 457 615.7 458.7 619.2C460.4 622.7 461.1 625.4 462 628C462.9 630.6 463.7 633.8 464 635" fill="none" stroke="#cfeef0" stroke-width="2.6" stroke-linecap="round" stroke-linejoin="round"/><path d="M556 592C557.1 592.5 559.9 594.1 562.8 595.2C565.7 596.3 570.4 596.9 573.3 598.7C576.2 600.5 578.3 602.9 580.4 605.8C582.5 608.7 583.7 614 585.7 616.3C587.8 618.6 589.8 619.5 592.7 619.8C595.6 620.1 601.2 617.8 603.3 618.1C605.3 618.4 605.5 620 605 621.6C604.5 623.2 601.3 626.7 600.6 627.7" fill="none" stroke="#5d8389" stroke-width="3.4" stroke-linecap="round" stroke-linejoin="round"/><path d="M556 592C557.1 592.5 559.9 594.1 562.8 595.2C565.7 596.3 570.4 596.9 573.3 598.7C576.2 600.5 578.3 602.9 580.4 605.8C582.5 608.7 583.7 614 585.7 616.3C587.8 618.6 589.8 619.5 592.7 619.8C595.6 620.1 601.2 617.8 603.3 618.1C605.3 618.4 605.5 620 605 621.6C604.5 623.2 601.3 626.7 600.6 627.7" fill="none" stroke="#cfeef0" stroke-width="2.6" stroke-linecap="round" stroke-linejoin="round"/><path d="M462 442C464.2 441.7 470.7 439.3 475 440C479.3 440.7 485.8 445 488 446" fill="none" stroke="#5d8389" stroke-width="3.4" stroke-linecap="round" stroke-linejoin="round"/><path d="M462 442C464.2 441.7 470.7 439.3 475 440C479.3 440.7 485.8 445 488 446" fill="none" stroke="#cfeef0" stroke-width="2.6" stroke-linecap="round" stroke-linejoin="round"/><path d="M470 458C472 457 478.3 454 482 452C485.7 450 490.3 447 492 446" fill="none" stroke="#5d8389" stroke-width="3.4" stroke-linecap="round" stroke-linejoin="round"/><path d="M470 458C472 457 478.3 454 482 452C485.7 450 490.3 447 492 446" fill="none" stroke="#cfeef0" stroke-width="2.6" stroke-linecap="round" stroke-linejoin="round"/><path d="M520 580C521.3 580.8 528 583 528 585C528 587 523 591.2 520 592C517 592.8 513.3 591.2 510 590C506.7 588.8 501.7 585.8 500 585" fill="none" stroke="#5d8389" stroke-width="3.4" stroke-linecap="round" stroke-linejoin="round"/><path d="M520 580C521.3 580.8 528 583 528 585C528 587 523 591.2 520 592C517 592.8 513.3 591.2 510 590C506.7 588.8 501.7 585.8 500 585" fill="none" stroke="#cfeef0" stroke-width="2.6" stroke-linecap="round" stroke-linejoin="round"/><defs><linearGradient id="hx" x1="0" y1="0" x2="1" y2="0"><stop offset="0" stop-color="#9cc5c9"/><stop offset="0.3" stop-color="#e2f7f8"/><stop offset="0.65" stop-color="#cbedef"/><stop offset="1" stop-color="#8fb9be"/></linearGradient></defs><path d="M448.9 385.1L449.4 384.5L450.1 384L450.9 383.6L451.9 383.4L453 383.3L454.3 383.4L455.6 383.6L457.1 383.9L458.6 384.4L460.2 385L461.8 385.7L463.5 386.6L465.1 387.6L466.8 388.7L468.4 389.9L470 391.2L471.6 392.6L473 394.1L474.4 395.7L475.6 397.3L476.8 399L477.8 400.6L478.7 402.3L479.4 404L479.9 405.7L480.3 407.4L480.5 409L480.5 410.5L480.4 412L480 413.4L479.5 414.8L478.8 416L473.5 424.4L474.2 423.2L474.7 421.9L475 420.5L475.2 419L475.1 417.4L474.9 415.8L474.6 414.1L474 412.5L473.3 410.8L472.4 409.1L471.4 407.4L470.3 405.7L469 404.1L467.7 402.6L466.2 401.1L464.7 399.7L463.1 398.4L461.4 397.1L459.8 396L458.1 395L456.5 394.2L454.8 393.4L453.2 392.8L451.7 392.3L450.3 392L448.9 391.8L447.7 391.8L446.5 391.9L445.6 392.1L444.7 392.4L444 392.9L443.5 393.5Z" fill="#9fc3c7" stroke="#678e93" stroke-width="0.6" stroke-linejoin="round"/><path d="M438.2 402L438.7 401.4L439.4 401L440.3 400.6L441.3 400.4L442.4 400.3L443.6 400.3L445 400.5L446.4 400.9L447.9 401.3L449.5 401.9L451.1 402.7L452.8 403.6L454.4 404.6L456.1 405.7L457.7 406.9L459.3 408.2L460.8 409.7L462.2 411.2L463.6 412.7L464.8 414.4L465.9 416L466.9 417.7L467.7 419.4L468.1 419.5L468.8 421.1L469.3 422.8L469.6 424.4L469.7 426L469.7 427.5L469.5 429L469 430.4L468.4 431.7L463.9 440.6L464.5 439.3L464.9 437.9L465.1 436.4L465.1 434.8L465 433.3L464.7 431.6L464.2 430L463.5 428.3L462.4 427.9L461.5 426.2L460.6 424.5L459.4 422.8L458.2 421.2L456.9 419.6L455.4 418.1L453.9 416.7L452.3 415.4L450.7 414.1L449.1 413L447.4 412L445.8 411.1L444.1 410.4L442.6 409.8L441 409.3L439.6 409L438.3 408.8L437 408.7L435.9 408.8L434.9 409L434.1 409.4L433.4 409.9L432.9 410.5Z" fill="#9fc3c7" stroke="#678e93" stroke-width="0.6" stroke-linejoin="round"/><path d="M426.7 422L427.2 421.3L427.8 420.8L428.6 420.4L429.6 420.1L430.7 419.9L431.9 419.8L433.2 419.9L434.7 420.1L436.2 420.4L437.8 420.9L439.5 421.5L441.2 422.2L442.9 423.1L444.7 424.1L446.4 425.2L448 426.4L449.7 427.7L451.2 429L452.7 430.5L454 432L455.3 433.6L456.4 435.3L457.3 436.9L458.1 438.6L458.8 440.3L459.3 441.9L459.6 443.6L459.7 445.2L459.6 446.8L459.4 448.3L458.9 449.7L458.3 451.1L453.7 460L454.4 458.6L454.8 457.2L455 455.7L455.1 454.1L455 452.5L454.7 450.8L454.2 449.2L453.6 447.5L452.7 445.8L451.8 444.1L450.7 442.5L449.4 440.9L448.1 439.4L446.6 437.9L445.1 436.5L443.5 435.2L441.8 434L440.1 433L438.4 432L436.6 431.1L434.9 430.4L433.3 429.8L431.6 429.3L430.1 429L428.7 428.8L427.3 428.7L426.1 428.8L425 428.9L424 429.3L423.2 429.7L422.6 430.2L422.1 430.9Z" fill="#9fc3c7" stroke="#678e93" stroke-width="0.6" stroke-linejoin="round"/><path d="M412 454L412 453.2L412.2 452.4L412.6 451.6L413.2 450.8L414 450L415 449.3L416.1 448.5L417.4 447.9L418.8 447.2L420.4 446.7L422.1 446.2L423.9 445.9L425.8 445.6L427.8 445.4L429.8 445.3L431.8 445.3L433.9 445.5L436 445.8L438 446.1L440 446.6L441.9 447.2L443.7 447.9L445.5 448.8L447.1 449.7L448.6 450.7L450 451.9L451.2 453.1L452.2 454.4L453.1 455.7L453.8 457.1L454.2 458.6L454.5 460.1L455.9 470L455.7 468.5L455.2 467L454.5 465.6L453.6 464.3L452.6 463L451.4 461.8L450 460.6L448.5 459.6L446.9 458.7L445.2 457.8L443.3 457.1L441.4 456.5L439.4 456L437.4 455.6L435.3 455.4L433.3 455.2L431.2 455.2L429.2 455.3L427.2 455.5L425.3 455.8L423.5 456.1L421.8 456.6L420.3 457.1L418.8 457.8L417.5 458.4L416.4 459.2L415.4 459.9L414.6 460.7L414 461.5L413.6 462.3L413.4 463.1L413.4 463.9Z" fill="#9fc3c7" stroke="#678e93" stroke-width="0.6" stroke-linejoin="round"/><path d="M415.5 477.7L415.5 476.9L415.7 476L416.1 475.2L416.7 474.4L417.5 473.6L418.4 472.9L419.6 472.2L420.9 471.5L422.3 470.9L423.9 470.4L425.6 469.9L427.4 469.5L429.2 469.3L431.2 469.1L433.2 469L435.2 469.1L437.3 469.3L439.3 469.6L441.4 470L443.3 470.5L445.3 471.1L447.1 471.9L448.8 472.7L450.5 473.7L452 474.8L453.3 475.9L453.5 475.9L454.6 477.2L455.6 478.5L456.4 479.9L457 481.4L457.4 482.9L459.6 492.7L459.2 491.1L458.6 489.7L457.8 488.3L456.8 486.9L455.7 485.7L454.7 485.8L453.4 484.7L451.9 483.6L450.3 482.6L448.5 481.8L446.7 481L444.8 480.4L442.8 479.9L440.8 479.5L438.7 479.2L436.7 479L434.6 478.9L432.6 479L430.7 479.2L428.8 479.4L427 479.8L425.3 480.3L423.7 480.8L422.3 481.4L421 482.1L419.9 482.8L418.9 483.5L418.1 484.3L417.5 485.1L417.1 485.9L416.9 486.8L416.9 487.5Z" fill="#9fc3c7" stroke="#678e93" stroke-width="0.6" stroke-linejoin="round"/><path d="M420.3 504.1L420.2 503.4L420.4 502.5L420.7 501.7L421.2 500.8L421.9 500L422.8 499.2L423.9 498.4L425.1 497.6L426.5 496.9L428 496.2L429.6 495.7L431.4 495.2L433.2 494.8L435.2 494.5L437.1 494.3L439.2 494.2L441.2 494.2L443.3 494.4L445.3 494.7L447.3 495.1L449.3 495.6L451.2 496.2L453 497L454.7 497.9L456.3 498.9L457.7 500L459 501.2L460.2 502.5L461.1 503.8L461.9 505.3L462.6 506.8L463 508.4L465.2 518.1L464.8 516.6L464.1 515L463.3 513.6L462.4 512.2L461.2 510.9L459.9 509.7L458.5 508.6L456.9 507.6L455.2 506.7L453.4 506L451.5 505.3L449.5 504.8L447.5 504.4L445.5 504.1L443.4 504L441.4 504L439.3 504L437.4 504.2L435.4 504.5L433.6 504.9L431.8 505.4L430.2 506L428.7 506.7L427.3 507.4L426.1 508.1L425 508.9L424.1 509.7L423.4 510.6L422.9 511.4L422.5 512.3L422.4 513.1L422.5 513.9Z" fill="#9fc3c7" stroke="#678e93" stroke-width="0.6" stroke-linejoin="round"/><path d="M426.3 530.8L426.2 530L426.3 529.2L426.7 528.3L427.2 527.5L427.8 526.6L428.7 525.8L429.7 524.9L430.9 524.2L432.3 523.4L433.8 522.8L435.4 522.2L437.1 521.6L439 521.2L440.9 520.9L442.9 520.7L444.9 520.6L446.9 520.6L449 520.7L451 521L453 521.4L455 521.9L456.9 522.5L458.7 523.3L460.4 524.2L462 525.2L463.5 526.3L464.9 527.5L466 528.8L467.1 530.2L467.9 531.7L468.6 533.2L469 534.8L471.5 544.6L471 542.9L470.3 541.4L469.5 539.9L468.5 538.5L467.3 537.2L466 536L464.5 534.9L462.9 533.9L461.1 533L459.3 532.2L457.4 531.6L455.5 531.1L453.4 530.7L451.4 530.4L449.3 530.3L447.3 530.3L445.3 530.4L443.3 530.6L441.4 530.9L439.6 531.4L437.8 531.9L436.2 532.5L434.7 533.1L433.4 533.9L432.2 534.6L431.1 535.5L430.3 536.3L429.6 537.2L429.1 538L428.8 538.9L428.6 539.7L428.7 540.5Z" fill="#9fc3c7" stroke="#678e93" stroke-width="0.6" stroke-linejoin="round"/><path d="M433.3 558.4L433.3 557.6L433.4 556.8L433.7 555.9L434.2 555L434.9 554.2L435.7 553.3L436.7 552.5L437.6 552.4L438.9 551.7L440.3 550.9L441.9 550.3L443.6 549.7L445.4 549.3L447.3 548.9L449.3 548.6L451.3 548.5L453.3 548.4L455.4 548.5L457.4 548.7L459.4 549.1L461.4 549.5L463.4 550.2L465.2 550.9L467 551.8L468.6 552.7L470.1 553.8L471.5 555.1L472.8 556.4L473.8 557.8L474.8 559.3L475.5 560.9L476.1 562.5L478.9 572.1L478.3 570.5L477.6 568.9L476.6 567.4L475.6 566L474.3 564.7L472.9 563.4L471.4 562.3L469.8 561.4L468 560.5L466.2 559.8L464.2 559.1L462.2 558.7L460.2 558.3L458.2 558.1L456.1 558L454.1 558.1L452.1 558.2L450.1 558.5L448.2 558.9L446.4 559.3L444.7 559.9L443.1 560.5L441.7 561.3L440.4 562L439.2 562.2L438.1 563L437.3 563.9L436.6 564.7L436.1 565.6L435.8 566.5L435.7 567.3L435.8 568.1Z" fill="#9fc3c7" stroke="#678e93" stroke-width="0.6" stroke-linejoin="round"/><path d="M482 404.3L480.3 404.6L478.6 404.8L476.7 404.8L474.8 404.7L472.8 404.5L470.9 404.1L468.9 403.6L466.9 403L464.9 402.3L463 401.5L461.1 400.6L459.3 399.6L457.6 398.6L456 397.5L454.6 396.3L453.2 395.2L452 394L451 392.8L450.1 391.7L449.4 390.5L448.9 389.5L448.5 388.4L448.3 387.4L448.3 386.6L448.5 385.8L448.9 385.1L443.5 393.5L443.2 394.2L443 395L443 395.9L443.2 396.9L443.5 397.9L444 399L444.8 400.1L445.6 401.3L446.7 402.5L447.9 403.6L449.2 404.8L450.7 405.9L452.3 407L454 408.1L455.8 409L457.6 409.9L459.6 410.7L461.5 411.5L463.5 412.1L465.5 412.6L467.5 412.9L469.4 413.2L471.4 413.3L473.2 413.2L475 413.1L476.6 412.7Z" fill="url(#hx)" stroke="#678e93" stroke-width="0.6" stroke-linejoin="round"/><path d="M478.8 416L478 417.1L476.9 418.1L475.8 419L474.4 419.8L473 420.4L471.4 420.9L469.7 421.2L467.9 421.4L466.1 421.5L464.2 421.4L462.2 421.2L460.2 420.9L458.2 420.4L456.2 419.8L454.2 419.1L452.3 418.3L450.5 417.4L448.7 416.5L447 415.5L445.4 414.4L443.9 413.3L442.6 412.1L441.4 410.9L440.3 409.8L439.5 408.6L438.8 407.5L438.2 406.4L437.9 405.4L437.7 404.4L437.7 403.5L437.9 402.7L438.2 402L432.9 410.5L432.5 411.2L432.3 412L432.3 412.9L432.5 413.8L432.9 414.9L433.4 416L434.1 417.1L435 418.2L436 419.4L437.2 420.6L438.6 421.7L440 422.8L441.6 423.9L443.3 424.9L445.1 425.9L447 426.8L448.9 427.6L450.9 428.3L452.9 428.8L454.9 429.3L456.8 429.6L458.8 429.8L460.7 429.9L462.6 429.9L464.4 429.7L466.1 429.3L467.6 428.8L469.1 428.2L470.4 427.5L471.6 426.6L472.6 425.6L473.5 424.4Z" fill="url(#hx)" stroke="#678e93" stroke-width="0.6" stroke-linejoin="round"/><path d="M468.4 431.7L467.7 432.9L466.7 434L465.6 435.1L464.4 436L462.9 436.7L461.4 437.4L459.7 437.9L458 438.3L456.1 438.6L454.2 438.7L452.2 438.7L450.2 438.6L448.2 438.3L446.1 437.9L444.1 437.4L442.1 436.8L440.2 436.1L438.3 435.4L436.5 434.5L434.9 433.6L433.3 432.6L431.9 431.6L430.6 430.6L429.5 429.5L428.5 428.4L427.7 427.4L427.1 426.4L426.6 425.4L426.4 424.4L426.3 423.5L426.4 422.7L426.7 422L422.1 430.9L421.8 431.6L421.7 432.4L421.8 433.3L422 434.2L422.5 435.2L423.1 436.3L423.9 437.3L424.9 438.4L426 439.4L427.3 440.5L428.7 441.5L430.3 442.5L432 443.4L433.7 444.3L435.6 445L437.5 445.7L439.5 446.3L441.5 446.8L443.6 447.2L445.6 447.4L447.6 447.6L449.6 447.6L451.5 447.5L453.4 447.2L455.2 446.8L456.8 446.3L458.4 445.6L459.8 444.9L461 444L462.1 442.9L463.1 441.8L463.9 440.6Z" fill="url(#hx)" stroke="#678e93" stroke-width="0.6" stroke-linejoin="round"/><path d="M458.3 451.1L457.5 452.3L456.6 453.5L455.4 454.6L454.2 455.5L452.7 456.3L451.2 457L449.5 457.6L447.7 458L445.9 458.3L443.9 458.4L442 458.5L439.9 458.4L437.9 458.1L435.9 457.8L433.8 457.3L431.8 456.8L429.9 456.1L428 455.3L426.3 454.5L424.6 453.6L423 452.6L421.6 451.6L420.3 450.6L419.2 449.5L418.2 448.5L417.4 447.4L416.8 446.4L416.4 445.4L413.1 456.2L412.6 455.5L412.2 454.8L412 454L413.4 463.9L413.6 464.7L414 465.4L414.6 466.1L411.8 454.3L412.2 455.3L412.8 456.3L413.6 457.4L414.6 458.4L415.7 459.5L417 460.5L418.5 461.5L420 462.5L421.7 463.4L423.5 464.2L425.3 465L427.3 465.6L429.2 466.2L431.3 466.7L433.3 467L435.3 467.3L437.4 467.4L439.4 467.3L441.3 467.2L443.2 466.9L444.9 466.5L446.6 465.9L448.2 465.2L449.6 464.4L450.9 463.5L452 462.4L452.9 461.2L453.7 460Z" fill="url(#hx)" stroke="#678e93" stroke-width="0.6" stroke-linejoin="round"/><path d="M454.5 460.1L454.6 461.6L454.5 463.2L454.2 464.7L453.7 466.3L453.1 467.8L452.2 469.3L451.2 470.8L450 472.2L448.7 473.5L447.2 474.8L445.6 476L443.9 477.1L442.1 478.2L440.3 479.1L438.4 479.9L436.4 480.6L434.5 481.2L432.5 481.7L430.6 482.1L428.7 482.3L426.9 482.4L425.2 482.5L423.6 482.4L422 482.2L420.7 481.9L419.4 481.5L418.3 481L417.4 480.4L416.6 479.8L416.1 479.1L415.7 478.4L415.5 477.7L416.9 487.5L417.1 488.3L417.5 489L418 489.7L418.8 490.3L419.7 490.9L420.8 491.4L422.1 491.8L423.5 492.1L425 492.3L426.6 492.4L428.3 492.3L430.2 492.2L432 492L434 491.6L435.9 491.1L437.8 490.5L439.8 489.8L441.7 489L443.5 488.1L445.3 487L447 485.9L448.6 484.7L450.1 483.4L451.4 482.1L452.6 480.7L453.6 479.2L454.5 477.7L455.1 476.2L455.6 474.6L455.9 473.1L456 471.5L455.9 470Z" fill="url(#hx)" stroke="#678e93" stroke-width="0.6" stroke-linejoin="round"/><path d="M457.4 482.9L457.6 484.5L457.6 486.1L457.5 487.7L457.1 489.3L456.6 490.9L455.9 492.5L455 494.1L453.9 495.7L452.7 497.1L451.4 498.6L449.9 499.9L448.3 501.2L446.7 502.4L444.9 503.5L443.1 504.5L441.2 505.4L439.3 506.1L437.5 506.8L435.6 507.3L433.8 507.7L432 508L430.3 508.1L428.6 508.2L427.1 508.1L425.7 507.9L424.4 507.7L423.3 507.3L422.4 506.8L421.6 506.2L420.9 505.6L420.5 504.9L420.3 504.1L422.5 513.9L422.7 514.7L423.1 515.4L423.8 516L424.6 516.5L425.5 517L426.6 517.4L427.9 517.7L429.3 517.9L430.8 517.9L432.5 517.9L434.2 517.7L436 517.5L437.8 517.1L439.7 516.5L441.5 515.9L443.4 515.1L445.3 514.2L447.1 513.2L448.8 512.1L450.5 511L452.1 509.7L453.6 508.3L454.9 506.9L456.1 505.4L457.2 503.9L458.1 502.3L458.8 500.7L459.3 499.1L459.7 497.4L459.8 495.8L459.8 494.2L459.6 492.7Z" fill="url(#hx)" stroke="#678e93" stroke-width="0.6" stroke-linejoin="round"/><path d="M463 508.4L463.2 510L463.3 511.6L463.1 513.3L462.8 515L462.3 516.6L461.6 518.3L460.7 519.9L459.7 521.5L458.5 523L457.1 524.5L455.7 525.9L454.1 527.2L452.5 528.4L450.7 529.5L448.9 530.5L447.1 531.4L445.2 532.2L443.4 532.9L441.5 533.4L439.7 533.8L437.9 534.1L436.2 534.3L434.6 534.3L433.1 534.3L431.7 534.1L430.4 533.8L429.3 533.4L428.4 533L427.6 532.4L427 532.2L426.6 531.5L426.3 530.8L428.7 540.5L429 541.2L429.4 541.9L429.8 542.1L430.6 542.7L431.5 543.2L432.6 543.6L433.9 543.9L435.3 544L436.8 544.1L438.4 544.1L440.1 543.9L441.9 543.6L443.7 543.2L445.6 542.6L447.4 542L449.3 541.2L451.1 540.3L452.9 539.3L454.7 538.1L456.3 536.9L457.9 535.6L459.3 534.2L460.7 532.8L461.8 531.2L462.9 529.6L463.8 528L464.5 526.4L465 524.7L465.3 523L465.5 521.4L465.4 519.7L465.2 518.1Z" fill="url(#hx)" stroke="#678e93" stroke-width="0.6" stroke-linejoin="round"/><path d="M469 534.8L469.3 536.5L469.4 538.2L469.3 539.9L469.1 541.6L468.6 543.4L468 545.1L467.1 546.8L466.2 548.4L465 550L463.8 551.5L462.4 553L460.8 554.4L459.2 555.7L457.5 556.8L455.8 557.9L454 558.9L452.2 559.7L450.3 560.5L448.5 561.1L446.7 561.5L445 561.9L443.3 562.1L441.7 562.2L440.2 562.2L438.8 562L437.6 561.8L436.4 561.4L435.5 561L434.7 560.4L434 559.8L433.6 559.1L433.3 558.4L435.8 568.1L436 568.8L436.5 569.5L437.1 570.1L437.9 570.7L438.9 571.1L440 571.5L441.2 571.7L442.6 571.9L444.1 571.9L445.7 571.8L447.4 571.6L449.1 571.2L450.9 570.8L452.8 570.2L454.6 569.4L456.4 568.6L458.2 567.6L460 566.5L461.7 565.4L463.3 564.1L464.8 562.7L466.2 561.2L467.5 559.7L468.6 558.1L469.6 556.5L470.4 554.8L471 553.1L471.5 551.3L471.8 549.6L471.9 547.9L471.8 546.2L471.5 544.6Z" fill="url(#hx)" stroke="#678e93" stroke-width="0.6" stroke-linejoin="round"/><path d="M476.1 562.5L476.4 564.2L476.6 565.9L476.6 567.7L476.4 569.5L476 571.3L475.5 573.1L474.7 574.8L473.8 576.6L472.8 578.2L471.6 579.9L470.3 581.4L468.9 582.9L467.3 584.3L465.7 585.5L464 586.7L462.3 587.8L460.5 588.7L458.7 589.5L457 590.2L455.2 590.8L453.5 591.2L451.8 591.5L450.2 591.7L448.8 591.7L447.4 591.6L446.1 591.4L445 591.1L444 590.7L446.8 600.3L447.8 600.7L448.9 601L450.2 601.2L451.6 601.3L453 601.3L454.6 601.1L456.3 600.8L458 600.4L459.8 599.8L461.5 599.1L463.3 598.3L465.1 597.4L466.8 596.3L468.5 595.1L470.1 593.9L471.7 592.5L473.1 591L474.4 589.5L475.6 587.8L476.6 586.2L477.5 584.4L478.3 582.7L478.8 580.9L479.2 579.1L479.4 577.3L479.4 575.5L479.2 573.8L478.9 572.1Z" fill="url(#hx)" stroke="#678e93" stroke-width="0.6" stroke-linejoin="round"/><path d="M468.8 377L479.1 369.7L486.4 375.5L495.9 374.8L502.5 378.5L504 384.3L501.8 390.2L504 396.1L501.1 401.9L499.6 406.3L501.8 412.2L499.6 416.6L497.4 422.4L492.3 427.6L493.7 432.7L493 441.5L495.2 448.8L496.7 456.1L490.8 459.1L489.3 467.9L485.7 476.7L480.5 482.5L474.7 477.4L470.3 478.1L465.9 484L462.2 478.9M473.2 369.7L479.1 369.7M482 374.1L482.7 380.7M502.5 378.5L508.4 371.9M504 384.3L510.6 386.5L507.7 393.1L510.6 401.9M499.6 413.6L502.5 412.2L509.9 412.9L509.1 419.5L504 423.9L499.6 421M497.4 422.4L486.4 422.4L476.1 418M486.4 422.4L491.5 418.8M493.7 406.3L499.6 406.3M496.7 456.1L506.9 459.1L511.3 451.7L512.8 450.3M506.9 459.1L517.2 466.4L506.9 469.3L502.5 476.7L499.6 484L498.9 492.8L504 498.7L506.9 507.4L504 516.2L493.7 519.2L487.9 514.8L489.3 507.4M493.7 519.2L483.5 516.2L477.6 517.7M506.9 507.4L515.7 511.8M504 516.2L509.9 523.6L514.3 519.2L520.1 522.1L524.5 530.9L518.7 536.8L512.8 533.8L509.9 525M498.9 492.8L493.7 497.2M518.7 536.8L515 540L516.8 547L511.5 554.1L516.8 561.1L511.5 568.2L504.5 569.9L502.7 573.4" fill="none" stroke="#a89a00" stroke-width="3.6" stroke-linecap="round" stroke-linejoin="round"/><path d="M468.8 377L479.1 369.7L486.4 375.5L495.9 374.8L502.5 378.5L504 384.3L501.8 390.2L504 396.1L501.1 401.9L499.6 406.3L501.8 412.2L499.6 416.6L497.4 422.4L492.3 427.6L493.7 432.7L493 441.5L495.2 448.8L496.7 456.1L490.8 459.1L489.3 467.9L485.7 476.7L480.5 482.5L474.7 477.4L470.3 478.1L465.9 484L462.2 478.9M473.2 369.7L479.1 369.7M482 374.1L482.7 380.7M502.5 378.5L508.4 371.9M504 384.3L510.6 386.5L507.7 393.1L510.6 401.9M499.6 413.6L502.5 412.2L509.9 412.9L509.1 419.5L504 423.9L499.6 421M497.4 422.4L486.4 422.4L476.1 418M486.4 422.4L491.5 418.8M493.7 406.3L499.6 406.3M496.7 456.1L506.9 459.1L511.3 451.7L512.8 450.3M506.9 459.1L517.2 466.4L506.9 469.3L502.5 476.7L499.6 484L498.9 492.8L504 498.7L506.9 507.4L504 516.2L493.7 519.2L487.9 514.8L489.3 507.4M493.7 519.2L483.5 516.2L477.6 517.7M506.9 507.4L515.7 511.8M504 516.2L509.9 523.6L514.3 519.2L520.1 522.1L524.5 530.9L518.7 536.8L512.8 533.8L509.9 525M498.9 492.8L493.7 497.2M518.7 536.8L515 540L516.8 547L511.5 554.1L516.8 561.1L511.5 568.2L504.5 569.9L502.7 573.4" fill="none" stroke="#f0e41c" stroke-width="2.8" stroke-linecap="round" stroke-linejoin="round"/><path d="M468.8 377L479.1 369.7L486.4 375.5L495.9 374.8L502.5 378.5L504 384.3L501.8 390.2L504 396.1L501.1 401.9L499.6 406.3L501.8 412.2L499.6 416.6L497.4 422.4L492.3 427.6L493.7 432.7L493 441.5L495.2 448.8L496.7 456.1L490.8 459.1L489.3 467.9L485.7 476.7L480.5 482.5L474.7 477.4L470.3 478.1L465.9 484L462.2 478.9M473.2 369.7L479.1 369.7M482 374.1L482.7 380.7M502.5 378.5L508.4 371.9M504 384.3L510.6 386.5L507.7 393.1L510.6 401.9M499.6 413.6L502.5 412.2L509.9 412.9L509.1 419.5L504 423.9L499.6 421M497.4 422.4L486.4 422.4L476.1 418M486.4 422.4L491.5 418.8M493.7 406.3L499.6 406.3M496.7 456.1L506.9 459.1L511.3 451.7L512.8 450.3M506.9 459.1L517.2 466.4L506.9 469.3L502.5 476.7L499.6 484L498.9 492.8L504 498.7L506.9 507.4L504 516.2L493.7 519.2L487.9 514.8L489.3 507.4M493.7 519.2L483.5 516.2L477.6 517.7M506.9 507.4L515.7 511.8M504 516.2L509.9 523.6L514.3 519.2L520.1 522.1L524.5 530.9L518.7 536.8L512.8 533.8L509.9 525M498.9 492.8L493.7 497.2M518.7 536.8L515 540L516.8 547L511.5 554.1L516.8 561.1L511.5 568.2L504.5 569.9L502.7 573.4" fill="none" stroke="#ffff90" stroke-width="0.98" stroke-linecap="round" stroke-linejoin="round" opacity="0.6"/><path d="M503.6 369.1L507.4 375.3L513.1 379.1L520.7 373.3L527.4 376.2L531.2 382.9L537.9 385.7L540.8 381.9L549.3 382.9L552.2 375.3L554.6 367.6M552.2 375.3L548.4 380M527.4 376.2L526.5 383.8L522.6 391.5L517.9 398.1L512.2 396.2L504.5 396.2L497.9 388.6L495 388.6M495 388.6L494 394L497 400L495.5 405M517.9 398.1L519.8 404.8L518.8 413.4L512.2 418.2L510.3 425M522.6 391.5L528.4 392.4L535 396.2L546.5 393.4L550.3 398.1L556 398.1L560 403.9M540.8 381.9L536.9 390.5L534.1 400L536 408.6L533.1 413.4L531.2 425M534.1 400L527.4 403.9L520.7 401M536 408.6L539.8 413.4L548.4 417.2L557 416.2L560 417.2M515 391L517 394.5M535 402L538 407L539 412M505.5 427.6L514.1 426.7L519.8 428.6L528.4 426.7L531.2 422.9L535 420M512.2 420L513.1 425.7L515 429.5M528.4 426.7L533.1 432.4L536 439.1L535 446.7M522.6 441L523.6 435.3L528.4 433.3L533.1 435.3L535 446.7L528.4 448.6L522.6 442.9M535 446.7L544.6 452.4L552.2 448.6L559.8 450.5M544.6 452.4L544.6 461L540.8 467.7M544.6 461L550.3 464.8L554.1 468.6L557 465.8M550.3 464.8L548.4 473.4L545.5 476.2M548.4 420L554.1 424.8L556 429.5L552.2 434.3M532 420L536 426L537 435M550 382.9L554.4 367.5M552.9 419.5L555.9 428.3L564.7 431.2L569.8 426.1L576.4 431.2L579.3 434.2L588.1 438.6L594 435.6M588.1 438.6L585.2 446.6M555.9 428.3L551.5 434.2M564.7 431.2L566.1 443L558.8 448.8L550 448.8M521.6 440L524.5 445.9L533.3 447.3L539.2 453.2L543.6 448.8L550.9 450.3L556.8 447.3L566.4 445.3L568.2 440M539.2 453.2L545 456.1L545 463.5L540.6 467.9L546.5 470.8L550.9 467.9L553.8 472.3L556.8 481.1L553.8 484L548 486.9L542.1 488.4L536.2 491.3L530.4 489.9L518.7 489.9M542.1 488.4L545 495.7L542.1 501.6L548 504.5L553.8 501.6L560 506M536.2 507.4L539.2 517.7L536.2 522.1L528.9 523.6L527.4 530.9L533.3 535.3L539.2 533.8L545 528L550.9 522.1L556.8 519.2M539.2 533.8L542.1 540M547 466.4L554.1 475.2L562.9 471.7L569.9 475.2L578.7 469.9L585.8 466.4L592.8 462M585.8 466.4L587.5 473M562.9 471.7L566.4 487.5M540 459.4L547 466.4M550.6 499.8L557.6 503.3L568.2 506.9L569.9 512.1L561.1 517.4L552.3 517.4L543.5 520.9M561.1 517.4L563 524M543.5 520.9L545.3 538.5L555.8 540.3L564.6 538.5L575.2 540.3L584 536.8L592.8 538.5L599.8 543.8M528.2 521.7L535.2 517L544.6 521.7L543.4 532.3L536.4 531.1L529.3 525.2M544.6 521.7L552.8 517L561 518.2L565.7 513.5L570.4 511.2M543.4 532.3L543.4 537L550.4 541.7L558.7 539.3L565.7 544L572.7 539.3L578.6 539.3M565.7 544L568 549.9L570.4 556.9M550.4 541.7L550.4 547.5L544.6 551.1L542.2 554.6L546.9 555.7L554 554.6L558.7 551.1L556.3 545.2M517.6 545.2L523.5 549.9L532.8 556.9L538.7 559.3L542.2 554.6M538.7 559.3L539.9 568.7L537.5 575.7M539.9 568.7L546.9 566.3L551.6 571L558.7 569.9L564.5 571M551.6 571L553 580L548 584L542 586L540 592M513.5 593.4L522.3 589L529.4 597L536.4 595.2L545.2 586.4L552.2 588.2L562.8 586.4L571.6 581.1L582.1 577.6L583.9 570.6M582.1 577.6L583.9 583.8M517.9 582.9L522.3 589M536.4 595.2L534.6 604L547 607.5L552.2 612.8L562.8 611L571.6 600.5M562.8 611L568 618M552.2 612.8L552.2 621.6L554 630.4L547 635.7L538.2 633.9L525.8 626.9L520.6 619.8L510 616.3L502.7 615.7L490.4 617.4M554 630.4L557.5 639.2L566.3 642.7M557.5 639.2L561 651.5M547 635.7L543.4 644.5L548.7 655L541.7 656.8L536.4 663.8L540 672.6L538.2 678M527.6 637.4L517 641M522 589.3L532.6 598.1L539.7 592.8M516.8 582.2L522 589.3L513 594.5M518.5 614.8L522.1 622.7L525.6 628L534.4 626.2M530 640L540 645L550 648M525.8 626.9L530 632L538.2 633.9M521 626.4L530.4 628.8L542 631L553.7 628.8L558.4 638.1L563 649.8L570 642.8M523.4 635.8L535 642.8L546.7 640.5L556 640.5M532.7 645.1L539.7 654.5L544.4 656.8L549 649.8L558.4 642.8M542 654.5L537.4 666.2L539.7 677.9L544.4 673.2M516.4 638.1L528 635.8M553.7 628.8L551.4 617.1L558.4 610L567.8 617.1M560 645L566 652L562 658" fill="none" stroke="#0c980c" stroke-width="3.6" stroke-linecap="round" stroke-linejoin="round"/><path d="M503.6 369.1L507.4 375.3L513.1 379.1L520.7 373.3L527.4 376.2L531.2 382.9L537.9 385.7L540.8 381.9L549.3 382.9L552.2 375.3L554.6 367.6M552.2 375.3L548.4 380M527.4 376.2L526.5 383.8L522.6 391.5L517.9 398.1L512.2 396.2L504.5 396.2L497.9 388.6L495 388.6M495 388.6L494 394L497 400L495.5 405M517.9 398.1L519.8 404.8L518.8 413.4L512.2 418.2L510.3 425M522.6 391.5L528.4 392.4L535 396.2L546.5 393.4L550.3 398.1L556 398.1L560 403.9M540.8 381.9L536.9 390.5L534.1 400L536 408.6L533.1 413.4L531.2 425M534.1 400L527.4 403.9L520.7 401M536 408.6L539.8 413.4L548.4 417.2L557 416.2L560 417.2M515 391L517 394.5M535 402L538 407L539 412M505.5 427.6L514.1 426.7L519.8 428.6L528.4 426.7L531.2 422.9L535 420M512.2 420L513.1 425.7L515 429.5M528.4 426.7L533.1 432.4L536 439.1L535 446.7M522.6 441L523.6 435.3L528.4 433.3L533.1 435.3L535 446.7L528.4 448.6L522.6 442.9M535 446.7L544.6 452.4L552.2 448.6L559.8 450.5M544.6 452.4L544.6 461L540.8 467.7M544.6 461L550.3 464.8L554.1 468.6L557 465.8M550.3 464.8L548.4 473.4L545.5 476.2M548.4 420L554.1 424.8L556 429.5L552.2 434.3M532 420L536 426L537 435M550 382.9L554.4 367.5M552.9 419.5L555.9 428.3L564.7 431.2L569.8 426.1L576.4 431.2L579.3 434.2L588.1 438.6L594 435.6M588.1 438.6L585.2 446.6M555.9 428.3L551.5 434.2M564.7 431.2L566.1 443L558.8 448.8L550 448.8M521.6 440L524.5 445.9L533.3 447.3L539.2 453.2L543.6 448.8L550.9 450.3L556.8 447.3L566.4 445.3L568.2 440M539.2 453.2L545 456.1L545 463.5L540.6 467.9L546.5 470.8L550.9 467.9L553.8 472.3L556.8 481.1L553.8 484L548 486.9L542.1 488.4L536.2 491.3L530.4 489.9L518.7 489.9M542.1 488.4L545 495.7L542.1 501.6L548 504.5L553.8 501.6L560 506M536.2 507.4L539.2 517.7L536.2 522.1L528.9 523.6L527.4 530.9L533.3 535.3L539.2 533.8L545 528L550.9 522.1L556.8 519.2M539.2 533.8L542.1 540M547 466.4L554.1 475.2L562.9 471.7L569.9 475.2L578.7 469.9L585.8 466.4L592.8 462M585.8 466.4L587.5 473M562.9 471.7L566.4 487.5M540 459.4L547 466.4M550.6 499.8L557.6 503.3L568.2 506.9L569.9 512.1L561.1 517.4L552.3 517.4L543.5 520.9M561.1 517.4L563 524M543.5 520.9L545.3 538.5L555.8 540.3L564.6 538.5L575.2 540.3L584 536.8L592.8 538.5L599.8 543.8M528.2 521.7L535.2 517L544.6 521.7L543.4 532.3L536.4 531.1L529.3 525.2M544.6 521.7L552.8 517L561 518.2L565.7 513.5L570.4 511.2M543.4 532.3L543.4 537L550.4 541.7L558.7 539.3L565.7 544L572.7 539.3L578.6 539.3M565.7 544L568 549.9L570.4 556.9M550.4 541.7L550.4 547.5L544.6 551.1L542.2 554.6L546.9 555.7L554 554.6L558.7 551.1L556.3 545.2M517.6 545.2L523.5 549.9L532.8 556.9L538.7 559.3L542.2 554.6M538.7 559.3L539.9 568.7L537.5 575.7M539.9 568.7L546.9 566.3L551.6 571L558.7 569.9L564.5 571M551.6 571L553 580L548 584L542 586L540 592M513.5 593.4L522.3 589L529.4 597L536.4 595.2L545.2 586.4L552.2 588.2L562.8 586.4L571.6 581.1L582.1 577.6L583.9 570.6M582.1 577.6L583.9 583.8M517.9 582.9L522.3 589M536.4 595.2L534.6 604L547 607.5L552.2 612.8L562.8 611L571.6 600.5M562.8 611L568 618M552.2 612.8L552.2 621.6L554 630.4L547 635.7L538.2 633.9L525.8 626.9L520.6 619.8L510 616.3L502.7 615.7L490.4 617.4M554 630.4L557.5 639.2L566.3 642.7M557.5 639.2L561 651.5M547 635.7L543.4 644.5L548.7 655L541.7 656.8L536.4 663.8L540 672.6L538.2 678M527.6 637.4L517 641M522 589.3L532.6 598.1L539.7 592.8M516.8 582.2L522 589.3L513 594.5M518.5 614.8L522.1 622.7L525.6 628L534.4 626.2M530 640L540 645L550 648M525.8 626.9L530 632L538.2 633.9M521 626.4L530.4 628.8L542 631L553.7 628.8L558.4 638.1L563 649.8L570 642.8M523.4 635.8L535 642.8L546.7 640.5L556 640.5M532.7 645.1L539.7 654.5L544.4 656.8L549 649.8L558.4 642.8M542 654.5L537.4 666.2L539.7 677.9L544.4 673.2M516.4 638.1L528 635.8M553.7 628.8L551.4 617.1L558.4 610L567.8 617.1M560 645L566 652L562 658" fill="none" stroke="#22e022" stroke-width="2.8" stroke-linecap="round" stroke-linejoin="round"/><path d="M503.6 369.1L507.4 375.3L513.1 379.1L520.7 373.3L527.4 376.2L531.2 382.9L537.9 385.7L540.8 381.9L549.3 382.9L552.2 375.3L554.6 367.6M552.2 375.3L548.4 380M527.4 376.2L526.5 383.8L522.6 391.5L517.9 398.1L512.2 396.2L504.5 396.2L497.9 388.6L495 388.6M495 388.6L494 394L497 400L495.5 405M517.9 398.1L519.8 404.8L518.8 413.4L512.2 418.2L510.3 425M522.6 391.5L528.4 392.4L535 396.2L546.5 393.4L550.3 398.1L556 398.1L560 403.9M540.8 381.9L536.9 390.5L534.1 400L536 408.6L533.1 413.4L531.2 425M534.1 400L527.4 403.9L520.7 401M536 408.6L539.8 413.4L548.4 417.2L557 416.2L560 417.2M515 391L517 394.5M535 402L538 407L539 412M505.5 427.6L514.1 426.7L519.8 428.6L528.4 426.7L531.2 422.9L535 420M512.2 420L513.1 425.7L515 429.5M528.4 426.7L533.1 432.4L536 439.1L535 446.7M522.6 441L523.6 435.3L528.4 433.3L533.1 435.3L535 446.7L528.4 448.6L522.6 442.9M535 446.7L544.6 452.4L552.2 448.6L559.8 450.5M544.6 452.4L544.6 461L540.8 467.7M544.6 461L550.3 464.8L554.1 468.6L557 465.8M550.3 464.8L548.4 473.4L545.5 476.2M548.4 420L554.1 424.8L556 429.5L552.2 434.3M532 420L536 426L537 435M550 382.9L554.4 367.5M552.9 419.5L555.9 428.3L564.7 431.2L569.8 426.1L576.4 431.2L579.3 434.2L588.1 438.6L594 435.6M588.1 438.6L585.2 446.6M555.9 428.3L551.5 434.2M564.7 431.2L566.1 443L558.8 448.8L550 448.8M521.6 440L524.5 445.9L533.3 447.3L539.2 453.2L543.6 448.8L550.9 450.3L556.8 447.3L566.4 445.3L568.2 440M539.2 453.2L545 456.1L545 463.5L540.6 467.9L546.5 470.8L550.9 467.9L553.8 472.3L556.8 481.1L553.8 484L548 486.9L542.1 488.4L536.2 491.3L530.4 489.9L518.7 489.9M542.1 488.4L545 495.7L542.1 501.6L548 504.5L553.8 501.6L560 506M536.2 507.4L539.2 517.7L536.2 522.1L528.9 523.6L527.4 530.9L533.3 535.3L539.2 533.8L545 528L550.9 522.1L556.8 519.2M539.2 533.8L542.1 540M547 466.4L554.1 475.2L562.9 471.7L569.9 475.2L578.7 469.9L585.8 466.4L592.8 462M585.8 466.4L587.5 473M562.9 471.7L566.4 487.5M540 459.4L547 466.4M550.6 499.8L557.6 503.3L568.2 506.9L569.9 512.1L561.1 517.4L552.3 517.4L543.5 520.9M561.1 517.4L563 524M543.5 520.9L545.3 538.5L555.8 540.3L564.6 538.5L575.2 540.3L584 536.8L592.8 538.5L599.8 543.8M528.2 521.7L535.2 517L544.6 521.7L543.4 532.3L536.4 531.1L529.3 525.2M544.6 521.7L552.8 517L561 518.2L565.7 513.5L570.4 511.2M543.4 532.3L543.4 537L550.4 541.7L558.7 539.3L565.7 544L572.7 539.3L578.6 539.3M565.7 544L568 549.9L570.4 556.9M550.4 541.7L550.4 547.5L544.6 551.1L542.2 554.6L546.9 555.7L554 554.6L558.7 551.1L556.3 545.2M517.6 545.2L523.5 549.9L532.8 556.9L538.7 559.3L542.2 554.6M538.7 559.3L539.9 568.7L537.5 575.7M539.9 568.7L546.9 566.3L551.6 571L558.7 569.9L564.5 571M551.6 571L553 580L548 584L542 586L540 592M513.5 593.4L522.3 589L529.4 597L536.4 595.2L545.2 586.4L552.2 588.2L562.8 586.4L571.6 581.1L582.1 577.6L583.9 570.6M582.1 577.6L583.9 583.8M517.9 582.9L522.3 589M536.4 595.2L534.6 604L547 607.5L552.2 612.8L562.8 611L571.6 600.5M562.8 611L568 618M552.2 612.8L552.2 621.6L554 630.4L547 635.7L538.2 633.9L525.8 626.9L520.6 619.8L510 616.3L502.7 615.7L490.4 617.4M554 630.4L557.5 639.2L566.3 642.7M557.5 639.2L561 651.5M547 635.7L543.4 644.5L548.7 655L541.7 656.8L536.4 663.8L540 672.6L538.2 678M527.6 637.4L517 641M522 589.3L532.6 598.1L539.7 592.8M516.8 582.2L522 589.3L513 594.5M518.5 614.8L522.1 622.7L525.6 628L534.4 626.2M530 640L540 645L550 648M525.8 626.9L530 632L538.2 633.9M521 626.4L530.4 628.8L542 631L553.7 628.8L558.4 638.1L563 649.8L570 642.8M523.4 635.8L535 642.8L546.7 640.5L556 640.5M532.7 645.1L539.7 654.5L544.4 656.8L549 649.8L558.4 642.8M542 654.5L537.4 666.2L539.7 677.9L544.4 673.2M516.4 638.1L528 635.8M553.7 628.8L551.4 617.1L558.4 610L567.8 617.1M560 645L566 652L562 658" fill="none" stroke="#80ff80" stroke-width="0.98" stroke-linecap="round" stroke-linejoin="round" opacity="0.6"/><path d="M471 570.8L482.5 572.6M478.1 573.4L476.3 584L472.8 592.8L467.5 587.5M472.8 592.8L476.3 599.8L483.3 606.9L488.6 605.1M457 594.5L464 601.6L455.2 608.6L446.4 612.1L441.1 606.9M446.4 612.1L442.9 622.7M464 601.6L471 598L474.5 606.9L481.6 613.9L478.1 620M481.6 613.9L490.4 615.7L500 618M467.5 587.5L471 598M476 605L486 603" fill="none" stroke="#0a0a8a" stroke-width="3.6" stroke-linecap="round" stroke-linejoin="round"/><path d="M471 570.8L482.5 572.6M478.1 573.4L476.3 584L472.8 592.8L467.5 587.5M472.8 592.8L476.3 599.8L483.3 606.9L488.6 605.1M457 594.5L464 601.6L455.2 608.6L446.4 612.1L441.1 606.9M446.4 612.1L442.9 622.7M464 601.6L471 598L474.5 606.9L481.6 613.9L478.1 620M481.6 613.9L490.4 615.7L500 618M467.5 587.5L471 598M476 605L486 603" fill="none" stroke="#1e1ee0" stroke-width="2.8" stroke-linecap="round" stroke-linejoin="round"/>
</svg>
</body></html>
